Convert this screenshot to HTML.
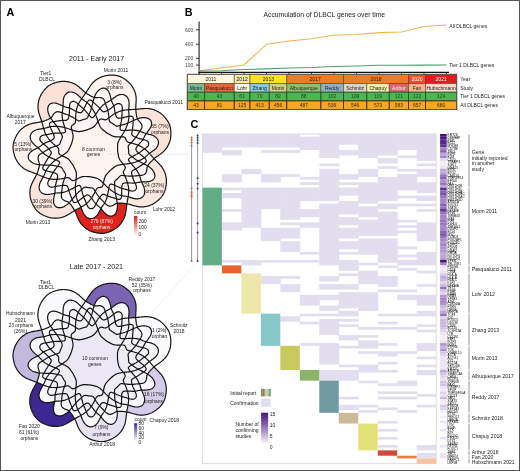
<!DOCTYPE html>
<html><head><meta charset="utf-8"><style>
html,body{margin:0;padding:0;background:#fff;width:520px;height:471px;overflow:hidden}
svg{display:block;opacity:0.996}
text{font-family:"Liberation Sans",sans-serif}
</style></head><body>
<svg width="520" height="471" viewBox="0 0 520 471" font-family="Liberation Sans, sans-serif">
<rect x="0" y="0" width="520" height="471" fill="#fff"/>
<defs>
<path id="vac0" d="M64.5,156.8L64.1,156.7L63.7,156.5L63.3,156.3L62.9,156.1L62.4,155.9L61.9,155.7L61.5,155.4L61.0,155.2L60.5,155.0L60.1,154.8L59.7,154.5L59.4,154.2L59.2,154.0L59.0,153.7L58.9,153.4L58.8,153.2L58.8,152.9L58.7,152.6L58.7,152.4L58.7,152.1L58.7,151.8L58.7,151.5L58.7,151.3L58.8,151.0L58.8,150.7L58.8,150.4L58.8,150.2L58.8,149.9L58.8,149.6L58.8,149.3L58.7,149.0L58.6,148.7L58.5,148.4L58.3,148.1L58.0,147.8L57.7,147.5L57.3,147.1L56.8,146.8L56.4,146.4L55.9,146.0L55.4,145.6L54.9,145.2L54.4,144.7L53.9,144.3L53.4,143.9L52.9,143.4L52.4,143.0L52.0,142.5L51.5,142.0L51.0,141.6L50.6,141.1L50.1,140.6L49.7,140.1L49.3,139.6L48.9,139.1L48.5,138.6L48.1,138.0L47.7,137.5L47.3,137.0L47.0,136.4L46.7,135.9L46.4,135.4L46.1,134.8L45.8,134.3L45.6,133.8L45.3,133.2L45.1,132.7L44.9,132.2L44.7,131.6L44.5,131.1L44.3,130.5L44.2,130.0L44.0,129.4L43.8,128.9L43.6,128.3L43.5,127.7L43.3,127.1L43.1,126.6L43.0,126.0L42.8,125.4L42.6,124.7L42.5,124.1L42.3,123.5L42.1,122.8L41.9,122.2L41.7,121.5L41.5,120.8L41.2,120.1L41.0,119.3L40.7,118.6L40.5,117.8L40.2,117.0L39.9,116.2L39.7,115.4L39.4,114.6L39.2,113.8L38.9,113.0L38.7,112.1L38.5,111.3L38.4,110.5L38.2,109.7L38.1,108.9L38.1,108.2L38.0,107.4L38.0,106.7L38.0,105.9L38.1,105.2L38.1,104.5L38.2,103.8L38.3,103.1L38.4,102.4L38.5,101.7L38.7,101.0L38.8,100.4L39.0,99.7L39.2,99.0L39.4,98.4L39.6,97.8L39.9,97.2L40.2,96.5L40.4,95.9L40.7,95.4L41.0,94.8L41.4,94.2L41.7,93.7L42.0,93.1L42.4,92.6L42.8,92.1L43.1,91.5L43.5,91.0L43.9,90.5L44.3,90.0L44.7,89.5L45.2,89.0L45.6,88.5L46.0,88.1L46.5,87.6L47.0,87.2L47.4,86.8L47.9,86.4L48.4,86.0L49.0,85.6L49.5,85.3L50.0,84.9L50.6,84.6L51.1,84.3L51.7,84.0L52.3,83.8L52.9,83.5L53.5,83.3L54.1,83.1L54.7,82.9L55.3,82.7L55.9,82.5L56.5,82.3L57.2,82.2L57.8,82.0L58.4,81.9L59.1,81.8L59.7,81.7L60.3,81.6L61.0,81.5L61.6,81.4L62.3,81.4L62.9,81.3L63.6,81.3L64.3,81.3L64.9,81.4L65.6,81.4L66.3,81.5L66.9,81.6L67.6,81.7L68.3,81.8L69.0,81.9L69.7,82.1L70.3,82.3L71.0,82.5L71.7,82.7L72.4,82.9L73.0,83.2L73.7,83.5L74.4,83.8L75.1,84.2L75.8,84.6L76.5,85.1L77.1,85.5L77.8,86.0L78.5,86.6L79.2,87.1L79.8,87.7L80.5,88.3L81.1,88.8L81.8,89.4L82.4,90.0L83.0,90.5L83.6,91.0L84.1,91.5L84.7,92.0L85.3,92.4L85.8,92.8L86.3,93.2L86.8,93.6L87.3,93.9L87.8,94.2L88.3,94.5L88.8,94.8L89.3,95.1L89.8,95.4L90.3,95.7L90.7,95.9L91.2,96.2L91.6,96.4L92.1,96.6L92.5,96.8L93.0,97.0L93.4,97.2L93.9,97.4L94.3,97.5L94.7,97.6L95.2,97.7L95.6,97.7L96.0,97.7L96.5,97.7L96.9,97.7L97.3,97.6L97.8,97.6L98.2,97.5L98.7,97.5L99.1,97.5L99.5,97.5L100.0,97.5L100.4,97.6L100.9,97.6L101.3,97.7L101.7,97.9L102.1,98.1L102.5,98.3L102.9,98.6L103.3,98.9L103.7,99.3L104.0,99.8L104.3,100.4L104.6,101.0L104.9,101.7L105.1,102.5L105.4,103.2L105.6,103.9L105.9,104.7L106.1,105.3L106.3,106.0L106.5,106.6L106.8,107.2L107.0,107.8L107.2,108.4L107.4,109.0L107.6,109.6L107.7,110.2L107.9,110.9L108.0,111.5L108.2,112.1L108.3,112.8L108.4,113.4L108.5,114.1L108.6,114.7L108.7,115.4L108.8,116.0L108.9,116.7L108.9,117.3L109.0,118.0L109.0,118.6L109.1,119.2L109.2,119.7L109.2,120.2L109.3,120.7L109.5,121.0L109.6,121.4L109.8,121.6L110.0,121.9L110.2,122.0L110.4,122.2L110.7,122.4L110.9,122.5L111.1,122.6L111.4,122.8L111.6,122.9L111.8,123.1L112.1,123.2L112.3,123.4L112.5,123.5L112.8,123.7L113.0,123.8L113.2,124.0L113.5,124.1L113.7,124.3L113.9,124.4L114.1,124.6L114.4,124.7L114.6,124.9L114.8,125.1L115.0,125.2L115.2,125.4L115.5,125.6L115.7,125.7L115.9,125.9L116.2,126.0L116.5,126.1L116.8,126.1L117.2,126.1L117.6,126.1L118.0,126.0L118.5,125.9L119.0,125.8L119.6,125.6L120.1,125.4L120.7,125.3L121.3,125.1L121.9,125.0L122.5,124.8L123.1,124.7L123.7,124.5L124.4,124.3L125.2,124.1L126.0,123.8L126.9,123.4L127.9,123.0L129.0,122.5L130.3,122.0L131.6,121.3L133.0,120.7L134.4,120.1L135.8,119.5L137.1,119.0L138.4,118.5L139.6,118.2L140.7,117.9L141.7,117.8L142.6,117.7L143.5,117.6L144.3,117.6L145.1,117.7L145.8,117.8L146.5,117.9L147.2,118.1L147.8,118.3L148.3,118.5L148.9,118.8L149.3,119.1L149.8,119.5L150.2,119.8L150.5,120.2L150.8,120.6L151.1,121.1L151.3,121.6L151.4,122.1L151.5,122.6L151.6,123.2L151.6,123.7L151.5,124.3L151.4,124.9L151.3,125.6L151.1,126.2L150.8,126.9L150.5,127.6L150.1,128.3L149.6,129.0L149.1,129.7L148.6,130.4L148.1,131.2L147.5,131.9L147.0,132.6L146.5,133.2L146.0,133.9L145.6,134.5L145.2,135.1L144.9,135.6L144.6,136.2L144.4,136.7L144.1,137.2L143.8,137.7L143.6,138.2L143.3,138.7L143.0,139.2L142.7,139.8L142.3,140.3L141.9,140.8L141.5,141.3L141.1,141.8L140.7,142.2L140.3,142.7L139.8,143.2L139.4,143.7L139.0,144.1L138.6,144.6L138.3,145.0L137.9,145.4L137.6,145.8L137.3,146.2L137.0,146.6L136.8,147.0L136.5,147.4L136.3,147.7L136.1,148.1L136.0,148.5L135.9,148.8L135.9,149.1L135.9,149.5L136.0,149.8L136.1,150.1L136.3,150.4L136.5,150.8L136.7,151.1L137.0,151.4L137.3,151.8L137.7,152.1L138.0,152.4L138.4,152.8L138.8,153.1L139.2,153.5L139.7,153.9L140.1,154.2L140.6,154.6L141.1,155.0L141.6,155.4L142.1,155.8L142.7,156.2L143.2,156.6L143.7,157.1L144.1,157.5L144.6,158.0L145.0,158.4L145.4,158.9L145.8,159.3L146.0,159.8L146.2,160.2L146.3,160.6L146.3,161.1L146.2,161.5L145.9,161.8L145.6,162.2L145.3,162.6L144.8,162.9L144.4,163.2L143.9,163.6L143.5,163.9L143.0,164.2L142.6,164.5L142.1,164.8L141.7,165.1L141.3,165.4L140.9,165.6L140.4,165.9L140.0,166.2L139.6,166.5L139.2,166.8L138.8,167.0L138.5,167.3L138.1,167.6L137.7,167.8L137.3,168.1L136.9,168.3L136.5,168.5L136.1,168.8L135.7,169.0L135.2,169.2L134.8,169.4L134.4,169.6L134.0,169.8L133.6,170.0L133.2,170.2L132.9,170.5L132.6,170.7L132.3,170.9L132.0,171.2L131.9,171.5L131.7,171.8L131.6,172.1L131.6,172.4L131.6,172.8L131.6,173.2L131.6,173.6L131.7,174.0L131.8,174.5L131.9,175.0L132.1,175.4L132.2,175.9L132.3,176.4L132.5,176.9L132.7,177.5L132.8,178.0L133.0,178.6L133.3,179.2L133.5,179.8L133.8,180.4L134.1,181.1L134.4,181.8L134.8,182.5L135.1,183.3L135.5,184.0L135.8,184.8L136.1,185.5L136.3,186.2L136.4,186.9L136.5,187.5L136.4,188.0L136.3,188.5L136.2,188.9L136.0,189.3L135.7,189.7L135.4,190.0L135.1,190.3L134.7,190.6L134.3,190.8L133.9,190.9L133.4,191.0L132.8,191.1L132.1,191.0L131.4,190.9L130.7,190.8L129.9,190.6L129.1,190.3L128.3,190.1L127.6,189.9L126.8,189.6L126.2,189.4L125.5,189.3L124.8,189.1L124.2,189.0L123.6,188.8L123.0,188.6L122.4,188.5L121.8,188.3L121.2,188.1L120.6,187.8L119.9,187.6L119.3,187.3L118.7,187.1L118.1,186.8L117.5,186.5L116.9,186.3L116.4,186.0L115.8,185.8L115.3,185.5L114.8,185.3L114.3,185.1L113.8,184.9L113.3,184.7L112.9,184.5L112.5,184.4L112.1,184.3L111.7,184.2L111.3,184.1L111.0,184.1L110.7,184.1L110.4,184.2L110.2,184.4L110.0,184.6L109.8,184.8L109.6,185.1L109.5,185.5L109.4,185.9L109.2,186.3L109.1,186.7L109.0,187.2L108.9,187.7L108.8,188.2L108.7,188.7L108.6,189.3L108.5,189.9L108.4,190.5L108.3,191.1L108.2,191.7L108.1,192.4L108.0,193.1L107.9,193.7L107.7,194.4L107.6,195.0L107.4,195.7L107.3,196.4L107.1,197.0L106.9,197.6L106.7,198.3L106.5,198.9L106.3,199.5L106.0,200.1L105.8,200.7L105.5,201.2L105.3,201.8L105.0,202.3L104.7,202.9L104.4,203.4L104.1,203.8L103.8,204.3L103.4,204.8L103.1,205.2L102.7,205.7L102.4,206.2L102.0,206.7L101.7,207.2L101.3,207.8L101.0,208.5L100.6,209.1L100.3,209.8L99.9,210.6L99.5,211.4L99.1,212.1L98.7,212.9L98.3,213.6L97.9,214.2L97.4,214.9L97.0,215.4L96.5,215.9L96.0,216.4L95.5,216.8L95.0,217.2L94.5,217.5L94.0,217.8L93.5,218.0L93.0,218.2L92.5,218.4L92.0,218.5L91.4,218.6L90.9,218.6L90.4,218.6L89.9,218.6L89.4,218.5L88.9,218.3L88.4,218.2L87.9,217.9L87.4,217.7L86.9,217.4L86.4,217.0L86.0,216.6L85.5,216.2L85.1,215.7L84.7,215.2L84.3,214.6L83.9,214.0L83.5,213.3L83.1,212.6L82.8,211.9L82.4,211.1L82.1,210.3L81.8,209.5L81.5,208.7L81.2,208.0L81.0,207.3L80.7,206.6L80.4,206.0L80.1,205.5L79.8,204.9L79.5,204.4L79.2,203.9L78.9,203.4L78.6,202.9L78.3,202.4L78.1,201.9L77.8,201.4L77.6,200.8L77.4,200.3L77.2,199.7L77.0,199.1L76.8,198.5L76.6,197.9L76.4,197.2L76.3,196.6L76.2,196.0L76.0,195.3L75.9,194.7L75.8,194.0L75.7,193.4L75.6,192.7L75.6,192.1L75.5,191.4L75.4,190.8L75.4,190.1L75.4,189.4L75.3,188.8L75.3,188.1L75.3,187.4L75.4,186.8L75.4,186.1L75.4,185.4L75.5,184.7L75.6,184.0L75.7,183.3L75.7,182.6L75.8,182.0L75.9,181.3L76.0,180.7L76.1,180.2L76.1,179.6L76.2,179.1L76.2,178.6L76.2,178.1L76.3,177.6L76.3,177.2L76.3,176.8L76.3,176.4L76.4,176.0L76.4,175.6L76.4,175.2L76.4,174.8L76.4,174.5L76.4,174.1L76.4,173.8L76.4,173.5L76.3,173.2L76.3,172.9L76.2,172.7L76.2,172.4L76.1,172.2L76.1,171.9L76.0,171.7L75.9,171.5L75.9,171.3L75.8,171.1L75.7,170.9L75.6,170.7L75.6,170.5L75.5,170.3L75.4,170.1L75.3,169.9L75.2,169.7L75.2,169.5L75.1,169.3L75.0,169.1L74.9,169.0L74.8,168.8L74.7,168.6L74.6,168.4L74.6,168.3L74.5,168.1L74.4,167.9L74.3,167.7L74.2,167.5L74.1,167.4L74.0,167.2L74.0,167.0L73.9,166.8L73.8,166.7L73.7,166.5L73.6,166.3L73.5,166.2L73.4,166.0L73.4,165.8L73.3,165.7L73.2,165.5L73.1,165.3L73.0,165.2L72.9,165.0L72.8,164.8L72.7,164.7L72.6,164.5L72.5,164.4L72.4,164.2L72.3,164.1L72.2,163.9L72.0,163.7L71.9,163.6L71.8,163.4L71.7,163.3L71.6,163.1L71.5,163.0L71.4,162.8L71.2,162.6L71.1,162.5L71.0,162.3L70.9,162.2L70.8,162.0L70.7,161.8L70.6,161.7L70.4,161.5L70.3,161.3L70.2,161.2L70.1,161.0L69.9,160.8L69.8,160.7L69.7,160.5L69.5,160.4L69.4,160.2L69.3,160.0L69.1,159.9L69.0,159.7L68.8,159.5L68.6,159.4L68.5,159.2L68.3,159.0L68.1,158.9L67.9,158.7L67.6,158.5L67.4,158.4L67.1,158.2L66.8,158.0L66.6,157.9L66.2,157.7L65.9,157.5L65.6,157.4L65.2,157.2L64.9,157.0Z"/>
<path id="vac1" d="M59.2,157.5L59.7,157.2L60.3,156.9L60.8,156.5L61.3,156.2L61.8,155.9L62.2,155.6L62.7,155.4L63.1,155.1L63.5,154.8L63.8,154.6L64.2,154.3L64.5,154.1L64.8,153.8L65.2,153.6L65.5,153.4L65.8,153.1L66.0,152.9L66.3,152.7L66.5,152.5L66.8,152.3L67.0,152.1L67.2,151.9L67.4,151.7L67.6,151.5L67.7,151.3L67.9,151.1L68.0,150.9L68.1,150.7L68.3,150.5L68.4,150.3L68.5,150.1L68.6,150.0L68.7,149.8L68.8,149.6L68.9,149.4L69.0,149.2L69.1,149.0L69.2,148.8L69.3,148.7L69.4,148.5L69.5,148.3L69.6,148.1L69.6,147.9L69.7,147.8L69.8,147.6L69.9,147.4L70.0,147.2L70.1,147.1L70.2,146.9L70.2,146.7L70.3,146.5L70.4,146.4L70.5,146.2L70.6,146.0L70.7,145.8L70.7,145.7L70.8,145.5L70.9,145.3L71.0,145.1L71.0,145.0L71.1,144.8L71.2,144.6L71.3,144.4L71.3,144.3L71.4,144.1L71.4,143.9L71.5,143.7L71.6,143.5L71.6,143.4L71.7,143.2L71.7,143.0L71.8,142.8L71.8,142.6L71.9,142.4L71.9,142.3L72.0,142.1L72.0,141.9L72.1,141.7L72.1,141.5L72.2,141.3L72.3,141.1L72.3,140.9L72.4,140.8L72.4,140.6L72.5,140.4L72.5,140.2L72.6,140.0L72.6,139.8L72.7,139.6L72.7,139.4L72.8,139.2L72.8,139.0L72.9,138.8L72.9,138.5L73.0,138.3L73.0,138.1L73.0,137.9L73.1,137.7L73.1,137.4L73.1,137.2L73.1,137.0L73.1,136.7L73.1,136.4L73.1,136.2L73.1,135.9L73.1,135.6L73.0,135.2L73.0,134.9L72.9,134.6L72.9,134.2L72.8,133.9L72.7,133.5L72.6,133.1L72.5,132.7L72.4,132.3L72.3,131.8L72.2,131.4L72.1,130.9L72.0,130.5L71.9,130.0L71.7,129.5L71.6,128.9L71.5,128.4L71.4,128.0L71.3,127.5L71.3,127.1L71.4,126.7L71.5,126.4L71.6,126.1L71.8,125.9L71.9,125.7L72.1,125.5L72.3,125.3L72.5,125.1L72.8,125.0L73.0,124.8L73.2,124.6L73.4,124.5L73.7,124.3L73.9,124.1L74.1,124.0L74.3,123.8L74.5,123.7L74.7,123.5L74.9,123.3L75.1,123.0L75.3,122.7L75.4,122.4L75.5,122.0L75.5,121.5L75.6,121.0L75.6,120.5L75.6,119.9L75.6,119.2L75.6,118.6L75.6,118.0L75.6,117.3L75.7,116.6L75.7,116.0L75.7,115.3L75.8,114.7L75.9,114.0L75.9,113.3L76.0,112.7L76.1,112.0L76.2,111.4L76.3,110.7L76.5,110.1L76.6,109.4L76.8,108.8L76.9,108.2L77.1,107.6L77.3,106.9L77.5,106.3L77.7,105.7L77.9,105.2L78.1,104.6L78.4,104.1L78.6,103.5L78.9,103.0L79.2,102.5L79.5,102.0L79.8,101.5L80.1,101.0L80.4,100.5L80.7,100.1L81.0,99.6L81.4,99.1L81.7,98.6L82.0,98.1L82.4,97.6L82.8,97.1L83.1,96.6L83.5,96.1L83.9,95.6L84.2,95.1L84.6,94.6L85.0,94.0L85.4,93.4L85.8,92.9L86.2,92.3L86.6,91.6L87.0,91.0L87.5,90.3L87.9,89.6L88.3,88.9L88.8,88.2L89.3,87.5L89.7,86.8L90.2,86.1L90.7,85.4L91.2,84.7L91.7,84.1L92.3,83.4L92.8,82.8L93.3,82.2L93.9,81.7L94.5,81.2L95.0,80.7L95.6,80.2L96.2,79.8L96.8,79.4L97.4,79.0L98.0,78.6L98.6,78.3L99.2,78.0L99.8,77.7L100.5,77.4L101.1,77.1L101.7,76.8L102.4,76.6L103.0,76.4L103.6,76.2L104.3,76.0L104.9,75.8L105.6,75.7L106.2,75.6L106.8,75.5L107.5,75.4L108.1,75.3L108.8,75.2L109.4,75.2L110.1,75.2L110.7,75.1L111.3,75.1L112.0,75.1L112.6,75.1L113.3,75.2L113.9,75.2L114.6,75.2L115.2,75.3L115.8,75.4L116.5,75.5L117.1,75.6L117.7,75.8L118.3,75.9L118.9,76.1L119.5,76.3L120.1,76.6L120.7,76.8L121.3,77.1L121.9,77.4L122.4,77.7L123.0,78.0L123.5,78.3L124.1,78.7L124.6,79.0L125.1,79.4L125.6,79.8L126.2,80.2L126.7,80.6L127.2,81.0L127.7,81.4L128.1,81.8L128.6,82.3L129.1,82.7L129.5,83.2L130.0,83.6L130.4,84.1L130.8,84.6L131.3,85.1L131.7,85.7L132.0,86.2L132.4,86.8L132.8,87.4L133.1,88.0L133.4,88.6L133.8,89.2L134.1,89.8L134.3,90.5L134.6,91.1L134.9,91.8L135.1,92.4L135.3,93.1L135.5,93.9L135.7,94.6L135.8,95.3L136.0,96.1L136.1,96.9L136.1,97.8L136.1,98.6L136.2,99.5L136.2,100.3L136.1,101.2L136.1,102.1L136.0,102.9L136.0,103.8L135.9,104.6L135.9,105.4L135.8,106.2L135.8,107.0L135.8,107.7L135.8,108.4L135.8,109.1L135.8,109.8L135.9,110.4L135.9,111.0L136.0,111.6L136.0,112.2L136.1,112.8L136.2,113.3L136.3,113.9L136.3,114.4L136.4,115.0L136.5,115.5L136.6,116.0L136.7,116.5L136.8,116.9L137.0,117.4L137.1,117.9L137.3,118.3L137.4,118.7L137.6,119.1L137.8,119.5L138.0,119.9L138.3,120.3L138.6,120.6L138.9,120.9L139.2,121.2L139.5,121.6L139.8,121.9L140.1,122.2L140.4,122.5L140.7,122.9L140.9,123.2L141.2,123.6L141.4,124.0L141.6,124.4L141.7,124.8L141.9,125.2L142.0,125.7L142.0,126.1L142.0,126.6L141.9,127.2L141.8,127.7L141.5,128.3L141.2,129.0L140.9,129.6L140.5,130.3L140.0,130.9L139.6,131.6L139.2,132.2L138.8,132.8L138.4,133.4L138.1,134.0L137.7,134.5L137.4,135.1L137.0,135.6L136.7,136.1L136.3,136.6L136.0,137.2L135.6,137.7L135.2,138.2L134.8,138.7L134.4,139.2L133.9,139.7L133.5,140.2L133.1,140.7L132.6,141.2L132.1,141.6L131.7,142.1L131.2,142.5L130.7,143.0L130.3,143.4L129.9,143.8L129.5,144.2L129.1,144.6L128.8,145.0L128.6,145.3L128.4,145.6L128.3,145.9L128.2,146.2L128.2,146.5L128.2,146.8L128.2,147.1L128.3,147.4L128.3,147.6L128.3,147.9L128.4,148.2L128.4,148.4L128.4,148.7L128.5,149.0L128.5,149.3L128.5,149.5L128.6,149.8L128.6,150.1L128.6,150.4L128.6,150.6L128.6,150.9L128.7,151.2L128.7,151.5L128.7,151.7L128.7,152.0L128.7,152.3L128.7,152.6L128.7,152.8L128.7,153.1L128.8,153.4L128.8,153.7L128.9,153.9L129.1,154.2L129.3,154.5L129.5,154.8L129.8,155.1L130.2,155.4L130.7,155.7L131.1,156.1L131.6,156.4L132.1,156.7L132.6,157.1L133.1,157.5L133.5,157.8L134.0,158.2L134.6,158.6L135.1,159.0L135.7,159.4L136.4,159.9L137.2,160.4L138.2,160.9L139.2,161.5L140.4,162.0L141.7,162.7L143.0,163.4L144.4,164.1L145.7,164.8L147.0,165.5L148.2,166.2L149.2,167.0L150.2,167.7L151.0,168.4L151.7,169.0L152.3,169.7L152.8,170.4L153.3,171.0L153.6,171.6L154.0,172.3L154.3,172.9L154.5,173.5L154.7,174.1L154.8,174.6L154.9,175.2L154.9,175.8L154.9,176.3L154.8,176.8L154.7,177.3L154.5,177.8L154.2,178.3L153.9,178.7L153.6,179.1L153.2,179.5L152.8,179.9L152.3,180.2L151.8,180.5L151.2,180.8L150.6,181.1L149.9,181.3L149.2,181.5L148.4,181.6L147.6,181.7L146.7,181.8L145.8,181.9L144.9,181.9L144.0,181.9L143.1,181.9L142.3,181.9L141.5,182.0L140.7,182.0L140.0,182.1L139.4,182.2L138.8,182.3L138.2,182.4L137.6,182.5L137.1,182.7L136.5,182.8L135.9,182.9L135.4,183.0L134.8,183.0L134.2,183.1L133.5,183.1L132.9,183.1L132.2,183.1L131.6,183.0L130.9,183.0L130.3,183.0L129.7,182.9L129.1,182.9L128.5,182.9L127.9,182.9L127.4,182.8L126.8,182.8L126.3,182.9L125.8,182.9L125.4,182.9L124.9,183.0L124.5,183.0L124.1,183.1L123.7,183.2L123.4,183.4L123.1,183.5L122.9,183.7L122.6,184.0L122.4,184.3L122.3,184.6L122.2,185.0L122.0,185.3L122.0,185.8L121.9,186.2L121.8,186.7L121.8,187.2L121.8,187.7L121.7,188.2L121.7,188.7L121.7,189.3L121.7,189.9L121.7,190.5L121.7,191.1L121.7,191.8L121.7,192.4L121.7,193.1L121.7,193.8L121.7,194.4L121.6,195.1L121.6,195.7L121.5,196.3L121.4,196.9L121.3,197.5L121.1,198.0L120.9,198.4L120.6,198.8L120.3,199.1L119.9,199.2L119.5,199.3L119.0,199.4L118.5,199.3L118.0,199.2L117.5,199.1L116.9,198.9L116.4,198.7L115.9,198.6L115.3,198.4L114.8,198.2L114.3,198.1L113.8,197.9L113.4,197.8L112.9,197.7L112.4,197.5L111.9,197.4L111.5,197.2L111.0,197.1L110.6,196.9L110.1,196.8L109.7,196.6L109.2,196.5L108.8,196.3L108.3,196.2L107.9,196.0L107.5,195.8L107.1,195.6L106.6,195.5L106.2,195.3L105.8,195.1L105.4,194.9L105.0,194.7L104.6,194.6L104.2,194.4L103.8,194.4L103.5,194.3L103.2,194.3L102.8,194.4L102.5,194.5L102.2,194.7L101.9,194.9L101.6,195.1L101.3,195.4L101.0,195.8L100.7,196.1L100.5,196.5L100.2,196.9L99.9,197.3L99.6,197.7L99.3,198.1L99.0,198.6L98.7,199.1L98.3,199.6L98.0,200.1L97.7,200.6L97.4,201.2L97.0,201.9L96.7,202.6L96.3,203.3L96.0,204.0L95.6,204.8L95.2,205.5L94.8,206.2L94.4,206.8L94.0,207.4L93.5,207.8L93.1,208.1L92.7,208.4L92.2,208.6L91.8,208.7L91.4,208.7L90.9,208.7L90.5,208.6L90.0,208.5L89.6,208.4L89.2,208.1L88.8,207.8L88.4,207.4L88.0,206.9L87.7,206.3L87.3,205.7L87.0,204.9L86.7,204.2L86.4,203.4L86.1,202.7L85.8,202.0L85.5,201.3L85.2,200.6L85.0,200.0L84.7,199.4L84.4,198.9L84.2,198.3L83.9,197.7L83.7,197.1L83.5,196.5L83.3,195.9L83.1,195.3L82.9,194.6L82.7,194.0L82.5,193.3L82.4,192.7L82.2,192.1L82.1,191.5L81.9,190.9L81.8,190.3L81.6,189.8L81.5,189.2L81.3,188.7L81.2,188.3L81.1,187.8L80.9,187.4L80.8,187.0L80.6,186.6L80.4,186.3L80.2,186.0L80.0,185.8L79.8,185.6L79.5,185.5L79.3,185.4L79.0,185.4L78.6,185.5L78.3,185.6L77.9,185.7L77.5,185.8L77.1,186.0L76.6,186.2L76.2,186.5L75.7,186.7L75.3,186.9L74.8,187.2L74.3,187.5L73.7,187.8L73.2,188.1L72.6,188.4L72.0,188.7L71.5,189.1L70.9,189.4L70.3,189.7L69.7,190.0L69.1,190.3L68.4,190.6L67.8,190.8L67.2,191.1L66.6,191.3L66.0,191.5L65.4,191.8L64.8,192.0L64.1,192.1L63.5,192.3L62.9,192.4L62.3,192.6L61.7,192.7L61.2,192.7L60.6,192.8L60.0,192.8L59.4,192.9L58.9,192.9L58.3,192.9L57.7,192.9L57.1,193.0L56.5,193.0L55.8,193.1L55.1,193.2L54.4,193.4L53.6,193.5L52.8,193.7L51.9,193.9L51.1,194.0L50.3,194.2L49.4,194.3L48.6,194.4L47.9,194.5L47.1,194.5L46.4,194.4L45.8,194.4L45.1,194.3L44.5,194.1L43.9,193.9L43.4,193.7L42.9,193.5L42.4,193.2L41.9,192.9L41.5,192.6L41.1,192.2L40.7,191.9L40.4,191.5L40.1,191.0L39.9,190.6L39.7,190.1L39.5,189.6L39.3,189.1L39.2,188.5L39.2,188.0L39.1,187.4L39.1,186.8L39.2,186.2L39.3,185.6L39.4,184.9L39.6,184.2L39.8,183.5L40.1,182.8L40.4,182.1L40.8,181.4L41.2,180.6L41.6,179.9L42.0,179.1L42.4,178.4L42.8,177.7L43.2,177.1L43.5,176.4L43.8,175.8L44.1,175.2L44.4,174.6L44.6,174.1L44.8,173.6L45.0,173.0L45.2,172.5L45.4,172.0L45.6,171.4L45.9,170.9L46.2,170.4L46.5,169.9L46.8,169.3L47.1,168.8L47.5,168.3L47.9,167.8L48.2,167.2L48.6,166.7L49.1,166.2L49.5,165.7L49.9,165.2L50.3,164.7L50.8,164.2L51.2,163.8L51.7,163.3L52.2,162.8L52.6,162.4L53.1,161.9L53.6,161.5L54.1,161.1L54.6,160.7L55.2,160.2L55.7,159.8L56.3,159.4L56.8,159.0L57.4,158.6L58.0,158.3L58.6,157.9Z"/>
<path id="vac2" d="M52.4,158.4L51.8,158.2L51.2,157.9L50.6,157.6L50.0,157.4L49.4,157.1L48.8,156.8L48.2,156.5L47.6,156.1L47.0,155.8L46.4,155.5L45.9,155.1L45.3,154.8L44.8,154.4L44.3,154.0L43.8,153.6L43.3,153.3L42.9,152.9L42.5,152.5L42.1,152.0L41.7,151.6L41.3,151.2L40.9,150.8L40.5,150.3L40.1,149.9L39.7,149.4L39.3,149.0L38.8,148.5L38.3,148.0L37.8,147.6L37.2,147.0L36.5,146.5L35.9,146.0L35.2,145.4L34.6,144.9L34.0,144.3L33.4,143.8L32.9,143.2L32.4,142.6L31.9,142.0L31.6,141.5L31.2,140.9L31.0,140.3L30.7,139.8L30.5,139.2L30.4,138.7L30.3,138.1L30.2,137.6L30.2,137.0L30.2,136.5L30.3,136.0L30.4,135.5L30.5,135.0L30.7,134.5L30.9,134.0L31.2,133.6L31.5,133.1L31.8,132.7L32.2,132.3L32.6,131.9L33.1,131.5L33.6,131.2L34.1,130.8L34.7,130.5L35.3,130.2L36.0,130.0L36.7,129.7L37.5,129.5L38.3,129.3L39.1,129.2L39.9,129.1L40.8,128.9L41.6,128.8L42.4,128.7L43.2,128.6L43.9,128.4L44.6,128.3L45.2,128.1L45.8,128.0L46.4,127.8L47.0,127.6L47.5,127.4L48.1,127.3L48.6,127.1L49.2,127.0L49.7,126.8L50.3,126.7L50.9,126.6L51.5,126.5L52.1,126.5L52.8,126.4L53.4,126.4L54.0,126.3L54.7,126.3L55.3,126.3L56.0,126.3L56.7,126.4L57.3,126.4L58.0,126.4L58.6,126.5L59.3,126.6L59.9,126.6L60.6,126.7L61.2,126.8L61.9,126.9L62.5,127.1L63.2,127.2L63.8,127.3L64.5,127.5L65.2,127.7L65.8,127.9L66.5,128.1L67.1,128.3L67.8,128.5L68.4,128.8L69.1,129.0L69.7,129.2L70.3,129.4L70.8,129.6L71.4,129.8L71.9,130.0L72.4,130.2L72.8,130.3L73.3,130.5L73.7,130.6L74.2,130.7L74.6,130.8L75.0,130.9L75.3,131.0L75.7,131.1L76.1,131.2L76.4,131.3L76.8,131.4L77.1,131.4L77.4,131.5L77.7,131.5L78.0,131.6L78.2,131.6L78.5,131.6L78.8,131.6L79.0,131.6L79.2,131.6L79.5,131.6L79.7,131.6L79.9,131.5L80.2,131.5L80.4,131.5L80.6,131.5L80.8,131.4L81.0,131.4L81.2,131.3L81.4,131.3L81.6,131.3L81.8,131.2L82.0,131.2L82.2,131.1L82.4,131.1L82.6,131.1L82.8,131.0L83.0,131.0L83.2,130.9L83.4,130.9L83.6,130.8L83.7,130.8L83.9,130.7L84.1,130.7L84.3,130.7L84.5,130.6L84.7,130.6L84.9,130.5L85.1,130.5L85.2,130.4L85.4,130.4L85.6,130.3L85.8,130.3L86.0,130.2L86.2,130.2L86.3,130.1L86.5,130.1L86.7,130.0L86.9,129.9L87.1,129.9L87.2,129.8L87.4,129.7L87.6,129.7L87.8,129.6L87.9,129.5L88.1,129.5L88.3,129.4L88.5,129.3L88.7,129.2L88.8,129.2L89.0,129.1L89.2,129.0L89.4,128.9L89.6,128.9L89.7,128.8L89.9,128.7L90.1,128.6L90.3,128.6L90.5,128.5L90.7,128.4L90.9,128.3L91.0,128.2L91.2,128.1L91.4,128.1L91.6,128.0L91.8,127.9L92.0,127.8L92.2,127.7L92.4,127.6L92.6,127.5L92.8,127.3L93.0,127.2L93.2,127.1L93.4,127.0L93.6,126.8L93.8,126.6L94.0,126.5L94.2,126.3L94.4,126.1L94.6,125.8L94.9,125.6L95.1,125.3L95.3,125.1L95.6,124.8L95.8,124.5L96.1,124.2L96.3,123.9L96.6,123.5L96.8,123.2L97.1,122.8L97.4,122.5L97.7,122.1L98.0,121.7L98.3,121.3L98.6,120.8L99.0,120.4L99.3,120.0L99.6,119.7L99.9,119.4L100.2,119.2L100.6,119.1L100.8,119.0L101.1,118.9L101.4,118.9L101.7,119.0L102.0,119.0L102.2,119.1L102.5,119.1L102.8,119.2L103.0,119.3L103.3,119.3L103.6,119.4L103.8,119.5L104.1,119.6L104.4,119.6L104.6,119.7L104.9,119.8L105.2,119.8L105.5,119.8L105.8,119.7L106.1,119.6L106.5,119.5L106.9,119.3L107.3,119.0L107.7,118.7L108.2,118.3L108.7,117.9L109.2,117.5L109.7,117.1L110.2,116.7L110.7,116.3L111.3,116.0L111.8,115.6L112.3,115.2L112.9,114.8L113.5,114.5L114.0,114.1L114.6,113.8L115.2,113.5L115.7,113.2L116.3,112.9L116.9,112.6L117.5,112.3L118.1,112.0L118.7,111.7L119.3,111.5L119.9,111.3L120.5,111.1L121.1,110.9L121.7,110.7L122.2,110.5L122.8,110.4L123.4,110.3L124.0,110.2L124.5,110.1L125.1,110.0L125.7,110.0L126.3,109.9L126.8,109.9L127.4,109.8L128.0,109.8L128.6,109.7L129.2,109.7L129.8,109.6L130.4,109.6L131.0,109.6L131.6,109.6L132.3,109.5L132.9,109.5L133.5,109.5L134.2,109.4L134.9,109.4L135.6,109.3L136.3,109.3L137.0,109.2L137.8,109.1L138.6,109.1L139.4,109.0L140.2,108.9L141.0,108.8L141.9,108.7L142.7,108.6L143.6,108.6L144.4,108.5L145.3,108.5L146.1,108.5L147.0,108.5L147.8,108.5L148.6,108.6L149.4,108.7L150.1,108.8L150.9,108.9L151.6,109.1L152.3,109.3L153.0,109.5L153.7,109.7L154.3,109.9L155.0,110.2L155.6,110.5L156.3,110.7L156.9,111.0L157.5,111.4L158.1,111.7L158.7,112.0L159.3,112.4L159.8,112.7L160.4,113.1L160.9,113.5L161.4,113.9L161.9,114.4L162.4,114.8L162.8,115.2L163.3,115.7L163.8,116.2L164.2,116.6L164.6,117.1L165.1,117.6L165.5,118.1L165.9,118.6L166.3,119.1L166.7,119.6L167.0,120.1L167.4,120.7L167.7,121.2L168.1,121.8L168.4,122.3L168.7,122.9L169.0,123.5L169.2,124.0L169.5,124.6L169.7,125.2L169.9,125.8L170.1,126.4L170.2,127.0L170.4,127.7L170.5,128.3L170.6,128.9L170.7,129.6L170.7,130.2L170.8,130.8L170.8,131.5L170.9,132.1L170.9,132.8L170.9,133.4L170.9,134.1L170.9,134.7L170.8,135.4L170.8,136.0L170.7,136.6L170.7,137.3L170.6,137.9L170.5,138.6L170.4,139.2L170.2,139.9L170.0,140.5L169.9,141.2L169.7,141.8L169.4,142.4L169.2,143.1L168.9,143.7L168.6,144.3L168.3,145.0L168.0,145.6L167.7,146.2L167.3,146.8L167.0,147.4L166.6,148.1L166.1,148.7L165.7,149.2L165.2,149.8L164.7,150.4L164.1,151.0L163.5,151.6L162.9,152.1L162.2,152.7L161.5,153.2L160.9,153.7L160.2,154.2L159.4,154.7L158.7,155.2L158.1,155.7L157.4,156.2L156.7,156.6L156.1,157.1L155.5,157.6L154.9,158.0L154.4,158.4L153.9,158.9L153.4,159.3L153.0,159.7L152.5,160.1L152.1,160.6L151.7,161.0L151.3,161.4L150.9,161.8L150.6,162.2L150.2,162.6L149.8,163.0L149.5,163.4L149.2,163.7L148.9,164.1L148.6,164.5L148.3,164.9L148.0,165.3L147.8,165.7L147.6,166.1L147.4,166.5L147.2,166.9L147.1,167.3L147.0,167.8L146.9,168.2L146.9,168.6L146.8,169.1L146.8,169.5L146.7,169.9L146.7,170.4L146.6,170.8L146.5,171.2L146.3,171.7L146.2,172.1L146.0,172.5L145.8,172.9L145.5,173.2L145.3,173.6L144.9,173.9L144.6,174.2L144.1,174.5L143.6,174.8L143.0,175.0L142.3,175.1L141.6,175.3L140.8,175.4L140.1,175.4L139.3,175.5L138.6,175.6L137.8,175.6L137.1,175.7L136.4,175.8L135.8,175.9L135.1,175.9L134.5,176.0L133.9,176.1L133.3,176.1L132.6,176.2L132.0,176.2L131.3,176.2L130.7,176.2L130.0,176.2L129.4,176.2L128.7,176.1L128.1,176.1L127.4,176.0L126.8,176.0L126.1,175.9L125.5,175.8L124.8,175.7L124.2,175.7L123.6,175.6L123.0,175.5L122.5,175.5L122.0,175.4L121.6,175.5L121.2,175.5L120.9,175.6L120.6,175.7L120.3,175.9L120.1,176.1L119.9,176.2L119.7,176.4L119.5,176.6L119.3,176.8L119.1,177.0L119.0,177.2L118.8,177.4L118.6,177.6L118.4,177.8L118.2,178.0L118.0,178.2L117.8,178.4L117.6,178.6L117.4,178.8L117.2,179.0L117.0,179.1L116.8,179.3L116.6,179.5L116.4,179.7L116.1,179.9L115.9,180.0L115.7,180.2L115.5,180.4L115.3,180.6L115.1,180.8L115.0,181.0L114.8,181.3L114.7,181.6L114.6,182.0L114.6,182.4L114.6,182.9L114.6,183.4L114.6,184.0L114.7,184.6L114.7,185.2L114.7,185.8L114.8,186.4L114.8,187.0L114.8,187.6L114.8,188.2L114.8,188.9L114.9,189.7L114.9,190.5L115.0,191.4L115.2,192.4L115.4,193.5L115.7,194.8L116.0,196.2L116.3,197.6L116.6,199.1L116.9,200.6L117.1,202.1L117.3,203.5L117.4,204.8L117.4,206.0L117.4,207.0L117.3,208.0L117.2,209.0L117.0,209.8L116.8,210.6L116.6,211.3L116.3,212.0L116.0,212.6L115.7,213.1L115.3,213.7L115.0,214.1L114.6,214.6L114.2,214.9L113.7,215.3L113.3,215.5L112.8,215.8L112.3,215.9L111.8,216.1L111.3,216.1L110.8,216.1L110.2,216.1L109.7,216.0L109.1,215.9L108.6,215.7L108.0,215.4L107.4,215.1L106.8,214.7L106.2,214.3L105.6,213.8L105.0,213.2L104.4,212.6L103.8,212.0L103.2,211.3L102.6,210.6L102.1,209.9L101.5,209.2L101.0,208.6L100.5,208.0L100.0,207.5L99.5,207.0L99.0,206.6L98.6,206.2L98.1,205.9L97.7,205.5L97.2,205.1L96.8,204.8L96.4,204.4L96.0,203.9L95.5,203.5L95.1,203.0L94.7,202.5L94.3,202.0L93.9,201.5L93.6,201.0L93.2,200.5L92.8,199.9L92.5,199.4L92.1,198.9L91.8,198.5L91.4,198.0L91.1,197.6L90.8,197.2L90.5,196.9L90.2,196.5L89.8,196.2L89.5,195.9L89.2,195.6L88.9,195.4L88.6,195.2L88.3,195.1L87.9,195.0L87.6,194.9L87.3,195.0L86.9,195.0L86.6,195.1L86.2,195.3L85.8,195.5L85.4,195.7L85.0,195.9L84.6,196.2L84.2,196.5L83.8,196.8L83.4,197.1L82.9,197.4L82.4,197.8L82.0,198.2L81.5,198.5L81.0,199.0L80.5,199.4L80.0,199.8L79.4,200.2L78.9,200.6L78.4,201.0L77.8,201.3L77.3,201.7L76.8,202.0L76.3,202.2L75.7,202.4L75.3,202.5L74.8,202.6L74.4,202.5L74.0,202.4L73.6,202.1L73.3,201.8L73.0,201.4L72.8,200.9L72.6,200.4L72.4,199.9L72.2,199.4L72.0,198.9L71.8,198.4L71.6,197.9L71.4,197.4L71.2,196.9L71.0,196.4L70.8,196.0L70.6,195.5L70.4,195.0L70.2,194.6L70.1,194.1L69.9,193.7L69.7,193.3L69.6,192.8L69.4,192.4L69.3,191.9L69.1,191.5L69.0,191.1L68.8,190.6L68.7,190.2L68.6,189.7L68.5,189.3L68.4,188.8L68.3,188.4L68.2,187.9L68.0,187.5L67.9,187.2L67.7,186.8L67.6,186.5L67.3,186.2L67.1,186.0L66.8,185.8L66.5,185.7L66.2,185.6L65.8,185.5L65.4,185.4L65.0,185.4L64.5,185.4L64.1,185.4L63.6,185.4L63.1,185.4L62.6,185.4L62.0,185.5L61.5,185.5L60.9,185.6L60.4,185.6L59.8,185.7L59.1,185.8L58.5,185.9L57.8,186.0L57.0,186.2L56.2,186.4L55.4,186.5L54.6,186.7L53.8,186.9L53.0,187.0L52.3,187.1L51.6,187.1L50.9,187.1L50.4,187.0L49.9,186.8L49.5,186.6L49.1,186.3L48.8,186.0L48.5,185.7L48.2,185.3L48.0,184.9L47.9,184.5L47.8,184.0L47.8,183.5L47.8,183.0L47.9,182.4L48.2,181.7L48.4,181.0L48.8,180.3L49.2,179.6L49.6,178.9L50.0,178.2L50.4,177.5L50.8,176.9L51.1,176.3L51.4,175.7L51.7,175.1L52.0,174.5L52.3,174.0L52.6,173.4L52.9,172.9L53.2,172.3L53.6,171.8L53.9,171.2L54.3,170.7L54.7,170.1L55.1,169.6L55.5,169.1L55.9,168.5L56.3,168.0L56.6,167.5L57.0,167.1L57.3,166.6L57.7,166.2L58.0,165.7L58.3,165.3L58.5,164.9L58.8,164.5L59.0,164.2L59.2,163.8L59.4,163.5L59.5,163.1L59.5,162.8L59.6,162.5L59.5,162.3L59.4,162.0L59.2,161.7L59.0,161.5L58.7,161.3L58.4,161.1L58.0,160.9L57.6,160.7L57.2,160.4L56.8,160.2L56.3,160.0L55.8,159.8L55.3,159.6L54.8,159.4L54.2,159.1L53.6,158.9L53.0,158.7Z"/>
<path id="vac3" d="M47.5,159.1L47.7,158.7L47.9,158.3L48.2,157.9L48.5,157.5L48.7,157.1L49.0,156.7L49.3,156.4L49.6,156.0L49.8,155.6L50.1,155.3L50.4,154.9L50.6,154.6L50.9,154.2L51.0,153.9L51.2,153.5L51.3,153.2L51.3,152.9L51.3,152.5L51.2,152.2L51.1,151.9L51.0,151.5L50.8,151.2L50.5,150.8L50.3,150.5L50.0,150.1L49.7,149.8L49.4,149.4L49.0,149.0L48.7,148.6L48.3,148.2L47.9,147.8L47.5,147.4L47.1,147.0L46.6,146.5L46.1,146.1L45.6,145.6L45.1,145.2L44.5,144.7L43.8,144.1L43.2,143.6L42.5,143.1L41.9,142.5L41.4,142.0L40.9,141.5L40.5,140.9L40.2,140.4L40.0,139.9L39.9,139.5L39.9,139.0L39.9,138.6L40.0,138.1L40.1,137.7L40.2,137.3L40.5,136.9L40.7,136.5L41.1,136.2L41.5,135.9L42.0,135.6L42.7,135.4L43.4,135.2L44.1,135.0L44.9,134.8L45.7,134.7L46.5,134.6L47.3,134.5L48.0,134.4L48.7,134.2L49.4,134.1L50.1,134.0L50.7,133.8L51.3,133.7L51.9,133.6L52.5,133.5L53.2,133.4L53.8,133.3L54.5,133.3L55.1,133.2L55.8,133.2L56.5,133.2L57.1,133.1L57.8,133.1L58.4,133.1L59.0,133.1L59.6,133.1L60.2,133.1L60.8,133.0L61.3,133.0L61.8,133.0L62.3,133.0L62.8,132.9L63.2,132.9L63.6,132.8L64.0,132.7L64.4,132.6L64.7,132.5L64.9,132.3L65.1,132.1L65.2,131.9L65.3,131.6L65.4,131.3L65.4,130.9L65.4,130.5L65.3,130.1L65.3,129.7L65.2,129.2L65.0,128.8L64.9,128.3L64.8,127.8L64.6,127.2L64.5,126.7L64.3,126.1L64.2,125.5L64.0,124.9L63.8,124.3L63.6,123.7L63.4,123.0L63.2,122.4L63.1,121.7L62.9,121.1L62.8,120.4L62.6,119.7L62.5,119.1L62.4,118.4L62.3,117.8L62.3,117.1L62.2,116.5L62.1,115.8L62.1,115.2L62.1,114.6L62.1,114.0L62.1,113.4L62.2,112.8L62.2,112.2L62.3,111.6L62.4,111.1L62.5,110.5L62.6,109.9L62.7,109.4L62.8,108.8L62.9,108.2L63.0,107.5L63.0,106.8L63.1,106.1L63.1,105.3L63.1,104.5L63.1,103.7L63.2,102.8L63.2,102.0L63.2,101.1L63.3,100.3L63.4,99.5L63.5,98.8L63.7,98.1L63.9,97.4L64.1,96.8L64.4,96.2L64.7,95.7L65.0,95.2L65.3,94.7L65.7,94.3L66.1,93.9L66.5,93.5L66.9,93.2L67.3,92.9L67.8,92.6L68.2,92.4L68.7,92.2L69.2,92.1L69.8,92.0L70.3,92.0L70.8,92.0L71.4,92.0L72.0,92.1L72.5,92.2L73.1,92.3L73.7,92.5L74.3,92.8L74.9,93.1L75.6,93.4L76.2,93.8L76.8,94.3L77.5,94.8L78.1,95.3L78.7,95.9L79.4,96.5L80.0,97.0L80.6,97.6L81.1,98.1L81.7,98.6L82.3,99.1L82.8,99.5L83.3,99.9L83.8,100.2L84.3,100.5L84.8,100.9L85.2,101.2L85.7,101.5L86.2,101.8L86.6,102.2L87.1,102.6L87.5,103.0L88.0,103.4L88.4,103.8L88.8,104.3L89.3,104.7L89.7,105.2L90.1,105.7L90.5,106.2L90.9,106.8L91.3,107.3L91.7,107.8L92.1,108.4L92.4,108.9L92.8,109.4L93.1,110.0L93.5,110.6L93.8,111.1L94.1,111.7L94.5,112.3L94.8,112.9L95.1,113.5L95.3,114.1L95.6,114.7L95.9,115.4L96.1,116.0L96.4,116.7L96.6,117.3L96.8,118.0L97.1,118.6L97.3,119.2L97.5,119.8L97.7,120.4L97.8,120.9L98.0,121.5L98.2,122.0L98.4,122.4L98.6,122.9L98.7,123.3L98.9,123.7L99.1,124.1L99.2,124.5L99.4,124.8L99.5,125.2L99.7,125.5L99.8,125.9L100.0,126.2L100.1,126.5L100.3,126.8L100.4,127.0L100.6,127.3L100.8,127.5L100.9,127.7L101.1,127.9L101.2,128.1L101.4,128.3L101.5,128.5L101.7,128.6L101.8,128.8L102.0,129.0L102.2,129.1L102.3,129.3L102.5,129.4L102.6,129.6L102.8,129.7L103.0,129.8L103.1,130.0L103.3,130.1L103.4,130.2L103.6,130.4L103.7,130.5L103.9,130.6L104.0,130.7L104.2,130.8L104.4,131.0L104.5,131.1L104.7,131.2L104.8,131.3L105.0,131.5L105.1,131.6L105.3,131.7L105.4,131.8L105.6,131.9L105.7,132.1L105.9,132.2L106.0,132.3L106.2,132.4L106.3,132.5L106.5,132.6L106.6,132.7L106.8,132.9L106.9,133.0L107.1,133.1L107.3,133.2L107.4,133.3L107.6,133.4L107.7,133.5L107.9,133.6L108.1,133.7L108.2,133.7L108.4,133.8L108.6,133.9L108.7,134.0L108.9,134.1L109.1,134.2L109.3,134.3L109.4,134.4L109.6,134.5L109.8,134.6L109.9,134.7L110.1,134.8L110.3,134.9L110.5,135.0L110.6,135.1L110.8,135.2L111.0,135.3L111.2,135.4L111.4,135.4L111.5,135.5L111.7,135.6L111.9,135.7L112.1,135.8L112.3,135.9L112.5,136.0L112.7,136.1L112.9,136.2L113.1,136.2L113.3,136.3L113.6,136.4L113.8,136.5L114.0,136.5L114.3,136.6L114.5,136.7L114.8,136.7L115.1,136.7L115.4,136.8L115.8,136.8L116.1,136.8L116.4,136.8L116.8,136.9L117.2,136.9L117.6,136.9L118.0,136.9L118.4,136.9L118.8,136.9L119.3,136.9L119.7,136.9L120.2,136.9L120.7,136.8L121.2,136.8L121.8,136.8L122.3,136.8L122.8,136.8L123.3,136.8L123.7,136.9L124.1,137.0L124.4,137.2L124.7,137.3L124.9,137.5L125.1,137.7L125.3,138.0L125.4,138.2L125.5,138.4L125.6,138.7L125.8,138.9L125.9,139.2L126.0,139.4L126.1,139.7L126.2,140.0L126.3,140.2L126.4,140.5L126.5,140.7L126.6,141.0L126.8,141.2L126.9,141.4L127.2,141.6L127.4,141.9L127.8,142.0L128.2,142.2L128.6,142.4L129.1,142.5L129.7,142.7L130.3,142.8L130.9,142.9L131.5,143.1L132.2,143.2L132.8,143.4L133.4,143.6L134.1,143.8L134.7,144.0L135.3,144.2L136.0,144.4L136.6,144.6L137.2,144.8L137.8,145.1L138.4,145.3L139.0,145.6L139.6,145.9L140.2,146.1L140.8,146.4L141.4,146.7L141.9,147.0L142.5,147.4L143.0,147.7L143.6,148.0L144.1,148.4L144.5,148.7L145.0,149.1L145.5,149.5L145.9,149.9L146.3,150.3L146.8,150.7L147.2,151.1L147.6,151.5L148.0,151.9L148.4,152.3L148.8,152.7L149.2,153.2L149.6,153.6L150.0,154.0L150.4,154.5L150.8,155.0L151.2,155.4L151.6,155.9L152.0,156.4L152.5,156.9L152.9,157.4L153.3,157.9L153.8,158.4L154.3,158.9L154.8,159.4L155.3,160.0L155.9,160.5L156.4,161.1L157.0,161.7L157.6,162.3L158.2,162.9L158.8,163.5L159.4,164.1L159.9,164.8L160.5,165.4L161.0,166.0L161.6,166.7L162.1,167.4L162.5,168.0L162.9,168.7L163.3,169.4L163.7,170.0L164.0,170.7L164.3,171.4L164.6,172.0L164.9,172.7L165.1,173.4L165.3,174.0L165.5,174.7L165.7,175.4L165.9,176.0L166.0,176.7L166.1,177.4L166.2,178.1L166.3,178.7L166.4,179.4L166.4,180.1L166.4,180.7L166.4,181.4L166.4,182.0L166.4,182.7L166.3,183.3L166.3,184.0L166.2,184.6L166.1,185.3L166.0,185.9L165.9,186.5L165.8,187.2L165.6,187.8L165.5,188.4L165.3,189.1L165.2,189.7L165.0,190.3L164.8,190.9L164.6,191.5L164.3,192.1L164.1,192.7L163.8,193.3L163.5,193.8L163.2,194.4L162.9,194.9L162.5,195.5L162.2,196.0L161.8,196.5L161.4,197.0L161.0,197.5L160.6,198.0L160.1,198.4L159.7,198.9L159.2,199.3L158.8,199.8L158.3,200.2L157.8,200.6L157.3,201.0L156.8,201.4L156.3,201.8L155.7,202.2L155.2,202.6L154.7,202.9L154.1,203.3L153.6,203.6L153.0,203.9L152.4,204.3L151.8,204.6L151.2,204.8L150.6,205.1L150.0,205.3L149.4,205.6L148.7,205.8L148.1,206.0L147.4,206.2L146.7,206.3L146.0,206.5L145.3,206.6L144.6,206.7L143.9,206.8L143.2,206.9L142.5,206.9L141.7,206.9L141.0,206.9L140.2,206.9L139.4,206.8L138.6,206.7L137.8,206.6L136.9,206.4L136.1,206.2L135.2,206.0L134.4,205.8L133.6,205.6L132.7,205.3L131.9,205.1L131.1,204.8L130.4,204.6L129.6,204.4L128.9,204.2L128.2,204.0L127.5,203.9L126.8,203.8L126.2,203.7L125.6,203.6L125.0,203.5L124.4,203.4L123.8,203.3L123.2,203.3L122.7,203.2L122.1,203.2L121.6,203.1L121.1,203.1L120.5,203.1L120.0,203.1L119.5,203.1L119.0,203.1L118.6,203.1L118.1,203.2L117.6,203.2L117.2,203.3L116.7,203.4L116.3,203.5L115.9,203.6L115.5,203.8L115.1,204.0L114.8,204.3L114.4,204.5L114.0,204.7L113.6,205.0L113.3,205.2L112.9,205.4L112.5,205.6L112.1,205.7L111.6,205.9L111.2,206.0L110.8,206.1L110.3,206.1L109.9,206.2L109.4,206.1L108.9,206.0L108.5,205.9L107.9,205.7L107.4,205.3L106.9,204.9L106.3,204.5L105.8,204.0L105.2,203.4L104.7,202.8L104.2,202.3L103.7,201.8L103.2,201.3L102.7,200.8L102.2,200.3L101.7,199.8L101.3,199.4L100.8,198.9L100.4,198.5L100.0,198.0L99.6,197.5L99.1,197.0L98.7,196.5L98.3,196.0L97.9,195.5L97.5,195.0L97.2,194.4L96.8,193.9L96.4,193.3L96.1,192.8L95.7,192.2L95.4,191.7L95.1,191.1L94.8,190.6L94.5,190.1L94.2,189.6L93.9,189.2L93.6,188.9L93.3,188.6L93.0,188.4L92.8,188.2L92.5,188.1L92.2,188.0L91.9,188.0L91.7,188.0L91.4,187.9L91.1,187.9L90.9,187.9L90.6,187.9L90.3,187.8L90.0,187.8L89.8,187.8L89.5,187.7L89.2,187.7L88.9,187.7L88.7,187.6L88.4,187.6L88.1,187.6L87.9,187.5L87.6,187.5L87.3,187.4L87.0,187.4L86.8,187.3L86.5,187.3L86.2,187.2L86.0,187.2L85.7,187.1L85.4,187.1L85.1,187.1L84.8,187.2L84.5,187.3L84.2,187.4L83.8,187.6L83.5,187.9L83.1,188.2L82.6,188.6L82.2,189.0L81.8,189.4L81.3,189.8L80.9,190.2L80.4,190.6L79.9,190.9L79.4,191.3L78.9,191.8L78.4,192.2L77.8,192.8L77.2,193.4L76.5,194.1L75.8,195.0L75.0,195.9L74.1,197.0L73.2,198.1L72.2,199.3L71.2,200.5L70.2,201.6L69.2,202.6L68.3,203.6L67.3,204.4L66.5,205.1L65.6,205.6L64.8,206.1L64.1,206.6L63.3,206.9L62.6,207.2L61.9,207.4L61.2,207.6L60.6,207.7L59.9,207.7L59.3,207.8L58.8,207.7L58.2,207.6L57.7,207.5L57.2,207.4L56.7,207.1L56.2,206.9L55.8,206.6L55.4,206.2L55.1,205.8L54.8,205.4L54.5,204.9L54.2,204.4L54.0,203.9L53.8,203.3L53.7,202.6L53.6,201.9L53.6,201.2L53.6,200.4L53.6,199.6L53.7,198.8L53.9,197.9L54.0,197.0L54.2,196.1L54.4,195.2L54.6,194.4L54.8,193.6L54.9,192.8L55.0,192.1L55.1,191.4L55.1,190.8L55.1,190.2L55.1,189.6L55.1,189.0L55.1,188.4L55.2,187.9L55.2,187.3L55.3,186.7L55.3,186.1L55.4,185.5L55.6,184.9L55.7,184.2L55.9,183.6L56.1,183.0L56.2,182.4L56.4,181.8L56.6,181.2L56.8,180.6L56.9,180.0L57.0,179.5L57.2,178.9L57.3,178.4L57.4,178.0L57.5,177.5L57.5,177.0L57.6,176.6L57.6,176.2L57.6,175.8L57.5,175.4L57.5,175.1L57.3,174.8L57.2,174.5L57.0,174.2L56.7,174.0L56.4,173.7L56.1,173.5L55.7,173.4L55.3,173.2L54.9,173.0L54.4,172.9L53.9,172.7L53.5,172.6L52.9,172.4L52.4,172.3L51.8,172.2L51.3,172.0L50.6,171.9L50.0,171.8L49.4,171.6L48.7,171.5L48.1,171.3L47.5,171.2L46.8,171.0L46.2,170.8L45.6,170.6L45.0,170.4L44.5,170.1L44.0,169.9L43.6,169.6L43.2,169.2L43.0,168.9L42.8,168.5L42.8,168.1L42.8,167.6L42.9,167.2L43.1,166.7L43.4,166.2L43.6,165.7L43.9,165.2L44.2,164.7L44.5,164.3L44.7,163.8L45.0,163.3L45.3,162.9L45.5,162.4L45.8,162.0L46.0,161.6L46.2,161.1L46.5,160.7L46.7,160.3L47.0,159.9L47.2,159.5Z"/>
<path id="vac4" d="M30.4,161.3L30.0,160.9L29.6,160.4L29.2,159.9L28.9,159.5L28.7,159.0L28.5,158.5L28.3,158.0L28.2,157.4L28.2,156.9L28.2,156.4L28.3,155.9L28.4,155.4L28.6,154.9L28.8,154.3L29.1,153.8L29.5,153.3L29.9,152.8L30.3,152.3L30.8,151.8L31.4,151.4L32.1,150.9L32.8,150.4L33.5,150.0L34.3,149.6L35.1,149.1L35.9,148.7L36.7,148.4L37.5,148.0L38.2,147.6L38.8,147.2L39.4,146.8L40.0,146.5L40.5,146.1L40.9,145.8L41.4,145.4L41.8,145.0L42.3,144.7L42.8,144.4L43.2,144.0L43.7,143.7L44.3,143.4L44.8,143.1L45.4,142.9L46.0,142.6L46.6,142.3L47.2,142.1L47.8,141.8L48.4,141.6L48.9,141.4L49.5,141.1L50.0,140.9L50.5,140.7L51.0,140.5L51.4,140.2L51.8,140.0L52.3,139.8L52.6,139.5L53.0,139.3L53.3,139.0L53.6,138.8L53.8,138.5L54.0,138.2L54.1,137.9L54.2,137.6L54.2,137.2L54.2,136.9L54.2,136.5L54.1,136.1L54.0,135.7L53.9,135.3L53.7,134.8L53.6,134.4L53.4,133.9L53.2,133.4L52.9,132.9L52.7,132.4L52.4,131.8L52.2,131.3L51.9,130.7L51.6,130.1L51.3,129.5L51.0,128.9L50.8,128.3L50.5,127.7L50.2,127.1L50.0,126.5L49.8,125.9L49.7,125.4L49.6,124.8L49.5,124.3L49.5,123.8L49.6,123.4L49.8,123.0L50.1,122.7L50.4,122.4L50.8,122.2L51.3,122.0L51.8,121.9L52.4,121.8L52.9,121.7L53.5,121.6L54.0,121.6L54.6,121.5L55.1,121.4L55.6,121.3L56.1,121.2L56.6,121.2L57.1,121.1L57.6,121.0L58.1,120.9L58.6,120.8L59.0,120.8L59.5,120.7L60.0,120.6L60.4,120.6L60.9,120.5L61.4,120.5L61.8,120.4L62.3,120.4L62.8,120.4L63.2,120.4L63.7,120.4L64.2,120.4L64.6,120.3L65.1,120.3L65.5,120.3L65.9,120.3L66.3,120.2L66.7,120.1L67.0,120.0L67.3,119.8L67.6,119.6L67.8,119.4L68.0,119.1L68.2,118.8L68.3,118.4L68.4,118.0L68.6,117.6L68.7,117.2L68.8,116.7L68.9,116.2L68.9,115.7L69.0,115.2L69.1,114.7L69.2,114.1L69.3,113.6L69.3,113.0L69.4,112.4L69.4,111.7L69.5,111.0L69.5,110.3L69.5,109.5L69.5,108.7L69.5,107.9L69.5,107.0L69.6,106.2L69.6,105.4L69.7,104.7L69.9,104.0L70.1,103.5L70.3,103.0L70.6,102.6L71.0,102.3L71.3,102.0L71.7,101.8L72.1,101.6L72.5,101.4L73.0,101.4L73.4,101.3L73.9,101.4L74.4,101.5L74.9,101.7L75.5,102.0L76.1,102.4L76.7,102.9L77.3,103.4L77.9,103.9L78.5,104.5L79.1,105.0L79.7,105.5L80.2,106.0L80.7,106.5L81.2,106.9L81.7,107.3L82.2,107.7L82.7,108.1L83.2,108.5L83.6,109.0L84.1,109.4L84.5,109.9L85.0,110.4L85.4,110.9L85.9,111.4L86.3,111.9L86.7,112.4L87.1,112.9L87.5,113.4L87.9,113.8L88.3,114.3L88.7,114.7L89.0,115.1L89.4,115.5L89.7,115.9L90.0,116.2L90.4,116.5L90.7,116.8L91.0,117.1L91.3,117.3L91.6,117.4L91.9,117.6L92.1,117.6L92.4,117.6L92.7,117.5L93.0,117.4L93.2,117.2L93.5,116.9L93.8,116.7L94.1,116.3L94.4,116.0L94.7,115.6L95.0,115.2L95.3,114.8L95.6,114.4L96.0,113.9L96.3,113.4L96.7,112.9L97.0,112.4L97.4,111.9L97.8,111.3L98.1,110.8L98.5,110.2L99.0,109.7L99.4,109.2L99.8,108.6L100.2,108.1L100.7,107.6L101.1,107.1L101.6,106.6L102.0,106.2L102.5,105.7L102.9,105.3L103.4,104.9L103.9,104.5L104.4,104.1L104.9,103.7L105.4,103.4L105.8,103.0L106.3,102.7L106.8,102.5L107.3,102.2L107.8,101.9L108.3,101.6L108.9,101.4L109.4,101.0L109.9,100.7L110.5,100.3L111.1,99.9L111.7,99.5L112.4,99.0L113.0,98.5L113.7,98.0L114.4,97.5L115.1,97.0L115.7,96.5L116.4,96.1L117.1,95.7L117.8,95.4L118.4,95.1L119.0,94.9L119.7,94.7L120.3,94.6L120.9,94.5L121.4,94.5L122.0,94.5L122.6,94.5L123.1,94.6L123.6,94.7L124.1,94.8L124.6,95.0L125.1,95.3L125.5,95.5L125.9,95.8L126.3,96.2L126.7,96.5L127.1,97.0L127.4,97.4L127.7,97.9L128.0,98.4L128.2,98.9L128.5,99.5L128.6,100.1L128.8,100.8L128.9,101.5L129.0,102.2L129.1,103.0L129.1,103.8L129.1,104.6L129.0,105.4L129.0,106.3L128.9,107.1L128.8,108.0L128.8,108.8L128.7,109.5L128.7,110.2L128.7,110.9L128.7,111.6L128.8,112.2L128.8,112.8L128.9,113.3L128.9,113.9L129.0,114.5L129.0,115.0L129.0,115.6L129.0,116.2L129.0,116.8L128.9,117.4L128.9,118.0L128.8,118.6L128.7,119.3L128.6,119.9L128.5,120.5L128.3,121.2L128.2,121.8L128.0,122.5L127.8,123.1L127.6,123.7L127.5,124.3L127.2,125.0L127.0,125.6L126.8,126.2L126.6,126.8L126.3,127.4L126.1,128.0L125.8,128.6L125.5,129.2L125.2,129.9L124.9,130.5L124.6,131.1L124.2,131.7L123.9,132.3L123.5,132.9L123.2,133.4L122.8,134.0L122.4,134.6L122.1,135.1L121.7,135.6L121.4,136.1L121.1,136.6L120.9,137.0L120.6,137.5L120.4,137.9L120.1,138.3L119.9,138.7L119.7,139.1L119.5,139.4L119.3,139.8L119.1,140.1L119.0,140.5L118.8,140.8L118.6,141.1L118.5,141.4L118.4,141.7L118.2,142.0L118.1,142.3L118.1,142.5L118.0,142.8L117.9,143.1L117.8,143.3L117.8,143.5L117.8,143.8L117.7,144.0L117.7,144.2L117.7,144.4L117.7,144.7L117.6,144.9L117.6,145.1L117.6,145.3L117.6,145.5L117.6,145.7L117.6,145.9L117.6,146.1L117.6,146.3L117.6,146.5L117.6,146.7L117.6,146.9L117.6,147.1L117.6,147.3L117.6,147.5L117.6,147.7L117.6,147.9L117.6,148.1L117.6,148.3L117.6,148.5L117.6,148.7L117.6,148.9L117.6,149.1L117.6,149.3L117.6,149.5L117.6,149.7L117.6,149.9L117.6,150.1L117.6,150.2L117.6,150.4L117.6,150.6L117.6,150.8L117.6,151.0L117.7,151.2L117.7,151.4L117.7,151.6L117.7,151.7L117.8,151.9L117.8,152.1L117.8,152.3L117.8,152.5L117.9,152.7L117.9,152.9L117.9,153.1L118.0,153.3L118.0,153.5L118.0,153.6L118.1,153.8L118.1,154.0L118.1,154.2L118.2,154.4L118.2,154.6L118.2,154.8L118.3,155.0L118.3,155.2L118.3,155.4L118.4,155.6L118.4,155.8L118.5,156.0L118.5,156.2L118.5,156.4L118.6,156.6L118.6,156.8L118.7,157.0L118.8,157.2L118.8,157.5L118.9,157.7L119.0,157.9L119.0,158.1L119.1,158.3L119.2,158.6L119.3,158.8L119.4,159.0L119.6,159.3L119.7,159.5L119.9,159.8L120.1,160.1L120.2,160.3L120.4,160.6L120.7,160.9L120.9,161.2L121.1,161.5L121.4,161.8L121.6,162.2L121.9,162.5L122.2,162.8L122.5,163.2L122.8,163.6L123.1,163.9L123.4,164.3L123.8,164.7L124.1,165.1L124.4,165.5L124.7,165.9L124.9,166.3L125.1,166.7L125.2,167.0L125.3,167.4L125.3,167.7L125.2,167.9L125.2,168.2L125.1,168.5L125.0,168.7L124.8,169.0L124.7,169.2L124.6,169.5L124.5,169.7L124.3,169.9L124.2,170.2L124.1,170.4L123.9,170.7L123.8,170.9L123.7,171.2L123.6,171.4L123.5,171.7L123.4,172.0L123.4,172.3L123.5,172.7L123.6,173.1L123.7,173.5L123.9,174.0L124.2,174.5L124.4,175.1L124.7,175.6L125.0,176.2L125.2,176.8L125.5,177.4L125.8,178.0L126.0,178.6L126.3,179.2L126.5,179.9L126.7,180.5L126.9,181.1L127.1,181.7L127.3,182.4L127.5,183.0L127.7,183.6L127.9,184.3L128.0,184.9L128.2,185.5L128.3,186.2L128.4,186.8L128.5,187.5L128.6,188.1L128.6,188.7L128.7,189.3L128.7,189.9L128.7,190.5L128.7,191.1L128.7,191.7L128.7,192.3L128.6,192.9L128.6,193.4L128.5,194.0L128.4,194.6L128.4,195.1L128.3,195.7L128.2,196.3L128.1,196.9L128.0,197.5L127.9,198.1L127.8,198.7L127.7,199.3L127.6,199.9L127.5,200.5L127.3,201.2L127.2,201.8L127.1,202.5L127.0,203.2L126.9,203.9L126.8,204.6L126.7,205.3L126.6,206.1L126.5,206.9L126.4,207.7L126.3,208.5L126.2,209.3L126.1,210.2L126.0,211.0L125.8,211.9L125.7,212.7L125.5,213.6L125.4,214.4L125.2,215.2L124.9,216.0L124.7,216.7L124.4,217.4L124.1,218.1L123.8,218.8L123.5,219.5L123.1,220.1L122.8,220.7L122.4,221.4L122.0,221.9L121.6,222.5L121.2,223.1L120.8,223.6L120.4,224.2L119.9,224.7L119.5,225.2L119.0,225.7L118.5,226.1L118.0,226.6L117.5,227.0L117.0,227.5L116.5,227.9L116.0,228.2L115.4,228.6L114.9,229.0L114.3,229.3L113.8,229.6L113.2,230.0L112.7,230.3L112.1,230.6L111.5,230.9L110.9,231.1L110.3,231.4L109.8,231.7L109.2,231.9L108.6,232.1L108.0,232.3L107.3,232.5L106.7,232.7L106.1,232.9L105.5,233.0L104.9,233.1L104.2,233.2L103.6,233.3L103.0,233.3L102.3,233.4L101.7,233.4L101.1,233.4L100.4,233.3L99.8,233.3L99.1,233.2L98.5,233.1L97.9,233.1L97.2,232.9L96.6,232.8L96.0,232.7L95.3,232.5L94.7,232.4L94.1,232.2L93.5,232.1L92.9,231.9L92.2,231.7L91.6,231.4L91.0,231.2L90.4,231.0L89.8,230.7L89.2,230.4L88.6,230.1L88.0,229.7L87.5,229.4L86.9,229.0L86.3,228.6L85.8,228.2L85.2,227.8L84.7,227.4L84.1,226.9L83.6,226.4L83.1,226.0L82.6,225.4L82.1,224.9L81.6,224.4L81.1,223.8L80.7,223.1L80.2,222.5L79.8,221.8L79.4,221.1L79.0,220.3L78.6,219.6L78.3,218.8L77.9,218.0L77.6,217.2L77.2,216.4L76.9,215.6L76.6,214.8L76.3,214.1L76.0,213.3L75.7,212.6L75.4,212.0L75.1,211.3L74.8,210.7L74.4,210.2L74.1,209.6L73.8,209.1L73.5,208.6L73.2,208.1L72.9,207.6L72.6,207.1L72.3,206.6L72.0,206.2L71.7,205.8L71.4,205.3L71.1,204.9L70.7,204.5L70.4,204.1L70.1,203.8L69.8,203.4L69.5,203.1L69.1,202.8L68.8,202.5L68.4,202.2L68.1,202.0L67.7,201.8L67.3,201.6L66.9,201.5L66.5,201.3L66.0,201.2L65.6,201.0L65.2,200.9L64.8,200.7L64.4,200.5L64.0,200.3L63.6,200.1L63.3,199.8L62.9,199.5L62.6,199.2L62.3,198.9L62.0,198.5L61.8,198.1L61.6,197.6L61.4,197.1L61.4,196.5L61.3,195.9L61.3,195.2L61.4,194.4L61.5,193.7L61.6,192.9L61.7,192.1L61.8,191.4L61.8,190.7L61.9,190.0L62.0,189.3L62.1,188.7L62.1,188.0L62.2,187.4L62.3,186.8L62.4,186.2L62.5,185.5L62.6,184.9L62.8,184.3L62.9,183.6L63.1,183.0L63.2,182.4L63.4,181.7L63.6,181.1L63.8,180.5L64.0,179.8L64.3,179.2L64.5,178.6L64.7,178.0L64.9,177.4L65.1,176.9L65.3,176.3L65.5,175.9L65.6,175.4L65.6,175.0L65.6,174.6L65.6,174.3L65.5,174.0L65.4,173.8L65.3,173.5L65.1,173.3L65.0,173.0L64.8,172.8L64.7,172.6L64.5,172.4L64.4,172.1L64.2,171.9L64.1,171.7L63.9,171.4L63.8,171.2L63.7,171.0L63.5,170.7L63.4,170.5L63.2,170.3L63.1,170.0L63.0,169.8L62.9,169.5L62.7,169.3L62.6,169.0L62.5,168.8L62.3,168.6L62.2,168.3L62.1,168.1L61.9,167.8L61.7,167.6L61.5,167.4L61.3,167.2L61.0,167.1L60.6,166.9L60.2,166.8L59.7,166.7L59.1,166.6L58.6,166.5L58.0,166.4L57.4,166.3L56.8,166.2L56.2,166.0L55.6,165.9L55.0,165.8L54.4,165.7L53.7,165.5L52.9,165.4L52.1,165.3L51.1,165.2L50.0,165.2L48.8,165.1L47.5,165.1L46.0,165.1L44.5,165.1L43.0,165.0L41.5,164.9L40.0,164.8L38.7,164.7L37.4,164.5L36.3,164.2L35.3,164.0L34.4,163.7L33.6,163.3L32.8,163.0L32.1,162.6L31.5,162.2L31.0,161.7Z"/>
<path id="vac5" d="M38.4,160.3L38.3,159.8L38.2,159.4L38.2,159.0L38.1,158.5L38.1,158.1L38.2,157.6L38.2,157.2L38.3,156.8L38.5,156.3L38.7,155.9L39.0,155.4L39.4,155.0L39.8,154.5L40.4,154.1L41.0,153.7L41.6,153.3L42.3,152.9L42.9,152.5L43.6,152.1L44.2,151.7L44.8,151.3L45.4,151.0L45.9,150.6L46.5,150.3L47.0,149.9L47.6,149.6L48.1,149.3L48.7,149.0L49.2,148.7L49.8,148.4L50.4,148.1L51.0,147.8L51.6,147.6L52.2,147.3L52.8,147.1L53.4,146.8L54.0,146.6L54.7,146.4L55.3,146.2L55.9,146.0L56.5,145.8L57.1,145.6L57.6,145.4L58.1,145.2L58.5,145.0L58.9,144.8L59.2,144.6L59.4,144.4L59.6,144.2L59.8,143.9L59.9,143.7L60.0,143.4L60.1,143.1L60.2,142.9L60.3,142.6L60.4,142.4L60.4,142.1L60.5,141.8L60.6,141.6L60.7,141.3L60.8,141.0L60.9,140.8L61.0,140.5L61.1,140.3L61.2,140.0L61.3,139.8L61.4,139.5L61.5,139.3L61.6,139.0L61.7,138.8L61.8,138.5L62.0,138.3L62.1,138.0L62.2,137.7L62.3,137.5L62.3,137.2L62.4,136.9L62.4,136.6L62.3,136.3L62.2,135.9L62.1,135.5L61.9,135.1L61.6,134.6L61.4,134.1L61.1,133.6L60.8,133.0L60.5,132.5L60.2,132.0L59.9,131.4L59.7,130.9L59.4,130.3L59.0,129.7L58.7,129.1L58.3,128.4L57.7,127.6L57.1,126.7L56.5,125.8L55.7,124.7L54.8,123.6L53.9,122.4L53.0,121.2L52.1,120.0L51.2,118.8L50.5,117.6L49.8,116.5L49.3,115.4L48.8,114.5L48.5,113.5L48.2,112.7L48.0,111.8L47.9,111.1L47.8,110.3L47.7,109.6L47.7,108.9L47.8,108.3L47.9,107.7L48.0,107.1L48.2,106.5L48.4,106.0L48.7,105.5L49.0,105.1L49.3,104.7L49.7,104.3L50.1,104.0L50.5,103.7L51.0,103.5L51.5,103.3L52.0,103.2L52.6,103.0L53.2,103.0L53.8,103.0L54.5,103.0L55.2,103.1L55.9,103.2L56.7,103.4L57.5,103.7L58.3,104.0L59.1,104.3L60.0,104.7L60.8,105.1L61.6,105.5L62.4,105.8L63.1,106.1L63.8,106.4L64.5,106.7L65.1,106.9L65.7,107.0L66.3,107.2L66.9,107.3L67.4,107.5L68.0,107.6L68.5,107.7L69.1,107.9L69.6,108.1L70.2,108.3L70.8,108.6L71.4,108.8L71.9,109.1L72.5,109.4L73.1,109.8L73.7,110.1L74.2,110.4L74.7,110.7L75.3,111.0L75.8,111.2L76.3,111.5L76.7,111.7L77.2,111.9L77.6,112.1L78.1,112.3L78.5,112.4L78.9,112.6L79.3,112.7L79.7,112.7L80.1,112.8L80.4,112.7L80.7,112.7L81.0,112.6L81.3,112.4L81.6,112.2L81.9,111.9L82.2,111.6L82.4,111.3L82.7,110.9L82.9,110.5L83.2,110.1L83.4,109.7L83.7,109.2L83.9,108.7L84.2,108.2L84.5,107.7L84.7,107.1L85.0,106.6L85.3,106.0L85.5,105.4L85.8,104.8L86.1,104.2L86.4,103.6L86.7,103.1L87.1,102.5L87.4,102.0L87.8,101.5L88.1,101.0L88.5,100.6L88.9,100.3L89.3,100.1L89.7,100.0L90.1,100.0L90.5,100.0L90.9,100.2L91.4,100.5L91.8,100.8L92.2,101.1L92.6,101.5L93.0,101.9L93.4,102.3L93.8,102.7L94.2,103.0L94.6,103.4L95.0,103.7L95.4,104.1L95.7,104.4L96.1,104.7L96.5,105.1L96.8,105.4L97.2,105.7L97.5,106.0L97.9,106.4L98.2,106.7L98.5,107.0L98.9,107.4L99.2,107.7L99.5,108.0L99.8,108.4L100.1,108.7L100.4,109.1L100.7,109.4L101.0,109.8L101.3,110.2L101.6,110.5L101.9,110.8L102.2,111.1L102.5,111.3L102.8,111.5L103.1,111.6L103.4,111.7L103.7,111.8L104.1,111.8L104.4,111.7L104.8,111.6L105.2,111.5L105.6,111.3L106.0,111.1L106.4,110.9L106.8,110.7L107.3,110.5L107.7,110.2L108.2,110.0L108.7,109.7L109.2,109.4L109.7,109.1L110.2,108.8L110.7,108.4L111.3,108.0L111.8,107.6L112.4,107.1L113.1,106.6L113.7,106.1L114.4,105.6L115.0,105.1L115.7,104.6L116.3,104.2L117.0,103.9L117.5,103.7L118.1,103.6L118.6,103.5L119.1,103.6L119.5,103.7L119.9,103.8L120.3,104.0L120.7,104.2L121.0,104.5L121.4,104.8L121.6,105.2L121.9,105.7L122.1,106.2L122.2,106.8L122.3,107.5L122.3,108.2L122.3,109.0L122.2,109.8L122.2,110.6L122.1,111.4L122.1,112.2L122.0,112.9L122.0,113.6L122.0,114.3L122.0,115.0L121.9,115.6L121.9,116.2L121.9,116.9L121.9,117.5L121.8,118.1L121.7,118.8L121.6,119.4L121.5,120.1L121.4,120.8L121.3,121.4L121.1,122.1L121.0,122.7L120.9,123.3L120.8,123.9L120.6,124.5L120.5,125.0L120.4,125.6L120.3,126.1L120.3,126.6L120.2,127.1L120.1,127.5L120.1,128.0L120.1,128.4L120.1,128.7L120.1,129.1L120.2,129.4L120.4,129.6L120.5,129.9L120.7,130.0L121.0,130.2L121.3,130.3L121.7,130.4L122.1,130.4L122.5,130.4L122.9,130.5L123.4,130.5L123.9,130.5L124.4,130.4L125.0,130.4L125.5,130.4L126.1,130.4L126.7,130.3L127.3,130.3L128.0,130.3L128.6,130.2L129.3,130.2L130.0,130.1L130.6,130.1L131.3,130.1L132.0,130.1L132.7,130.1L133.3,130.1L134.0,130.2L134.6,130.2L135.3,130.3L135.9,130.4L136.6,130.4L137.2,130.6L137.8,130.7L138.4,130.8L139.0,130.9L139.6,131.1L140.2,131.3L140.7,131.5L141.3,131.7L141.8,131.9L142.3,132.1L142.8,132.4L143.4,132.6L143.9,132.8L144.5,133.0L145.2,133.3L145.8,133.5L146.6,133.7L147.3,133.9L148.1,134.1L148.9,134.3L149.8,134.5L150.6,134.7L151.4,134.9L152.2,135.2L152.9,135.5L153.6,135.8L154.2,136.1L154.8,136.5L155.3,136.9L155.8,137.2L156.2,137.7L156.6,138.1L157.0,138.5L157.3,139.0L157.6,139.4L157.9,139.9L158.1,140.4L158.3,140.9L158.4,141.4L158.5,141.9L158.5,142.4L158.5,142.9L158.4,143.5L158.3,144.0L158.2,144.5L158.0,145.1L157.8,145.6L157.6,146.1L157.3,146.7L156.9,147.2L156.5,147.7L156.1,148.3L155.6,148.8L155.0,149.3L154.4,149.8L153.8,150.3L153.1,150.8L152.4,151.3L151.7,151.8L151.0,152.3L150.3,152.7L149.7,153.2L149.1,153.6L148.6,154.0L148.1,154.4L147.6,154.8L147.2,155.3L146.8,155.7L146.3,156.0L145.9,156.4L145.5,156.8L145.1,157.2L144.6,157.6L144.1,157.9L143.6,158.3L143.1,158.6L142.6,158.9L142.0,159.2L141.5,159.6L140.9,159.9L140.3,160.1L139.7,160.4L139.1,160.7L138.5,161.0L137.9,161.2L137.3,161.5L136.7,161.7L136.1,161.9L135.5,162.1L134.9,162.3L134.2,162.5L133.6,162.7L132.9,162.9L132.3,163.0L131.6,163.2L131.0,163.3L130.3,163.4L129.6,163.5L128.9,163.6L128.2,163.7L127.6,163.8L126.9,163.9L126.2,164.0L125.6,164.0L124.9,164.1L124.4,164.1L123.8,164.2L123.3,164.3L122.7,164.3L122.3,164.4L121.8,164.5L121.4,164.5L120.9,164.6L120.5,164.7L120.1,164.8L119.7,164.8L119.3,164.9L119.0,165.0L118.6,165.1L118.3,165.1L118.0,165.2L117.7,165.3L117.4,165.4L117.1,165.5L116.9,165.6L116.6,165.7L116.4,165.8L116.2,165.9L116.0,166.0L115.8,166.1L115.6,166.3L115.4,166.4L115.2,166.5L115.0,166.6L114.8,166.7L114.7,166.9L114.5,167.0L114.3,167.1L114.2,167.2L114.0,167.4L113.8,167.5L113.7,167.6L113.5,167.7L113.4,167.8L113.2,168.0L113.0,168.1L112.9,168.2L112.7,168.3L112.6,168.5L112.4,168.6L112.3,168.7L112.1,168.8L112.0,169.0L111.8,169.1L111.7,169.2L111.5,169.3L111.4,169.4L111.2,169.6L111.1,169.7L110.9,169.8L110.8,169.9L110.7,170.0L110.5,170.2L110.4,170.3L110.2,170.4L110.1,170.6L110.0,170.7L109.8,170.8L109.7,171.0L109.6,171.1L109.4,171.2L109.3,171.4L109.2,171.5L109.1,171.7L108.9,171.8L108.8,172.0L108.7,172.1L108.5,172.2L108.4,172.4L108.3,172.5L108.1,172.7L108.0,172.8L107.9,173.0L107.8,173.1L107.6,173.3L107.5,173.4L107.4,173.6L107.2,173.7L107.1,173.9L107.0,174.0L106.8,174.2L106.7,174.3L106.6,174.5L106.4,174.7L106.3,174.8L106.2,175.0L106.0,175.2L105.9,175.4L105.8,175.5L105.7,175.7L105.5,175.9L105.4,176.1L105.3,176.4L105.2,176.6L105.1,176.8L104.9,177.1L104.8,177.3L104.7,177.6L104.6,177.9L104.5,178.2L104.4,178.6L104.3,178.9L104.3,179.3L104.2,179.6L104.1,180.0L104.0,180.4L103.9,180.8L103.8,181.3L103.7,181.7L103.6,182.2L103.5,182.7L103.4,183.2L103.3,183.7L103.2,184.2L103.1,184.7L102.9,185.2L102.8,185.6L102.6,186.0L102.4,186.3L102.2,186.6L102.0,186.8L101.7,186.9L101.5,187.1L101.2,187.1L101.0,187.2L100.7,187.3L100.4,187.3L100.2,187.4L99.9,187.4L99.6,187.5L99.3,187.5L99.1,187.6L98.8,187.6L98.5,187.7L98.3,187.7L98.0,187.8L97.7,187.9L97.5,188.1L97.2,188.2L97.0,188.5L96.7,188.8L96.4,189.2L96.2,189.6L95.9,190.1L95.7,190.6L95.4,191.2L95.1,191.8L94.8,192.3L94.5,192.9L94.2,193.5L93.9,194.1L93.6,194.7L93.2,195.2L92.9,195.8L92.6,196.4L92.2,196.9L91.8,197.5L91.4,198.0L91.1,198.5L90.7,199.1L90.3,199.6L89.9,200.1L89.4,200.6L89.0,201.1L88.6,201.6L88.1,202.0L87.7,202.5L87.3,202.9L86.8,203.3L86.3,203.7L85.9,204.1L85.4,204.4L84.9,204.7L84.5,205.1L84.0,205.4L83.5,205.7L83.0,206.0L82.5,206.3L82.0,206.6L81.5,206.9L81.0,207.2L80.5,207.5L79.9,207.8L79.4,208.1L78.9,208.3L78.3,208.6L77.8,208.9L77.2,209.2L76.6,209.6L76.0,209.9L75.4,210.2L74.8,210.6L74.2,210.9L73.5,211.3L72.9,211.7L72.2,212.1L71.5,212.5L70.8,213.0L70.1,213.4L69.4,213.9L68.7,214.3L67.9,214.7L67.2,215.1L66.4,215.5L65.7,215.9L64.9,216.3L64.2,216.6L63.4,216.9L62.7,217.1L61.9,217.4L61.2,217.5L60.5,217.7L59.8,217.8L59.1,218.0L58.4,218.0L57.7,218.1L57.0,218.2L56.3,218.2L55.6,218.2L54.9,218.2L54.2,218.2L53.5,218.2L52.8,218.1L52.2,218.0L51.5,217.9L50.9,217.8L50.2,217.7L49.6,217.5L48.9,217.4L48.3,217.2L47.7,217.0L47.1,216.8L46.5,216.6L45.9,216.3L45.3,216.1L44.7,215.8L44.1,215.6L43.5,215.3L42.9,215.0L42.4,214.7L41.8,214.4L41.3,214.1L40.7,213.7L40.2,213.4L39.7,213.0L39.1,212.6L38.6,212.2L38.2,211.8L37.7,211.4L37.2,210.9L36.8,210.5L36.4,210.0L36.0,209.5L35.6,209.0L35.2,208.5L34.8,208.0L34.5,207.4L34.1,206.9L33.8,206.3L33.5,205.8L33.2,205.2L32.9,204.6L32.6,204.1L32.3,203.5L32.1,202.9L31.8,202.3L31.6,201.7L31.4,201.1L31.1,200.5L30.9,199.8L30.8,199.2L30.6,198.6L30.4,197.9L30.3,197.3L30.2,196.6L30.1,196.0L30.0,195.3L30.0,194.6L29.9,193.9L29.9,193.2L29.9,192.5L29.9,191.8L30.0,191.1L30.0,190.4L30.1,189.7L30.2,189.0L30.3,188.2L30.5,187.5L30.7,186.8L30.9,186.0L31.2,185.3L31.5,184.5L31.8,183.7L32.2,182.9L32.5,182.2L32.9,181.4L33.4,180.6L33.8,179.9L34.2,179.1L34.6,178.4L35.0,177.7L35.4,177.0L35.7,176.3L36.1,175.6L36.4,175.0L36.7,174.4L36.9,173.8L37.2,173.2L37.4,172.6L37.6,172.0L37.8,171.5L38.0,170.9L38.2,170.4L38.4,169.9L38.5,169.3L38.7,168.8L38.8,168.3L38.9,167.8L39.1,167.3L39.2,166.8L39.3,166.4L39.3,165.9L39.4,165.4L39.4,165.0L39.5,164.5L39.4,164.1L39.4,163.6L39.3,163.2L39.2,162.8L39.1,162.4L39.0,161.9L38.8,161.5L38.7,161.1L38.5,160.7Z"/>
<path id="vac6" d="M18.2,162.9L17.8,162.4L17.4,161.8L17.1,161.2L16.7,160.7L16.4,160.1L16.1,159.5L15.8,158.9L15.5,158.3L15.3,157.7L15.1,157.1L14.8,156.5L14.6,155.9L14.4,155.3L14.2,154.6L14.1,154.0L13.9,153.4L13.8,152.8L13.6,152.1L13.5,151.5L13.4,150.9L13.3,150.2L13.2,149.6L13.1,149.0L13.1,148.3L13.1,147.7L13.1,147.1L13.1,146.4L13.1,145.8L13.2,145.2L13.3,144.5L13.4,143.9L13.5,143.3L13.6,142.7L13.8,142.0L14.0,141.4L14.2,140.8L14.4,140.2L14.6,139.6L14.8,139.0L15.1,138.4L15.3,137.8L15.6,137.2L15.9,136.7L16.2,136.1L16.5,135.5L16.8,134.9L17.1,134.4L17.5,133.8L17.8,133.3L18.2,132.8L18.6,132.2L19.0,131.7L19.4,131.2L19.9,130.7L20.3,130.2L20.8,129.7L21.3,129.2L21.8,128.8L22.3,128.3L22.9,127.9L23.4,127.5L24.0,127.1L24.6,126.7L25.2,126.3L25.8,125.9L26.4,125.5L27.1,125.2L27.8,124.9L28.5,124.6L29.3,124.3L30.1,124.0L30.9,123.8L31.7,123.6L32.5,123.4L33.4,123.2L34.2,123.1L35.1,122.9L35.9,122.8L36.8,122.7L37.6,122.5L38.4,122.4L39.1,122.2L39.9,122.1L40.6,121.9L41.3,121.8L41.9,121.6L42.5,121.4L43.1,121.3L43.7,121.1L44.3,120.9L44.8,120.7L45.3,120.5L45.9,120.3L46.4,120.1L46.9,119.9L47.4,119.7L47.9,119.5L48.3,119.3L48.8,119.1L49.2,118.8L49.6,118.6L50.0,118.4L50.4,118.1L50.8,117.8L51.1,117.6L51.4,117.3L51.7,117.0L52.0,116.6L52.3,116.3L52.5,115.9L52.8,115.5L53.0,115.2L53.2,114.8L53.5,114.4L53.7,114.1L54.0,113.7L54.3,113.4L54.6,113.1L55.0,112.8L55.3,112.5L55.7,112.3L56.1,112.1L56.5,111.9L57.0,111.8L57.5,111.7L58.1,111.7L58.7,111.8L59.4,111.9L60.1,112.1L60.8,112.4L61.5,112.6L62.3,112.9L63.0,113.2L63.7,113.4L64.3,113.7L65.0,113.9L65.6,114.1L66.2,114.3L66.8,114.5L67.4,114.7L68.0,115.0L68.6,115.2L69.2,115.5L69.8,115.7L70.4,116.0L70.9,116.3L71.5,116.6L72.1,116.9L72.7,117.2L73.3,117.6L73.8,117.9L74.4,118.3L74.9,118.6L75.5,119.0L76.0,119.3L76.5,119.7L77.0,120.0L77.5,120.2L77.9,120.5L78.3,120.7L78.7,120.8L79.0,120.8L79.3,120.9L79.6,120.8L79.9,120.8L80.1,120.7L80.4,120.6L80.7,120.5L80.9,120.4L81.2,120.3L81.4,120.2L81.7,120.1L81.9,120.0L82.2,119.9L82.5,119.9L82.7,119.8L83.0,119.7L83.2,119.6L83.5,119.5L83.8,119.4L84.0,119.4L84.3,119.3L84.6,119.2L84.8,119.1L85.1,119.1L85.4,119.0L85.6,118.9L85.9,118.9L86.2,118.8L86.4,118.7L86.7,118.5L86.9,118.3L87.1,118.1L87.4,117.8L87.6,117.5L87.8,117.1L88.0,116.6L88.3,116.1L88.5,115.5L88.7,115.0L88.9,114.4L89.2,113.9L89.4,113.3L89.7,112.8L90.0,112.2L90.2,111.6L90.5,110.9L90.8,110.2L91.1,109.3L91.4,108.3L91.7,107.2L92.0,106.0L92.3,104.7L92.7,103.2L93.0,101.7L93.4,100.3L93.9,98.8L94.3,97.5L94.8,96.2L95.2,95.1L95.7,94.1L96.2,93.3L96.7,92.5L97.2,91.8L97.8,91.2L98.3,90.6L98.8,90.1L99.4,89.7L99.9,89.3L100.4,89.0L101.0,88.7L101.5,88.5L102.1,88.3L102.6,88.2L103.1,88.2L103.6,88.1L104.2,88.2L104.7,88.3L105.2,88.5L105.6,88.7L106.1,88.9L106.6,89.2L107.0,89.6L107.4,90.0L107.9,90.5L108.3,91.0L108.6,91.6L109.0,92.2L109.3,93.0L109.6,93.7L109.9,94.5L110.1,95.4L110.4,96.3L110.6,97.1L110.8,98.0L111.0,98.9L111.2,99.7L111.4,100.4L111.6,101.1L111.9,101.7L112.1,102.3L112.4,102.9L112.6,103.4L112.9,103.9L113.1,104.4L113.3,104.9L113.5,105.5L113.7,106.0L113.9,106.6L114.1,107.2L114.3,107.8L114.4,108.5L114.5,109.1L114.6,109.7L114.7,110.4L114.8,111.0L114.9,111.6L115.0,112.2L115.1,112.8L115.3,113.3L115.4,113.8L115.5,114.3L115.6,114.8L115.8,115.3L115.9,115.7L116.0,116.1L116.2,116.5L116.4,116.9L116.6,117.2L116.8,117.4L117.1,117.7L117.3,117.8L117.7,118.0L118.0,118.1L118.4,118.1L118.7,118.2L119.2,118.2L119.6,118.1L120.1,118.1L120.5,118.0L121.0,118.0L121.5,117.9L122.1,117.8L122.6,117.7L123.2,117.6L123.8,117.4L124.4,117.3L125.0,117.1L125.6,117.0L126.3,116.8L126.9,116.7L127.6,116.6L128.2,116.4L128.9,116.4L129.5,116.3L130.1,116.2L130.7,116.2L131.2,116.3L131.7,116.3L132.2,116.5L132.6,116.7L132.9,117.0L133.1,117.4L133.2,117.8L133.3,118.3L133.3,118.8L133.3,119.4L133.3,119.9L133.3,120.5L133.2,121.0L133.2,121.6L133.1,122.1L133.1,122.6L133.0,123.2L133.0,123.7L133.0,124.2L133.0,124.7L132.9,125.1L132.9,125.6L132.8,126.1L132.8,126.6L132.8,127.1L132.7,127.5L132.7,128.0L132.6,128.5L132.6,128.9L132.5,129.4L132.4,129.8L132.3,130.3L132.3,130.8L132.2,131.2L132.1,131.7L132.0,132.1L131.9,132.5L131.8,133.0L131.8,133.4L131.8,133.7L131.8,134.1L131.8,134.4L132.0,134.8L132.1,135.1L132.3,135.3L132.6,135.6L132.9,135.8L133.2,136.0L133.6,136.2L134.0,136.5L134.4,136.7L134.8,136.8L135.3,137.0L135.8,137.2L136.2,137.4L136.7,137.6L137.3,137.8L137.8,138.0L138.4,138.2L139.0,138.4L139.6,138.6L140.3,138.8L141.0,139.0L141.8,139.2L142.6,139.4L143.4,139.6L144.2,139.8L145.0,140.0L145.7,140.2L146.4,140.5L146.9,140.8L147.4,141.2L147.8,141.5L148.1,141.9L148.3,142.3L148.5,142.7L148.6,143.1L148.7,143.6L148.7,144.0L148.6,144.5L148.5,144.9L148.4,145.4L148.1,145.9L147.7,146.3L147.3,146.8L146.7,147.3L146.1,147.8L145.4,148.3L144.8,148.7L144.1,149.2L143.4,149.6L142.8,150.0L142.3,150.5L141.7,150.9L141.2,151.3L140.7,151.7L140.2,152.0L139.7,152.4L139.2,152.8L138.6,153.1L138.1,153.5L137.5,153.8L136.9,154.1L136.4,154.5L135.8,154.8L135.2,155.1L134.6,155.4L134.0,155.7L133.5,155.9L132.9,156.2L132.4,156.5L132.0,156.7L131.5,157.0L131.0,157.2L130.6,157.5L130.2,157.7L129.8,158.0L129.5,158.2L129.2,158.4L129.0,158.7L128.8,158.9L128.6,159.2L128.5,159.5L128.5,159.7L128.6,160.0L128.6,160.3L128.8,160.7L129.0,161.0L129.2,161.3L129.5,161.7L129.8,162.1L130.1,162.4L130.4,162.8L130.7,163.2L131.1,163.7L131.5,164.1L131.9,164.5L132.3,165.0L132.7,165.5L133.2,165.9L133.6,166.4L134.1,166.9L134.5,167.5L134.9,168.0L135.4,168.5L135.8,169.0L136.2,169.6L136.6,170.1L136.9,170.7L137.3,171.2L137.6,171.8L138.0,172.3L138.3,172.9L138.6,173.4L138.9,174.0L139.1,174.5L139.4,175.1L139.6,175.6L139.8,176.2L140.0,176.7L140.1,177.3L140.3,177.8L140.4,178.4L140.6,178.9L140.8,179.5L140.9,180.1L141.2,180.7L141.4,181.4L141.7,182.1L142.0,182.8L142.3,183.5L142.7,184.3L143.0,185.1L143.4,185.8L143.7,186.6L144.0,187.4L144.2,188.1L144.4,188.9L144.6,189.6L144.7,190.3L144.7,190.9L144.7,191.5L144.7,192.2L144.6,192.7L144.5,193.3L144.4,193.8L144.2,194.4L144.0,194.9L143.8,195.3L143.5,195.8L143.2,196.2L142.9,196.6L142.5,197.0L142.1,197.3L141.7,197.6L141.2,197.9L140.7,198.1L140.2,198.3L139.6,198.5L139.1,198.6L138.5,198.7L137.8,198.8L137.2,198.8L136.5,198.8L135.8,198.8L135.0,198.7L134.3,198.6L133.5,198.4L132.7,198.2L131.9,197.9L131.0,197.7L130.2,197.4L129.5,197.2L128.7,197.0L128.0,196.8L127.3,196.6L126.7,196.5L126.0,196.3L125.4,196.2L124.9,196.2L124.3,196.1L123.7,196.0L123.2,195.9L122.6,195.8L122.0,195.7L121.5,195.5L120.9,195.4L120.3,195.2L119.7,195.0L119.1,194.8L118.5,194.5L117.9,194.3L117.4,194.0L116.8,193.7L116.2,193.4L115.6,193.1L115.0,192.8L114.5,192.5L113.9,192.1L113.3,191.8L112.8,191.5L112.2,191.1L111.7,190.7L111.1,190.3L110.6,190.0L110.1,189.5L109.6,189.1L109.0,188.7L108.5,188.3L108.0,187.8L107.5,187.3L107.0,186.8L106.5,186.4L106.0,185.9L105.5,185.4L105.1,184.9L104.6,184.5L104.2,184.0L103.8,183.6L103.4,183.2L103.1,182.9L102.7,182.5L102.3,182.2L102.0,181.9L101.7,181.6L101.4,181.3L101.1,181.1L100.8,180.8L100.5,180.5L100.2,180.3L99.9,180.1L99.6,179.9L99.4,179.7L99.1,179.5L98.9,179.3L98.6,179.2L98.4,179.0L98.1,178.9L97.9,178.8L97.7,178.7L97.5,178.6L97.3,178.5L97.0,178.4L96.8,178.3L96.6,178.2L96.4,178.2L96.2,178.1L96.0,178.1L95.8,178.0L95.6,177.9L95.4,177.9L95.2,177.8L95.0,177.8L94.8,177.7L94.6,177.7L94.4,177.6L94.2,177.6L94.0,177.6L93.8,177.5L93.6,177.5L93.4,177.4L93.2,177.4L93.1,177.3L92.9,177.3L92.7,177.3L92.5,177.2L92.3,177.2L92.1,177.1L91.9,177.1L91.7,177.0L91.6,177.0L91.4,177.0L91.2,176.9L91.0,176.9L90.8,176.9L90.6,176.8L90.4,176.8L90.2,176.8L90.1,176.8L89.9,176.7L89.7,176.7L89.5,176.7L89.3,176.7L89.1,176.7L88.9,176.7L88.7,176.6L88.5,176.6L88.3,176.6L88.2,176.6L88.0,176.6L87.8,176.6L87.6,176.6L87.4,176.6L87.2,176.6L87.0,176.5L86.8,176.5L86.6,176.5L86.4,176.5L86.2,176.5L86.0,176.5L85.8,176.5L85.6,176.5L85.4,176.5L85.2,176.5L85.0,176.5L84.8,176.5L84.5,176.5L84.3,176.5L84.1,176.5L83.9,176.5L83.7,176.5L83.4,176.5L83.2,176.5L83.0,176.6L82.7,176.6L82.5,176.7L82.2,176.7L82.0,176.8L81.7,176.9L81.4,176.9L81.1,177.1L80.8,177.2L80.5,177.3L80.2,177.4L79.8,177.6L79.5,177.7L79.1,177.9L78.8,178.1L78.4,178.3L78.0,178.5L77.6,178.7L77.2,178.9L76.7,179.1L76.3,179.3L75.8,179.6L75.4,179.8L74.9,180.0L74.4,180.2L74.0,180.4L73.6,180.5L73.2,180.6L72.9,180.6L72.5,180.6L72.3,180.5L72.0,180.4L71.8,180.2L71.5,180.1L71.3,179.9L71.1,179.7L70.9,179.5L70.7,179.4L70.5,179.2L70.3,179.0L70.1,178.8L69.9,178.6L69.7,178.5L69.4,178.3L69.2,178.1L69.0,178.0L68.7,177.8L68.4,177.7L68.1,177.7L67.7,177.7L67.3,177.7L66.8,177.7L66.2,177.8L65.7,178.0L65.1,178.1L64.5,178.2L63.8,178.4L63.2,178.5L62.5,178.6L61.9,178.7L61.2,178.8L60.6,178.9L59.9,179.0L59.3,179.1L58.6,179.2L58.0,179.2L57.3,179.3L56.6,179.3L56.0,179.3L55.3,179.4L54.7,179.4L54.0,179.3L53.4,179.3L52.7,179.3L52.1,179.2L51.5,179.2L50.8,179.1L50.2,179.0L49.7,178.9L49.1,178.8L48.5,178.6L47.9,178.5L47.4,178.3L46.8,178.1L46.3,177.9L45.8,177.7L45.2,177.5L44.7,177.3L44.1,177.1L43.6,176.9L43.0,176.7L42.5,176.4L41.9,176.2L41.3,176.0L40.8,175.7L40.2,175.5L39.6,175.2L39.0,175.0L38.4,174.7L37.8,174.5L37.1,174.2L36.4,173.9L35.8,173.7L35.0,173.4L34.3,173.1L33.5,172.9L32.8,172.6L32.0,172.3L31.2,172.0L30.4,171.7L29.6,171.4L28.8,171.1L28.0,170.8L27.3,170.4L26.5,170.0L25.8,169.7L25.1,169.3L24.4,168.9L23.8,168.4L23.2,168.0L22.6,167.5L22.0,167.0L21.5,166.6L21.0,166.1L20.5,165.6L20.0,165.1L19.5,164.5L19.1,164.0L18.6,163.5Z"/>
<mask id="vam0" maskUnits="userSpaceOnUse" x="0" y="0" width="520" height="471"><rect x="0" y="0" width="520" height="471" fill="#fff"/>
<use href="#vac1" fill="#000"/>
<use href="#vac2" fill="#000"/>
<use href="#vac3" fill="#000"/>
<use href="#vac4" fill="#000"/>
<use href="#vac5" fill="#000"/>
<use href="#vac6" fill="#000"/>
</mask>
<mask id="vam1" maskUnits="userSpaceOnUse" x="0" y="0" width="520" height="471"><rect x="0" y="0" width="520" height="471" fill="#fff"/>
<use href="#vac0" fill="#000"/>
<use href="#vac2" fill="#000"/>
<use href="#vac3" fill="#000"/>
<use href="#vac4" fill="#000"/>
<use href="#vac5" fill="#000"/>
<use href="#vac6" fill="#000"/>
</mask>
<mask id="vam2" maskUnits="userSpaceOnUse" x="0" y="0" width="520" height="471"><rect x="0" y="0" width="520" height="471" fill="#fff"/>
<use href="#vac0" fill="#000"/>
<use href="#vac1" fill="#000"/>
<use href="#vac3" fill="#000"/>
<use href="#vac4" fill="#000"/>
<use href="#vac5" fill="#000"/>
<use href="#vac6" fill="#000"/>
</mask>
<mask id="vam3" maskUnits="userSpaceOnUse" x="0" y="0" width="520" height="471"><rect x="0" y="0" width="520" height="471" fill="#fff"/>
<use href="#vac0" fill="#000"/>
<use href="#vac1" fill="#000"/>
<use href="#vac2" fill="#000"/>
<use href="#vac4" fill="#000"/>
<use href="#vac5" fill="#000"/>
<use href="#vac6" fill="#000"/>
</mask>
<mask id="vam4" maskUnits="userSpaceOnUse" x="0" y="0" width="520" height="471"><rect x="0" y="0" width="520" height="471" fill="#fff"/>
<use href="#vac0" fill="#000"/>
<use href="#vac1" fill="#000"/>
<use href="#vac2" fill="#000"/>
<use href="#vac3" fill="#000"/>
<use href="#vac5" fill="#000"/>
<use href="#vac6" fill="#000"/>
</mask>
<mask id="vam5" maskUnits="userSpaceOnUse" x="0" y="0" width="520" height="471"><rect x="0" y="0" width="520" height="471" fill="#fff"/>
<use href="#vac0" fill="#000"/>
<use href="#vac1" fill="#000"/>
<use href="#vac2" fill="#000"/>
<use href="#vac3" fill="#000"/>
<use href="#vac4" fill="#000"/>
<use href="#vac6" fill="#000"/>
</mask>
<mask id="vam6" maskUnits="userSpaceOnUse" x="0" y="0" width="520" height="471"><rect x="0" y="0" width="520" height="471" fill="#fff"/>
<use href="#vac0" fill="#000"/>
<use href="#vac1" fill="#000"/>
<use href="#vac2" fill="#000"/>
<use href="#vac3" fill="#000"/>
<use href="#vac4" fill="#000"/>
<use href="#vac5" fill="#000"/>
</mask>
<clipPath id="vak0"><use href="#vac0"/></clipPath>
<clipPath id="vak1"><use href="#vac1"/></clipPath>
<clipPath id="vak2"><use href="#vac2"/></clipPath>
<clipPath id="vak3"><use href="#vac3"/></clipPath>
<clipPath id="vak4"><use href="#vac4"/></clipPath>
<clipPath id="vak5"><use href="#vac5"/></clipPath>
<clipPath id="vak6"><use href="#vac6"/></clipPath>
</defs>
<use href="#vac0" fill="#ef6548" fill-opacity="0.012"/>
<use href="#vac1" fill="#ef6548" fill-opacity="0.012"/>
<use href="#vac2" fill="#ef6548" fill-opacity="0.012"/>
<use href="#vac3" fill="#ef6548" fill-opacity="0.012"/>
<use href="#vac4" fill="#ef6548" fill-opacity="0.012"/>
<use href="#vac5" fill="#ef6548" fill-opacity="0.012"/>
<use href="#vac6" fill="#ef6548" fill-opacity="0.012"/>
<use href="#vac0" fill="#f9e1d7" mask="url(#vam0)"/>
<use href="#vac1" fill="#fff4ef" mask="url(#vam1)"/>
<use href="#vac2" fill="#fbe3d9" mask="url(#vam2)"/>
<use href="#vac3" fill="#fce8e0" mask="url(#vam3)"/>
<use href="#vac4" fill="#e2221d" mask="url(#vam4)"/>
<use href="#vac5" fill="#fbe4db" mask="url(#vam5)"/>
<use href="#vac6" fill="#fff1eb" mask="url(#vam6)"/>
<g clip-path="url(#vak6)"><g clip-path="url(#vak5)"><g clip-path="url(#vak4)"><g clip-path="url(#vak3)"><g clip-path="url(#vak2)"><g clip-path="url(#vak1)"><g clip-path="url(#vak0)"><rect x="33.7" y="93.0" width="120" height="120" fill="#fdf4f0"/></g></g></g></g></g></g></g>
<use href="#vac0" fill="none" stroke="#151515" stroke-width="1.2"/>
<use href="#vac1" fill="none" stroke="#151515" stroke-width="1.2"/>
<use href="#vac2" fill="none" stroke="#151515" stroke-width="1.2"/>
<use href="#vac3" fill="none" stroke="#151515" stroke-width="1.2"/>
<use href="#vac4" fill="none" stroke="#151515" stroke-width="1.2"/>
<use href="#vac5" fill="none" stroke="#151515" stroke-width="1.2"/>
<use href="#vac6" fill="none" stroke="#151515" stroke-width="1.2"/>
<defs>
<path id="vbc0" d="M64.4,365.0L64.0,364.9L63.6,364.7L63.2,364.5L62.8,364.3L62.3,364.1L61.8,363.9L61.4,363.6L60.9,363.4L60.4,363.2L60.0,363.0L59.6,362.7L59.3,362.4L59.1,362.2L58.9,361.9L58.8,361.6L58.7,361.4L58.7,361.1L58.6,360.8L58.6,360.6L58.6,360.3L58.6,360.0L58.6,359.7L58.6,359.5L58.7,359.2L58.7,358.9L58.7,358.6L58.7,358.4L58.7,358.1L58.7,357.8L58.7,357.5L58.6,357.2L58.5,356.9L58.4,356.6L58.2,356.3L57.9,356.0L57.6,355.7L57.2,355.3L56.7,355.0L56.3,354.6L55.8,354.2L55.3,353.8L54.8,353.4L54.3,352.9L53.8,352.5L53.3,352.1L52.8,351.6L52.3,351.2L51.9,350.7L51.4,350.2L50.9,349.8L50.5,349.3L50.0,348.8L49.6,348.3L49.2,347.8L48.8,347.3L48.4,346.8L48.0,346.2L47.6,345.7L47.2,345.2L46.9,344.6L46.6,344.1L46.3,343.6L46.0,343.0L45.7,342.5L45.5,342.0L45.2,341.4L45.0,340.9L44.8,340.4L44.6,339.8L44.4,339.3L44.2,338.7L44.1,338.2L43.9,337.6L43.7,337.1L43.5,336.5L43.4,335.9L43.2,335.3L43.0,334.8L42.9,334.2L42.7,333.6L42.5,332.9L42.4,332.3L42.2,331.7L42.0,331.0L41.8,330.4L41.6,329.7L41.4,329.0L41.1,328.3L40.9,327.5L40.6,326.8L40.4,326.0L40.1,325.2L39.8,324.4L39.6,323.6L39.3,322.8L39.1,322.0L38.8,321.2L38.6,320.3L38.4,319.5L38.3,318.7L38.1,317.9L38.0,317.1L38.0,316.4L37.9,315.6L37.9,314.9L37.9,314.1L38.0,313.4L38.0,312.7L38.1,312.0L38.2,311.3L38.3,310.6L38.4,309.9L38.6,309.2L38.7,308.6L38.9,307.9L39.1,307.2L39.3,306.6L39.5,306.0L39.8,305.4L40.1,304.7L40.3,304.1L40.6,303.6L40.9,303.0L41.3,302.4L41.6,301.9L41.9,301.3L42.3,300.8L42.7,300.3L43.0,299.7L43.4,299.2L43.8,298.7L44.2,298.2L44.6,297.7L45.1,297.2L45.5,296.7L45.9,296.3L46.4,295.8L46.9,295.4L47.3,295.0L47.8,294.6L48.3,294.2L48.9,293.8L49.4,293.5L49.9,293.1L50.5,292.8L51.0,292.5L51.6,292.2L52.2,292.0L52.8,291.7L53.4,291.5L54.0,291.3L54.6,291.1L55.2,290.9L55.8,290.7L56.4,290.5L57.1,290.4L57.7,290.2L58.3,290.1L59.0,290.0L59.6,289.9L60.2,289.8L60.9,289.7L61.5,289.6L62.2,289.6L62.8,289.5L63.5,289.5L64.2,289.5L64.8,289.6L65.5,289.6L66.2,289.7L66.8,289.8L67.5,289.9L68.2,290.0L68.9,290.1L69.6,290.3L70.2,290.5L70.9,290.7L71.6,290.9L72.3,291.1L72.9,291.4L73.6,291.7L74.3,292.0L75.0,292.4L75.7,292.8L76.4,293.3L77.0,293.7L77.7,294.2L78.4,294.8L79.1,295.3L79.7,295.9L80.4,296.5L81.0,297.0L81.7,297.6L82.3,298.2L82.9,298.7L83.5,299.2L84.0,299.7L84.6,300.2L85.2,300.6L85.7,301.0L86.2,301.4L86.7,301.8L87.2,302.1L87.7,302.4L88.2,302.7L88.7,303.0L89.2,303.3L89.7,303.6L90.2,303.9L90.6,304.1L91.1,304.4L91.5,304.6L92.0,304.8L92.4,305.0L92.9,305.2L93.3,305.4L93.8,305.6L94.2,305.7L94.6,305.8L95.1,305.9L95.5,305.9L95.9,305.9L96.4,305.9L96.8,305.9L97.2,305.8L97.7,305.8L98.1,305.7L98.6,305.7L99.0,305.7L99.4,305.7L99.9,305.7L100.3,305.8L100.8,305.8L101.2,305.9L101.6,306.1L102.0,306.3L102.4,306.5L102.8,306.8L103.2,307.1L103.6,307.5L103.9,308.0L104.2,308.6L104.5,309.2L104.8,309.9L105.0,310.7L105.3,311.4L105.5,312.1L105.8,312.9L106.0,313.5L106.2,314.2L106.4,314.8L106.7,315.4L106.9,316.0L107.1,316.6L107.3,317.2L107.5,317.8L107.6,318.4L107.8,319.1L107.9,319.7L108.1,320.3L108.2,321.0L108.3,321.6L108.4,322.3L108.5,322.9L108.6,323.6L108.7,324.2L108.8,324.9L108.8,325.5L108.9,326.2L108.9,326.8L109.0,327.4L109.1,327.9L109.1,328.4L109.2,328.9L109.4,329.2L109.5,329.6L109.7,329.8L109.9,330.1L110.1,330.2L110.3,330.4L110.6,330.6L110.8,330.7L111.0,330.8L111.3,331.0L111.5,331.1L111.7,331.3L112.0,331.4L112.2,331.6L112.4,331.7L112.7,331.9L112.9,332.0L113.1,332.2L113.4,332.3L113.6,332.5L113.8,332.6L114.0,332.8L114.3,332.9L114.5,333.1L114.7,333.3L114.9,333.4L115.1,333.6L115.4,333.8L115.6,333.9L115.8,334.1L116.1,334.2L116.4,334.3L116.7,334.3L117.1,334.3L117.5,334.3L117.9,334.2L118.4,334.1L118.9,334.0L119.5,333.8L120.0,333.6L120.6,333.5L121.2,333.3L121.8,333.2L122.4,333.0L123.0,332.9L123.6,332.7L124.3,332.5L125.1,332.3L125.9,332.0L126.8,331.6L127.8,331.2L128.9,330.7L130.2,330.2L131.5,329.5L132.9,328.9L134.3,328.3L135.7,327.7L137.0,327.2L138.3,326.7L139.5,326.4L140.6,326.1L141.6,326.0L142.5,325.9L143.4,325.8L144.2,325.8L145.0,325.9L145.7,326.0L146.4,326.1L147.1,326.3L147.7,326.5L148.2,326.7L148.8,327.0L149.2,327.3L149.7,327.7L150.1,328.0L150.4,328.4L150.7,328.8L151.0,329.3L151.2,329.8L151.3,330.3L151.4,330.8L151.5,331.4L151.5,331.9L151.4,332.5L151.3,333.1L151.2,333.8L151.0,334.4L150.7,335.1L150.4,335.8L150.0,336.5L149.5,337.2L149.0,337.9L148.5,338.6L148.0,339.4L147.4,340.1L146.9,340.8L146.4,341.4L145.9,342.1L145.5,342.7L145.1,343.3L144.8,343.8L144.5,344.4L144.3,344.9L144.0,345.4L143.7,345.9L143.5,346.4L143.2,346.9L142.9,347.4L142.6,348.0L142.2,348.5L141.8,349.0L141.4,349.5L141.0,350.0L140.6,350.4L140.2,350.9L139.7,351.4L139.3,351.9L138.9,352.3L138.5,352.8L138.2,353.2L137.8,353.6L137.5,354.0L137.2,354.4L136.9,354.8L136.7,355.2L136.4,355.6L136.2,355.9L136.0,356.3L135.9,356.7L135.8,357.0L135.8,357.3L135.8,357.7L135.9,358.0L136.0,358.3L136.2,358.6L136.4,359.0L136.6,359.3L136.9,359.6L137.2,360.0L137.6,360.3L137.9,360.6L138.3,361.0L138.7,361.3L139.1,361.7L139.6,362.1L140.0,362.4L140.5,362.8L141.0,363.2L141.5,363.6L142.0,364.0L142.6,364.4L143.1,364.8L143.6,365.3L144.0,365.7L144.5,366.2L144.9,366.6L145.3,367.1L145.7,367.5L145.9,368.0L146.1,368.4L146.2,368.8L146.2,369.3L146.1,369.7L145.8,370.0L145.5,370.4L145.2,370.8L144.7,371.1L144.3,371.4L143.8,371.8L143.4,372.1L142.9,372.4L142.5,372.7L142.0,373.0L141.6,373.3L141.2,373.6L140.8,373.8L140.3,374.1L139.9,374.4L139.5,374.7L139.1,375.0L138.7,375.2L138.4,375.5L138.0,375.8L137.6,376.0L137.2,376.3L136.8,376.5L136.4,376.7L136.0,377.0L135.6,377.2L135.1,377.4L134.7,377.6L134.3,377.8L133.9,378.0L133.5,378.2L133.1,378.4L132.8,378.7L132.5,378.9L132.2,379.1L131.9,379.4L131.8,379.7L131.6,380.0L131.5,380.3L131.5,380.6L131.5,381.0L131.5,381.4L131.5,381.8L131.6,382.2L131.7,382.7L131.8,383.2L132.0,383.6L132.1,384.1L132.2,384.6L132.4,385.1L132.6,385.7L132.7,386.2L132.9,386.8L133.2,387.4L133.4,388.0L133.7,388.6L134.0,389.3L134.3,390.0L134.7,390.7L135.0,391.5L135.4,392.2L135.7,393.0L136.0,393.7L136.2,394.4L136.3,395.1L136.4,395.7L136.3,396.2L136.2,396.7L136.1,397.1L135.9,397.5L135.6,397.9L135.3,398.2L135.0,398.5L134.6,398.8L134.2,399.0L133.8,399.1L133.3,399.2L132.7,399.3L132.0,399.2L131.3,399.1L130.6,399.0L129.8,398.8L129.0,398.5L128.2,398.3L127.5,398.1L126.7,397.8L126.1,397.6L125.4,397.5L124.7,397.3L124.1,397.2L123.5,397.0L122.9,396.8L122.3,396.7L121.7,396.5L121.1,396.3L120.5,396.0L119.8,395.8L119.2,395.5L118.6,395.3L118.0,395.0L117.4,394.7L116.8,394.5L116.3,394.2L115.7,394.0L115.2,393.7L114.7,393.5L114.2,393.3L113.7,393.1L113.2,392.9L112.8,392.7L112.4,392.6L112.0,392.5L111.6,392.4L111.2,392.3L110.9,392.3L110.6,392.3L110.3,392.4L110.1,392.6L109.9,392.8L109.7,393.0L109.5,393.3L109.4,393.7L109.3,394.1L109.1,394.5L109.0,394.9L108.9,395.4L108.8,395.9L108.7,396.4L108.6,396.9L108.5,397.5L108.4,398.1L108.3,398.7L108.2,399.3L108.1,399.9L108.0,400.6L107.9,401.3L107.8,401.9L107.6,402.6L107.5,403.2L107.3,403.9L107.2,404.6L107.0,405.2L106.8,405.8L106.6,406.5L106.4,407.1L106.2,407.7L105.9,408.3L105.7,408.9L105.4,409.4L105.2,410.0L104.9,410.5L104.6,411.1L104.3,411.6L104.0,412.0L103.7,412.5L103.3,413.0L103.0,413.4L102.6,413.9L102.3,414.4L101.9,414.9L101.6,415.4L101.2,416.0L100.9,416.7L100.5,417.3L100.2,418.0L99.8,418.8L99.4,419.6L99.0,420.3L98.6,421.1L98.2,421.8L97.8,422.4L97.3,423.1L96.9,423.6L96.4,424.1L95.9,424.6L95.4,425.0L94.9,425.4L94.4,425.7L93.9,426.0L93.4,426.2L92.9,426.4L92.4,426.6L91.9,426.7L91.3,426.8L90.8,426.8L90.3,426.8L89.8,426.8L89.3,426.7L88.8,426.5L88.3,426.4L87.8,426.1L87.3,425.9L86.8,425.6L86.3,425.2L85.9,424.8L85.4,424.4L85.0,423.9L84.6,423.4L84.2,422.8L83.8,422.2L83.4,421.5L83.0,420.8L82.7,420.1L82.3,419.3L82.0,418.5L81.7,417.7L81.4,416.9L81.1,416.2L80.9,415.5L80.6,414.8L80.3,414.2L80.0,413.7L79.7,413.1L79.4,412.6L79.1,412.1L78.8,411.6L78.5,411.1L78.2,410.6L78.0,410.1L77.7,409.6L77.5,409.0L77.3,408.5L77.1,407.9L76.9,407.3L76.7,406.7L76.5,406.1L76.3,405.4L76.2,404.8L76.1,404.2L75.9,403.5L75.8,402.9L75.7,402.2L75.6,401.6L75.5,400.9L75.5,400.3L75.4,399.6L75.3,399.0L75.3,398.3L75.3,397.6L75.2,397.0L75.2,396.3L75.2,395.6L75.3,395.0L75.3,394.3L75.3,393.6L75.4,392.9L75.5,392.2L75.6,391.5L75.6,390.8L75.7,390.2L75.8,389.5L75.9,388.9L76.0,388.4L76.0,387.8L76.1,387.3L76.1,386.8L76.1,386.3L76.2,385.8L76.2,385.4L76.2,385.0L76.2,384.6L76.3,384.2L76.3,383.8L76.3,383.4L76.3,383.0L76.3,382.7L76.3,382.3L76.3,382.0L76.3,381.7L76.2,381.4L76.2,381.1L76.1,380.9L76.1,380.6L76.0,380.4L76.0,380.1L75.9,379.9L75.8,379.7L75.8,379.5L75.7,379.3L75.6,379.1L75.5,378.9L75.5,378.7L75.4,378.5L75.3,378.3L75.2,378.1L75.1,377.9L75.1,377.7L75.0,377.5L74.9,377.3L74.8,377.2L74.7,377.0L74.6,376.8L74.5,376.6L74.5,376.5L74.4,376.3L74.3,376.1L74.2,375.9L74.1,375.7L74.0,375.6L73.9,375.4L73.9,375.2L73.8,375.0L73.7,374.9L73.6,374.7L73.5,374.5L73.4,374.4L73.3,374.2L73.3,374.0L73.2,373.9L73.1,373.7L73.0,373.5L72.9,373.4L72.8,373.2L72.7,373.0L72.6,372.9L72.5,372.7L72.4,372.6L72.3,372.4L72.2,372.3L72.1,372.1L71.9,371.9L71.8,371.8L71.7,371.6L71.6,371.5L71.5,371.3L71.4,371.2L71.3,371.0L71.1,370.8L71.0,370.7L70.9,370.5L70.8,370.4L70.7,370.2L70.6,370.0L70.5,369.9L70.3,369.7L70.2,369.5L70.1,369.4L70.0,369.2L69.8,369.0L69.7,368.9L69.6,368.7L69.4,368.6L69.3,368.4L69.2,368.2L69.0,368.1L68.9,367.9L68.7,367.7L68.5,367.6L68.4,367.4L68.2,367.2L68.0,367.1L67.8,366.9L67.5,366.7L67.3,366.6L67.0,366.4L66.7,366.2L66.5,366.1L66.1,365.9L65.8,365.7L65.5,365.6L65.1,365.4L64.8,365.2Z"/>
<path id="vbc1" d="M59.1,365.7L59.6,365.4L60.2,365.1L60.7,364.7L61.2,364.4L61.7,364.1L62.1,363.8L62.6,363.6L63.0,363.3L63.4,363.0L63.7,362.8L64.1,362.5L64.4,362.3L64.7,362.0L65.1,361.8L65.4,361.6L65.7,361.3L65.9,361.1L66.2,360.9L66.4,360.7L66.7,360.5L66.9,360.3L67.1,360.1L67.3,359.9L67.5,359.7L67.6,359.5L67.8,359.3L67.9,359.1L68.0,358.9L68.2,358.7L68.3,358.5L68.4,358.3L68.5,358.2L68.6,358.0L68.7,357.8L68.8,357.6L68.9,357.4L69.0,357.2L69.1,357.0L69.2,356.9L69.3,356.7L69.4,356.5L69.5,356.3L69.5,356.1L69.6,356.0L69.7,355.8L69.8,355.6L69.9,355.4L70.0,355.3L70.1,355.1L70.1,354.9L70.2,354.7L70.3,354.6L70.4,354.4L70.5,354.2L70.6,354.0L70.6,353.9L70.7,353.7L70.8,353.5L70.9,353.3L70.9,353.2L71.0,353.0L71.1,352.8L71.2,352.6L71.2,352.5L71.3,352.3L71.3,352.1L71.4,351.9L71.5,351.7L71.5,351.6L71.6,351.4L71.6,351.2L71.7,351.0L71.7,350.8L71.8,350.6L71.8,350.5L71.9,350.3L71.9,350.1L72.0,349.9L72.0,349.7L72.1,349.5L72.2,349.3L72.2,349.1L72.3,349.0L72.3,348.8L72.4,348.6L72.4,348.4L72.5,348.2L72.5,348.0L72.6,347.8L72.6,347.6L72.7,347.4L72.7,347.2L72.8,347.0L72.8,346.7L72.9,346.5L72.9,346.3L72.9,346.1L73.0,345.9L73.0,345.6L73.0,345.4L73.0,345.2L73.0,344.9L73.0,344.6L73.0,344.4L73.0,344.1L73.0,343.8L72.9,343.4L72.9,343.1L72.8,342.8L72.8,342.4L72.7,342.1L72.6,341.7L72.5,341.3L72.4,340.9L72.3,340.5L72.2,340.0L72.1,339.6L72.0,339.1L71.9,338.7L71.8,338.2L71.6,337.7L71.5,337.1L71.4,336.6L71.3,336.2L71.2,335.7L71.2,335.3L71.3,334.9L71.4,334.6L71.5,334.3L71.7,334.1L71.8,333.9L72.0,333.7L72.2,333.5L72.4,333.3L72.7,333.2L72.9,333.0L73.1,332.8L73.3,332.7L73.6,332.5L73.8,332.3L74.0,332.2L74.2,332.0L74.4,331.9L74.6,331.7L74.8,331.5L75.0,331.2L75.2,330.9L75.3,330.6L75.4,330.2L75.4,329.7L75.5,329.2L75.5,328.7L75.5,328.1L75.5,327.4L75.5,326.8L75.5,326.2L75.5,325.5L75.6,324.8L75.6,324.2L75.6,323.5L75.7,322.9L75.8,322.2L75.8,321.5L75.9,320.9L76.0,320.2L76.1,319.6L76.2,318.9L76.4,318.3L76.5,317.6L76.7,317.0L76.8,316.4L77.0,315.8L77.2,315.1L77.4,314.5L77.6,313.9L77.8,313.4L78.0,312.8L78.3,312.3L78.5,311.7L78.8,311.2L79.1,310.7L79.4,310.2L79.7,309.7L80.0,309.2L80.3,308.7L80.6,308.3L80.9,307.8L81.3,307.3L81.6,306.8L81.9,306.3L82.3,305.8L82.7,305.3L83.0,304.8L83.4,304.3L83.8,303.8L84.1,303.3L84.5,302.8L84.9,302.2L85.3,301.6L85.7,301.1L86.1,300.5L86.5,299.8L86.9,299.2L87.4,298.5L87.8,297.8L88.2,297.1L88.7,296.4L89.2,295.7L89.6,295.0L90.1,294.3L90.6,293.6L91.1,292.9L91.6,292.3L92.2,291.6L92.7,291.0L93.2,290.4L93.8,289.9L94.4,289.4L94.9,288.9L95.5,288.4L96.1,288.0L96.7,287.6L97.3,287.2L97.9,286.8L98.5,286.5L99.1,286.2L99.7,285.9L100.4,285.6L101.0,285.3L101.6,285.0L102.3,284.8L102.9,284.6L103.5,284.4L104.2,284.2L104.8,284.0L105.5,283.9L106.1,283.8L106.7,283.7L107.4,283.6L108.0,283.5L108.7,283.4L109.3,283.4L110.0,283.4L110.6,283.3L111.2,283.3L111.9,283.3L112.5,283.3L113.2,283.4L113.8,283.4L114.5,283.4L115.1,283.5L115.7,283.6L116.4,283.7L117.0,283.8L117.6,284.0L118.2,284.1L118.8,284.3L119.4,284.5L120.0,284.8L120.6,285.0L121.2,285.3L121.8,285.6L122.3,285.9L122.9,286.2L123.4,286.5L124.0,286.9L124.5,287.2L125.0,287.6L125.5,288.0L126.1,288.4L126.6,288.8L127.1,289.2L127.6,289.6L128.0,290.0L128.5,290.5L129.0,290.9L129.4,291.4L129.9,291.8L130.3,292.3L130.7,292.8L131.2,293.3L131.6,293.9L131.9,294.4L132.3,295.0L132.7,295.6L133.0,296.2L133.3,296.8L133.7,297.4L134.0,298.0L134.2,298.7L134.5,299.3L134.8,300.0L135.0,300.6L135.2,301.3L135.4,302.1L135.6,302.8L135.7,303.5L135.9,304.3L136.0,305.1L136.0,306.0L136.0,306.8L136.1,307.7L136.1,308.5L136.0,309.4L136.0,310.3L135.9,311.1L135.9,312.0L135.8,312.8L135.8,313.6L135.7,314.4L135.7,315.2L135.7,315.9L135.7,316.6L135.7,317.3L135.7,318.0L135.8,318.6L135.8,319.2L135.9,319.8L135.9,320.4L136.0,321.0L136.1,321.5L136.2,322.1L136.2,322.6L136.3,323.2L136.4,323.7L136.5,324.2L136.6,324.7L136.7,325.1L136.9,325.6L137.0,326.1L137.2,326.5L137.3,326.9L137.5,327.3L137.7,327.7L137.9,328.1L138.2,328.5L138.5,328.8L138.8,329.1L139.1,329.4L139.4,329.8L139.7,330.1L140.0,330.4L140.3,330.7L140.6,331.1L140.8,331.4L141.1,331.8L141.3,332.2L141.5,332.6L141.6,333.0L141.8,333.4L141.9,333.9L141.9,334.3L141.9,334.8L141.8,335.4L141.7,335.9L141.4,336.5L141.1,337.2L140.8,337.8L140.4,338.5L139.9,339.1L139.5,339.8L139.1,340.4L138.7,341.0L138.3,341.6L138.0,342.2L137.6,342.7L137.3,343.3L136.9,343.8L136.6,344.3L136.2,344.8L135.9,345.4L135.5,345.9L135.1,346.4L134.7,346.9L134.3,347.4L133.8,347.9L133.4,348.4L133.0,348.9L132.5,349.4L132.0,349.8L131.6,350.3L131.1,350.7L130.6,351.2L130.2,351.6L129.8,352.0L129.4,352.4L129.0,352.8L128.7,353.2L128.5,353.5L128.3,353.8L128.2,354.1L128.1,354.4L128.1,354.7L128.1,355.0L128.1,355.3L128.2,355.6L128.2,355.8L128.2,356.1L128.3,356.4L128.3,356.6L128.3,356.9L128.4,357.2L128.4,357.5L128.4,357.7L128.5,358.0L128.5,358.3L128.5,358.6L128.5,358.8L128.5,359.1L128.6,359.4L128.6,359.7L128.6,359.9L128.6,360.2L128.6,360.5L128.6,360.8L128.6,361.0L128.6,361.3L128.7,361.6L128.7,361.9L128.8,362.1L129.0,362.4L129.2,362.7L129.4,363.0L129.7,363.3L130.1,363.6L130.6,363.9L131.0,364.3L131.5,364.6L132.0,364.9L132.5,365.3L133.0,365.7L133.4,366.0L133.9,366.4L134.5,366.8L135.0,367.2L135.6,367.6L136.3,368.1L137.1,368.6L138.1,369.1L139.1,369.7L140.3,370.2L141.6,370.9L142.9,371.6L144.3,372.3L145.6,373.0L146.9,373.7L148.1,374.4L149.1,375.2L150.1,375.9L150.9,376.6L151.6,377.2L152.2,377.9L152.7,378.6L153.2,379.2L153.5,379.8L153.9,380.5L154.2,381.1L154.4,381.7L154.6,382.3L154.7,382.8L154.8,383.4L154.8,384.0L154.8,384.5L154.7,385.0L154.6,385.5L154.4,386.0L154.1,386.5L153.8,386.9L153.5,387.3L153.1,387.7L152.7,388.1L152.2,388.4L151.7,388.7L151.1,389.0L150.5,389.3L149.8,389.5L149.1,389.7L148.3,389.8L147.5,389.9L146.6,390.0L145.7,390.1L144.8,390.1L143.9,390.1L143.0,390.1L142.2,390.1L141.4,390.2L140.6,390.2L139.9,390.3L139.3,390.4L138.7,390.5L138.1,390.6L137.5,390.7L137.0,390.9L136.4,391.0L135.8,391.1L135.3,391.2L134.7,391.2L134.1,391.3L133.4,391.3L132.8,391.3L132.1,391.3L131.5,391.2L130.8,391.2L130.2,391.2L129.6,391.1L129.0,391.1L128.4,391.1L127.8,391.1L127.3,391.0L126.7,391.0L126.2,391.1L125.7,391.1L125.3,391.1L124.8,391.2L124.4,391.2L124.0,391.3L123.6,391.4L123.3,391.6L123.0,391.7L122.8,391.9L122.5,392.2L122.3,392.5L122.2,392.8L122.1,393.2L121.9,393.5L121.9,394.0L121.8,394.4L121.7,394.9L121.7,395.4L121.7,395.9L121.6,396.4L121.6,396.9L121.6,397.5L121.6,398.1L121.6,398.7L121.6,399.3L121.6,400.0L121.6,400.6L121.6,401.3L121.6,402.0L121.6,402.6L121.5,403.3L121.5,403.9L121.4,404.5L121.3,405.1L121.2,405.7L121.0,406.2L120.8,406.6L120.5,407.0L120.2,407.3L119.8,407.4L119.4,407.5L118.9,407.6L118.4,407.5L117.9,407.4L117.4,407.3L116.8,407.1L116.3,406.9L115.8,406.8L115.2,406.6L114.7,406.4L114.2,406.3L113.7,406.1L113.3,406.0L112.8,405.9L112.3,405.7L111.8,405.6L111.4,405.4L110.9,405.3L110.5,405.1L110.0,405.0L109.6,404.8L109.1,404.7L108.7,404.5L108.2,404.4L107.8,404.2L107.4,404.0L107.0,403.8L106.5,403.7L106.1,403.5L105.7,403.3L105.3,403.1L104.9,402.9L104.5,402.8L104.1,402.6L103.7,402.6L103.4,402.5L103.1,402.5L102.7,402.6L102.4,402.7L102.1,402.9L101.8,403.1L101.5,403.3L101.2,403.6L100.9,404.0L100.6,404.3L100.4,404.7L100.1,405.1L99.8,405.5L99.5,405.9L99.2,406.3L98.9,406.8L98.6,407.3L98.2,407.8L97.9,408.3L97.6,408.8L97.3,409.4L96.9,410.1L96.6,410.8L96.2,411.5L95.9,412.2L95.5,413.0L95.1,413.7L94.7,414.4L94.3,415.0L93.9,415.6L93.4,416.0L93.0,416.3L92.6,416.6L92.1,416.8L91.7,416.9L91.3,416.9L90.8,416.9L90.4,416.8L89.9,416.7L89.5,416.6L89.1,416.3L88.7,416.0L88.3,415.6L87.9,415.1L87.6,414.5L87.2,413.9L86.9,413.1L86.6,412.4L86.3,411.6L86.0,410.9L85.7,410.2L85.4,409.5L85.1,408.8L84.9,408.2L84.6,407.6L84.3,407.1L84.1,406.5L83.8,405.9L83.6,405.3L83.4,404.7L83.2,404.1L83.0,403.5L82.8,402.8L82.6,402.2L82.4,401.5L82.3,400.9L82.1,400.3L82.0,399.7L81.8,399.1L81.7,398.5L81.5,398.0L81.4,397.4L81.2,396.9L81.1,396.5L81.0,396.0L80.8,395.6L80.7,395.2L80.5,394.8L80.3,394.5L80.1,394.2L79.9,394.0L79.7,393.8L79.4,393.7L79.2,393.6L78.9,393.6L78.5,393.7L78.2,393.8L77.8,393.9L77.4,394.0L77.0,394.2L76.5,394.4L76.1,394.7L75.6,394.9L75.2,395.1L74.7,395.4L74.2,395.7L73.6,396.0L73.1,396.3L72.5,396.6L71.9,396.9L71.4,397.3L70.8,397.6L70.2,397.9L69.6,398.2L69.0,398.5L68.3,398.8L67.7,399.0L67.1,399.3L66.5,399.5L65.9,399.7L65.3,400.0L64.7,400.2L64.0,400.3L63.4,400.5L62.8,400.6L62.2,400.8L61.6,400.9L61.1,400.9L60.5,401.0L59.9,401.0L59.3,401.1L58.8,401.1L58.2,401.1L57.6,401.1L57.0,401.2L56.4,401.2L55.7,401.3L55.0,401.4L54.3,401.6L53.5,401.7L52.7,401.9L51.8,402.1L51.0,402.2L50.2,402.4L49.3,402.5L48.5,402.6L47.8,402.7L47.0,402.7L46.3,402.6L45.7,402.6L45.0,402.5L44.4,402.3L43.8,402.1L43.3,401.9L42.8,401.7L42.3,401.4L41.8,401.1L41.4,400.8L41.0,400.4L40.6,400.1L40.3,399.7L40.0,399.2L39.8,398.8L39.6,398.3L39.4,397.8L39.2,397.3L39.1,396.7L39.1,396.2L39.0,395.6L39.0,395.0L39.1,394.4L39.2,393.8L39.3,393.1L39.5,392.4L39.7,391.7L40.0,391.0L40.3,390.3L40.7,389.6L41.1,388.8L41.5,388.1L41.9,387.3L42.3,386.6L42.7,385.9L43.1,385.3L43.4,384.6L43.7,384.0L44.0,383.4L44.3,382.8L44.5,382.3L44.7,381.8L44.9,381.2L45.1,380.7L45.3,380.2L45.5,379.6L45.8,379.1L46.1,378.6L46.4,378.1L46.7,377.5L47.0,377.0L47.4,376.5L47.8,376.0L48.1,375.4L48.5,374.9L49.0,374.4L49.4,373.9L49.8,373.4L50.2,372.9L50.7,372.4L51.1,372.0L51.6,371.5L52.1,371.0L52.5,370.6L53.0,370.1L53.5,369.7L54.0,369.3L54.5,368.9L55.1,368.4L55.6,368.0L56.2,367.6L56.7,367.2L57.3,366.8L57.9,366.5L58.5,366.1Z"/>
<path id="vbc2" d="M52.3,366.6L51.7,366.4L51.1,366.1L50.5,365.8L49.9,365.6L49.3,365.3L48.7,365.0L48.1,364.7L47.5,364.3L46.9,364.0L46.3,363.7L45.8,363.3L45.2,363.0L44.7,362.6L44.2,362.2L43.7,361.8L43.2,361.5L42.8,361.1L42.4,360.7L42.0,360.2L41.6,359.8L41.2,359.4L40.8,359.0L40.4,358.5L40.0,358.1L39.6,357.6L39.2,357.2L38.7,356.7L38.2,356.2L37.7,355.8L37.1,355.2L36.4,354.7L35.8,354.2L35.1,353.6L34.5,353.1L33.9,352.5L33.3,352.0L32.8,351.4L32.3,350.8L31.8,350.2L31.5,349.7L31.1,349.1L30.9,348.5L30.6,348.0L30.4,347.4L30.3,346.9L30.2,346.3L30.1,345.8L30.1,345.2L30.1,344.7L30.2,344.2L30.3,343.7L30.4,343.2L30.6,342.7L30.8,342.2L31.1,341.8L31.4,341.3L31.7,340.9L32.1,340.5L32.5,340.1L33.0,339.7L33.5,339.4L34.0,339.0L34.6,338.7L35.2,338.4L35.9,338.2L36.6,337.9L37.4,337.7L38.2,337.5L39.0,337.4L39.8,337.3L40.7,337.1L41.5,337.0L42.3,336.9L43.1,336.8L43.8,336.6L44.5,336.5L45.1,336.3L45.7,336.2L46.3,336.0L46.9,335.8L47.4,335.6L48.0,335.5L48.5,335.3L49.1,335.2L49.6,335.0L50.2,334.9L50.8,334.8L51.4,334.7L52.0,334.7L52.7,334.6L53.3,334.6L53.9,334.5L54.6,334.5L55.2,334.5L55.9,334.5L56.6,334.6L57.2,334.6L57.9,334.6L58.5,334.7L59.2,334.8L59.8,334.8L60.5,334.9L61.1,335.0L61.8,335.1L62.4,335.3L63.1,335.4L63.7,335.5L64.4,335.7L65.1,335.9L65.7,336.1L66.4,336.3L67.0,336.5L67.7,336.7L68.3,337.0L69.0,337.2L69.6,337.4L70.2,337.6L70.7,337.8L71.3,338.0L71.8,338.2L72.3,338.4L72.7,338.5L73.2,338.7L73.6,338.8L74.1,338.9L74.5,339.0L74.9,339.1L75.2,339.2L75.6,339.3L76.0,339.4L76.3,339.5L76.7,339.6L77.0,339.6L77.3,339.7L77.6,339.7L77.9,339.8L78.1,339.8L78.4,339.8L78.7,339.8L78.9,339.8L79.1,339.8L79.4,339.8L79.6,339.8L79.8,339.7L80.1,339.7L80.3,339.7L80.5,339.7L80.7,339.6L80.9,339.6L81.1,339.5L81.3,339.5L81.5,339.5L81.7,339.4L81.9,339.4L82.1,339.3L82.3,339.3L82.5,339.3L82.7,339.2L82.9,339.2L83.1,339.1L83.3,339.1L83.5,339.0L83.6,339.0L83.8,338.9L84.0,338.9L84.2,338.9L84.4,338.8L84.6,338.8L84.8,338.7L85.0,338.7L85.1,338.6L85.3,338.6L85.5,338.5L85.7,338.5L85.9,338.4L86.1,338.4L86.2,338.3L86.4,338.3L86.6,338.2L86.8,338.1L87.0,338.1L87.1,338.0L87.3,337.9L87.5,337.9L87.7,337.8L87.8,337.7L88.0,337.7L88.2,337.6L88.4,337.5L88.6,337.4L88.7,337.4L88.9,337.3L89.1,337.2L89.3,337.1L89.5,337.1L89.6,337.0L89.8,336.9L90.0,336.8L90.2,336.8L90.4,336.7L90.6,336.6L90.8,336.5L90.9,336.4L91.1,336.3L91.3,336.3L91.5,336.2L91.7,336.1L91.9,336.0L92.1,335.9L92.3,335.8L92.5,335.7L92.7,335.5L92.9,335.4L93.1,335.3L93.3,335.2L93.5,335.0L93.7,334.8L93.9,334.7L94.1,334.5L94.3,334.3L94.5,334.0L94.8,333.8L95.0,333.5L95.2,333.3L95.5,333.0L95.7,332.7L96.0,332.4L96.2,332.1L96.5,331.7L96.7,331.4L97.0,331.0L97.3,330.7L97.6,330.3L97.9,329.9L98.2,329.5L98.5,329.0L98.9,328.6L99.2,328.2L99.5,327.9L99.8,327.6L100.1,327.4L100.5,327.3L100.7,327.2L101.0,327.1L101.3,327.1L101.6,327.2L101.9,327.2L102.1,327.3L102.4,327.3L102.7,327.4L102.9,327.5L103.2,327.5L103.5,327.6L103.7,327.7L104.0,327.8L104.3,327.8L104.5,327.9L104.8,328.0L105.1,328.0L105.4,328.0L105.7,327.9L106.0,327.8L106.4,327.7L106.8,327.5L107.2,327.2L107.6,326.9L108.1,326.5L108.6,326.1L109.1,325.7L109.6,325.3L110.1,324.9L110.6,324.5L111.2,324.2L111.7,323.8L112.2,323.4L112.8,323.0L113.4,322.7L113.9,322.3L114.5,322.0L115.1,321.7L115.6,321.4L116.2,321.1L116.8,320.8L117.4,320.5L118.0,320.2L118.6,319.9L119.2,319.7L119.8,319.5L120.4,319.3L121.0,319.1L121.6,318.9L122.1,318.7L122.7,318.6L123.3,318.5L123.9,318.4L124.4,318.3L125.0,318.2L125.6,318.2L126.2,318.1L126.7,318.1L127.3,318.0L127.9,318.0L128.5,317.9L129.1,317.9L129.7,317.8L130.3,317.8L130.9,317.8L131.5,317.8L132.2,317.7L132.8,317.7L133.4,317.7L134.1,317.6L134.8,317.6L135.5,317.5L136.2,317.5L136.9,317.4L137.7,317.3L138.5,317.3L139.3,317.2L140.1,317.1L140.9,317.0L141.8,316.9L142.6,316.8L143.5,316.8L144.3,316.7L145.2,316.7L146.0,316.7L146.9,316.7L147.7,316.7L148.5,316.8L149.3,316.9L150.0,317.0L150.8,317.1L151.5,317.3L152.2,317.5L152.9,317.7L153.6,317.9L154.2,318.1L154.9,318.4L155.5,318.7L156.2,318.9L156.8,319.2L157.4,319.6L158.0,319.9L158.6,320.2L159.2,320.6L159.7,320.9L160.3,321.3L160.8,321.7L161.3,322.1L161.8,322.6L162.3,323.0L162.7,323.4L163.2,323.9L163.7,324.4L164.1,324.8L164.5,325.3L165.0,325.8L165.4,326.3L165.8,326.8L166.2,327.3L166.6,327.8L166.9,328.3L167.3,328.9L167.6,329.4L168.0,330.0L168.3,330.5L168.6,331.1L168.9,331.7L169.1,332.2L169.4,332.8L169.6,333.4L169.8,334.0L170.0,334.6L170.1,335.2L170.3,335.9L170.4,336.5L170.5,337.1L170.6,337.8L170.6,338.4L170.7,339.0L170.7,339.7L170.8,340.3L170.8,341.0L170.8,341.6L170.8,342.3L170.8,342.9L170.7,343.6L170.7,344.2L170.6,344.8L170.6,345.5L170.5,346.1L170.4,346.8L170.3,347.4L170.1,348.1L169.9,348.7L169.8,349.4L169.6,350.0L169.3,350.6L169.1,351.3L168.8,351.9L168.5,352.5L168.2,353.2L167.9,353.8L167.6,354.4L167.2,355.0L166.9,355.6L166.5,356.3L166.0,356.9L165.6,357.4L165.1,358.0L164.6,358.6L164.0,359.2L163.4,359.8L162.8,360.3L162.1,360.9L161.4,361.4L160.8,361.9L160.1,362.4L159.3,362.9L158.6,363.4L158.0,363.9L157.3,364.4L156.6,364.8L156.0,365.3L155.4,365.8L154.8,366.2L154.3,366.6L153.8,367.1L153.3,367.5L152.9,367.9L152.4,368.3L152.0,368.8L151.6,369.2L151.2,369.6L150.8,370.0L150.5,370.4L150.1,370.8L149.7,371.2L149.4,371.6L149.1,371.9L148.8,372.3L148.5,372.7L148.2,373.1L147.9,373.5L147.7,373.9L147.5,374.3L147.3,374.7L147.1,375.1L147.0,375.5L146.9,376.0L146.8,376.4L146.8,376.8L146.7,377.3L146.7,377.7L146.6,378.1L146.6,378.6L146.5,379.0L146.4,379.4L146.2,379.9L146.1,380.3L145.9,380.7L145.7,381.1L145.4,381.4L145.2,381.8L144.8,382.1L144.5,382.4L144.0,382.7L143.5,383.0L142.9,383.2L142.2,383.3L141.5,383.5L140.7,383.6L140.0,383.6L139.2,383.7L138.5,383.8L137.7,383.8L137.0,383.9L136.3,384.0L135.7,384.1L135.0,384.1L134.4,384.2L133.8,384.3L133.2,384.3L132.5,384.4L131.9,384.4L131.2,384.4L130.6,384.4L129.9,384.4L129.3,384.4L128.6,384.3L128.0,384.3L127.3,384.2L126.7,384.2L126.0,384.1L125.4,384.0L124.7,383.9L124.1,383.9L123.5,383.8L122.9,383.7L122.4,383.7L121.9,383.6L121.5,383.7L121.1,383.7L120.8,383.8L120.5,383.9L120.2,384.1L120.0,384.3L119.8,384.4L119.6,384.6L119.4,384.8L119.2,385.0L119.0,385.2L118.9,385.4L118.7,385.6L118.5,385.8L118.3,386.0L118.1,386.2L117.9,386.4L117.7,386.6L117.5,386.8L117.3,387.0L117.1,387.2L116.9,387.3L116.7,387.5L116.5,387.7L116.3,387.9L116.0,388.1L115.8,388.2L115.6,388.4L115.4,388.6L115.2,388.8L115.0,389.0L114.9,389.2L114.7,389.5L114.6,389.8L114.5,390.2L114.5,390.6L114.5,391.1L114.5,391.6L114.5,392.2L114.6,392.8L114.6,393.4L114.6,394.0L114.7,394.6L114.7,395.2L114.7,395.8L114.7,396.4L114.7,397.1L114.8,397.9L114.8,398.7L114.9,399.6L115.1,400.6L115.3,401.7L115.6,403.0L115.9,404.4L116.2,405.8L116.5,407.3L116.8,408.8L117.0,410.3L117.2,411.7L117.3,413.0L117.3,414.2L117.3,415.2L117.2,416.2L117.1,417.2L116.9,418.0L116.7,418.8L116.5,419.5L116.2,420.2L115.9,420.8L115.6,421.3L115.2,421.9L114.9,422.3L114.5,422.8L114.1,423.1L113.6,423.5L113.2,423.7L112.7,424.0L112.2,424.1L111.7,424.3L111.2,424.3L110.7,424.3L110.1,424.3L109.6,424.2L109.0,424.1L108.5,423.9L107.9,423.6L107.3,423.3L106.7,422.9L106.1,422.5L105.5,422.0L104.9,421.4L104.3,420.8L103.7,420.2L103.1,419.5L102.5,418.8L102.0,418.1L101.4,417.4L100.9,416.8L100.4,416.2L99.9,415.7L99.4,415.2L98.9,414.8L98.5,414.4L98.0,414.1L97.6,413.7L97.1,413.3L96.7,413.0L96.3,412.6L95.9,412.1L95.4,411.7L95.0,411.2L94.6,410.7L94.2,410.2L93.8,409.7L93.5,409.2L93.1,408.7L92.7,408.1L92.4,407.6L92.0,407.1L91.7,406.7L91.3,406.2L91.0,405.8L90.7,405.4L90.4,405.1L90.1,404.7L89.7,404.4L89.4,404.1L89.1,403.8L88.8,403.6L88.5,403.4L88.2,403.3L87.8,403.2L87.5,403.1L87.2,403.2L86.8,403.2L86.5,403.3L86.1,403.5L85.7,403.7L85.3,403.9L84.9,404.1L84.5,404.4L84.1,404.7L83.7,405.0L83.3,405.3L82.8,405.6L82.3,406.0L81.9,406.4L81.4,406.7L80.9,407.2L80.4,407.6L79.9,408.0L79.3,408.4L78.8,408.8L78.3,409.2L77.7,409.5L77.2,409.9L76.7,410.2L76.2,410.4L75.6,410.6L75.2,410.7L74.7,410.8L74.3,410.7L73.9,410.6L73.5,410.3L73.2,410.0L72.9,409.6L72.7,409.1L72.5,408.6L72.3,408.1L72.1,407.6L71.9,407.1L71.7,406.6L71.5,406.1L71.3,405.6L71.1,405.1L70.9,404.6L70.7,404.2L70.5,403.7L70.3,403.2L70.1,402.8L70.0,402.3L69.8,401.9L69.6,401.5L69.5,401.0L69.3,400.6L69.2,400.1L69.0,399.7L68.9,399.3L68.7,398.8L68.6,398.4L68.5,397.9L68.4,397.5L68.3,397.0L68.2,396.6L68.1,396.1L67.9,395.7L67.8,395.4L67.6,395.0L67.5,394.7L67.2,394.4L67.0,394.2L66.7,394.0L66.4,393.9L66.1,393.8L65.7,393.7L65.3,393.6L64.9,393.6L64.4,393.6L64.0,393.6L63.5,393.6L63.0,393.6L62.5,393.6L61.9,393.7L61.4,393.7L60.8,393.8L60.3,393.8L59.7,393.9L59.0,394.0L58.4,394.1L57.7,394.2L56.9,394.4L56.1,394.6L55.3,394.7L54.5,394.9L53.7,395.1L52.9,395.2L52.2,395.3L51.5,395.3L50.8,395.3L50.3,395.2L49.8,395.0L49.4,394.8L49.0,394.5L48.7,394.2L48.4,393.9L48.1,393.5L47.9,393.1L47.8,392.7L47.7,392.2L47.7,391.7L47.7,391.2L47.8,390.6L48.1,389.9L48.3,389.2L48.7,388.5L49.1,387.8L49.5,387.1L49.9,386.4L50.3,385.7L50.7,385.1L51.0,384.5L51.3,383.9L51.6,383.3L51.9,382.7L52.2,382.2L52.5,381.6L52.8,381.1L53.1,380.5L53.5,380.0L53.8,379.4L54.2,378.9L54.6,378.3L55.0,377.8L55.4,377.3L55.8,376.7L56.2,376.2L56.5,375.7L56.9,375.3L57.2,374.8L57.6,374.4L57.9,373.9L58.2,373.5L58.4,373.1L58.7,372.7L58.9,372.4L59.1,372.0L59.3,371.7L59.4,371.3L59.4,371.0L59.5,370.7L59.4,370.5L59.3,370.2L59.1,369.9L58.9,369.7L58.6,369.5L58.3,369.3L57.9,369.1L57.5,368.9L57.1,368.6L56.7,368.4L56.2,368.2L55.7,368.0L55.2,367.8L54.7,367.6L54.1,367.3L53.5,367.1L52.9,366.9Z"/>
<path id="vbc3" d="M47.4,367.3L47.6,366.9L47.8,366.5L48.1,366.1L48.4,365.7L48.6,365.3L48.9,364.9L49.2,364.6L49.5,364.2L49.7,363.8L50.0,363.5L50.3,363.1L50.5,362.8L50.8,362.4L50.9,362.1L51.1,361.7L51.2,361.4L51.2,361.1L51.2,360.7L51.1,360.4L51.0,360.1L50.9,359.7L50.7,359.4L50.4,359.0L50.2,358.7L49.9,358.3L49.6,358.0L49.3,357.6L48.9,357.2L48.6,356.8L48.2,356.4L47.8,356.0L47.4,355.6L47.0,355.2L46.5,354.7L46.0,354.3L45.5,353.8L45.0,353.4L44.4,352.9L43.7,352.3L43.1,351.8L42.4,351.3L41.8,350.7L41.3,350.2L40.8,349.7L40.4,349.1L40.1,348.6L39.9,348.1L39.8,347.7L39.8,347.2L39.8,346.8L39.9,346.3L40.0,345.9L40.1,345.5L40.4,345.1L40.6,344.7L41.0,344.4L41.4,344.1L41.9,343.8L42.6,343.6L43.3,343.4L44.0,343.2L44.8,343.0L45.6,342.9L46.4,342.8L47.2,342.7L47.9,342.6L48.6,342.4L49.3,342.3L50.0,342.2L50.6,342.0L51.2,341.9L51.8,341.8L52.4,341.7L53.1,341.6L53.7,341.5L54.4,341.5L55.0,341.4L55.7,341.4L56.4,341.4L57.0,341.3L57.7,341.3L58.3,341.3L58.9,341.3L59.5,341.3L60.1,341.3L60.7,341.2L61.2,341.2L61.7,341.2L62.2,341.2L62.7,341.1L63.1,341.1L63.5,341.0L63.9,340.9L64.3,340.8L64.6,340.7L64.8,340.5L65.0,340.3L65.1,340.1L65.2,339.8L65.3,339.5L65.3,339.1L65.3,338.7L65.2,338.3L65.2,337.9L65.1,337.4L64.9,337.0L64.8,336.5L64.7,336.0L64.5,335.4L64.4,334.9L64.2,334.3L64.1,333.7L63.9,333.1L63.7,332.5L63.5,331.9L63.3,331.2L63.1,330.6L63.0,329.9L62.8,329.3L62.7,328.6L62.5,327.9L62.4,327.3L62.3,326.6L62.2,326.0L62.2,325.3L62.1,324.7L62.0,324.0L62.0,323.4L62.0,322.8L62.0,322.2L62.0,321.6L62.1,321.0L62.1,320.4L62.2,319.8L62.3,319.3L62.4,318.7L62.5,318.1L62.6,317.6L62.7,317.0L62.8,316.4L62.9,315.7L62.9,315.0L63.0,314.3L63.0,313.5L63.0,312.7L63.0,311.9L63.1,311.0L63.1,310.2L63.1,309.3L63.2,308.5L63.3,307.7L63.4,307.0L63.6,306.3L63.8,305.6L64.0,305.0L64.3,304.4L64.6,303.9L64.9,303.4L65.2,302.9L65.6,302.5L66.0,302.1L66.4,301.7L66.8,301.4L67.2,301.1L67.7,300.8L68.1,300.6L68.6,300.4L69.1,300.3L69.7,300.2L70.2,300.2L70.7,300.2L71.3,300.2L71.9,300.3L72.4,300.4L73.0,300.5L73.6,300.7L74.2,301.0L74.8,301.3L75.5,301.6L76.1,302.0L76.7,302.5L77.4,303.0L78.0,303.5L78.6,304.1L79.3,304.7L79.9,305.2L80.5,305.8L81.0,306.3L81.6,306.8L82.2,307.3L82.7,307.7L83.2,308.1L83.7,308.4L84.2,308.7L84.7,309.1L85.1,309.4L85.6,309.7L86.1,310.0L86.5,310.4L87.0,310.8L87.4,311.2L87.9,311.6L88.3,312.0L88.7,312.5L89.2,312.9L89.6,313.4L90.0,313.9L90.4,314.4L90.8,315.0L91.2,315.5L91.6,316.0L92.0,316.6L92.3,317.1L92.7,317.6L93.0,318.2L93.4,318.8L93.7,319.3L94.0,319.9L94.4,320.5L94.7,321.1L95.0,321.7L95.2,322.3L95.5,322.9L95.8,323.6L96.0,324.2L96.3,324.9L96.5,325.5L96.7,326.2L97.0,326.8L97.2,327.4L97.4,328.0L97.6,328.6L97.7,329.1L97.9,329.7L98.1,330.2L98.3,330.6L98.5,331.1L98.6,331.5L98.8,331.9L99.0,332.3L99.1,332.7L99.3,333.0L99.4,333.4L99.6,333.7L99.7,334.1L99.9,334.4L100.0,334.7L100.2,335.0L100.3,335.2L100.5,335.5L100.7,335.7L100.8,335.9L101.0,336.1L101.1,336.3L101.3,336.5L101.4,336.7L101.6,336.8L101.7,337.0L101.9,337.2L102.1,337.3L102.2,337.5L102.4,337.6L102.5,337.8L102.7,337.9L102.9,338.0L103.0,338.2L103.2,338.3L103.3,338.4L103.5,338.6L103.6,338.7L103.8,338.8L103.9,338.9L104.1,339.0L104.3,339.2L104.4,339.3L104.6,339.4L104.7,339.5L104.9,339.7L105.0,339.8L105.2,339.9L105.3,340.0L105.5,340.1L105.6,340.3L105.8,340.4L105.9,340.5L106.1,340.6L106.2,340.7L106.4,340.8L106.5,340.9L106.7,341.1L106.8,341.2L107.0,341.3L107.2,341.4L107.3,341.5L107.5,341.6L107.6,341.7L107.8,341.8L108.0,341.9L108.1,341.9L108.3,342.0L108.5,342.1L108.6,342.2L108.8,342.3L109.0,342.4L109.2,342.5L109.3,342.6L109.5,342.7L109.7,342.8L109.8,342.9L110.0,343.0L110.2,343.1L110.4,343.2L110.5,343.3L110.7,343.4L110.9,343.5L111.1,343.6L111.3,343.6L111.4,343.7L111.6,343.8L111.8,343.9L112.0,344.0L112.2,344.1L112.4,344.2L112.6,344.3L112.8,344.4L113.0,344.4L113.2,344.5L113.5,344.6L113.7,344.7L113.9,344.7L114.2,344.8L114.4,344.9L114.7,344.9L115.0,344.9L115.3,345.0L115.7,345.0L116.0,345.0L116.3,345.0L116.7,345.1L117.1,345.1L117.5,345.1L117.9,345.1L118.3,345.1L118.7,345.1L119.2,345.1L119.6,345.1L120.1,345.1L120.6,345.0L121.1,345.0L121.7,345.0L122.2,345.0L122.7,345.0L123.2,345.0L123.6,345.1L124.0,345.2L124.3,345.4L124.6,345.5L124.8,345.7L125.0,345.9L125.2,346.2L125.3,346.4L125.4,346.6L125.5,346.9L125.7,347.1L125.8,347.4L125.9,347.6L126.0,347.9L126.1,348.2L126.2,348.4L126.3,348.7L126.4,348.9L126.5,349.2L126.7,349.4L126.8,349.6L127.1,349.8L127.3,350.1L127.7,350.2L128.1,350.4L128.5,350.6L129.0,350.7L129.6,350.9L130.2,351.0L130.8,351.1L131.4,351.3L132.1,351.4L132.7,351.6L133.3,351.8L134.0,352.0L134.6,352.2L135.2,352.4L135.9,352.6L136.5,352.8L137.1,353.0L137.7,353.3L138.3,353.5L138.9,353.8L139.5,354.1L140.1,354.3L140.7,354.6L141.3,354.9L141.8,355.2L142.4,355.6L142.9,355.9L143.5,356.2L144.0,356.6L144.4,356.9L144.9,357.3L145.4,357.7L145.8,358.1L146.2,358.5L146.7,358.9L147.1,359.3L147.5,359.7L147.9,360.1L148.3,360.5L148.7,360.9L149.1,361.4L149.5,361.8L149.9,362.2L150.3,362.7L150.7,363.2L151.1,363.6L151.5,364.1L151.9,364.6L152.4,365.1L152.8,365.6L153.2,366.1L153.7,366.6L154.2,367.1L154.7,367.6L155.2,368.2L155.8,368.7L156.3,369.3L156.9,369.9L157.5,370.5L158.1,371.1L158.7,371.7L159.3,372.3L159.8,373.0L160.4,373.6L160.9,374.2L161.5,374.9L162.0,375.6L162.4,376.2L162.8,376.9L163.2,377.6L163.6,378.2L163.9,378.9L164.2,379.6L164.5,380.2L164.8,380.9L165.0,381.6L165.2,382.2L165.4,382.9L165.6,383.6L165.8,384.2L165.9,384.9L166.0,385.6L166.1,386.3L166.2,386.9L166.3,387.6L166.3,388.3L166.3,388.9L166.3,389.6L166.3,390.2L166.3,390.9L166.2,391.5L166.2,392.2L166.1,392.8L166.0,393.5L165.9,394.1L165.8,394.7L165.7,395.4L165.5,396.0L165.4,396.6L165.2,397.3L165.1,397.9L164.9,398.5L164.7,399.1L164.5,399.7L164.2,400.3L164.0,400.9L163.7,401.5L163.4,402.0L163.1,402.6L162.8,403.1L162.4,403.7L162.1,404.2L161.7,404.7L161.3,405.2L160.9,405.7L160.5,406.2L160.0,406.6L159.6,407.1L159.1,407.5L158.7,408.0L158.2,408.4L157.7,408.8L157.2,409.2L156.7,409.6L156.2,410.0L155.6,410.4L155.1,410.8L154.6,411.1L154.0,411.5L153.5,411.8L152.9,412.1L152.3,412.5L151.7,412.8L151.1,413.0L150.5,413.3L149.9,413.5L149.3,413.8L148.6,414.0L148.0,414.2L147.3,414.4L146.6,414.5L145.9,414.7L145.2,414.8L144.5,414.9L143.8,415.0L143.1,415.1L142.4,415.1L141.6,415.1L140.9,415.1L140.1,415.1L139.3,415.0L138.5,414.9L137.7,414.8L136.8,414.6L136.0,414.4L135.1,414.2L134.3,414.0L133.5,413.8L132.6,413.5L131.8,413.3L131.0,413.0L130.3,412.8L129.5,412.6L128.8,412.4L128.1,412.2L127.4,412.1L126.7,412.0L126.1,411.9L125.5,411.8L124.9,411.7L124.3,411.6L123.7,411.5L123.1,411.5L122.6,411.4L122.0,411.4L121.5,411.3L121.0,411.3L120.4,411.3L119.9,411.3L119.4,411.3L118.9,411.3L118.5,411.3L118.0,411.4L117.5,411.4L117.1,411.5L116.6,411.6L116.2,411.7L115.8,411.8L115.4,412.0L115.0,412.2L114.7,412.5L114.3,412.7L113.9,412.9L113.5,413.2L113.2,413.4L112.8,413.6L112.4,413.8L112.0,413.9L111.5,414.1L111.1,414.2L110.7,414.3L110.2,414.3L109.8,414.4L109.3,414.3L108.8,414.2L108.4,414.1L107.8,413.9L107.3,413.5L106.8,413.1L106.2,412.7L105.7,412.2L105.1,411.6L104.6,411.0L104.1,410.5L103.6,410.0L103.1,409.5L102.6,409.0L102.1,408.5L101.6,408.0L101.2,407.6L100.7,407.1L100.3,406.7L99.9,406.2L99.5,405.7L99.0,405.2L98.6,404.7L98.2,404.2L97.8,403.7L97.4,403.2L97.1,402.6L96.7,402.1L96.3,401.5L96.0,401.0L95.6,400.4L95.3,399.9L95.0,399.3L94.7,398.8L94.4,398.3L94.1,397.8L93.8,397.4L93.5,397.1L93.2,396.8L92.9,396.6L92.7,396.4L92.4,396.3L92.1,396.2L91.8,396.2L91.6,396.2L91.3,396.1L91.0,396.1L90.8,396.1L90.5,396.1L90.2,396.0L89.9,396.0L89.7,396.0L89.4,395.9L89.1,395.9L88.8,395.9L88.6,395.8L88.3,395.8L88.0,395.8L87.8,395.7L87.5,395.7L87.2,395.6L86.9,395.6L86.7,395.5L86.4,395.5L86.1,395.4L85.9,395.4L85.6,395.3L85.3,395.3L85.0,395.3L84.7,395.4L84.4,395.5L84.1,395.6L83.7,395.8L83.4,396.1L83.0,396.4L82.5,396.8L82.1,397.2L81.7,397.6L81.2,398.0L80.8,398.4L80.3,398.8L79.8,399.1L79.3,399.5L78.8,400.0L78.3,400.4L77.7,401.0L77.1,401.6L76.4,402.3L75.7,403.2L74.9,404.1L74.0,405.2L73.1,406.3L72.1,407.5L71.1,408.7L70.1,409.8L69.1,410.8L68.2,411.8L67.2,412.6L66.4,413.3L65.5,413.8L64.7,414.3L64.0,414.8L63.2,415.1L62.5,415.4L61.8,415.6L61.1,415.8L60.5,415.9L59.8,415.9L59.2,416.0L58.7,415.9L58.1,415.8L57.6,415.7L57.1,415.6L56.6,415.3L56.1,415.1L55.7,414.8L55.3,414.4L55.0,414.0L54.7,413.6L54.4,413.1L54.1,412.6L53.9,412.1L53.7,411.5L53.6,410.8L53.5,410.1L53.5,409.4L53.5,408.6L53.5,407.8L53.6,407.0L53.8,406.1L53.9,405.2L54.1,404.3L54.3,403.4L54.5,402.6L54.7,401.8L54.8,401.0L54.9,400.3L55.0,399.6L55.0,399.0L55.0,398.4L55.0,397.8L55.0,397.2L55.0,396.6L55.1,396.1L55.1,395.5L55.2,394.9L55.2,394.3L55.3,393.7L55.5,393.1L55.6,392.4L55.8,391.8L56.0,391.2L56.1,390.6L56.3,390.0L56.5,389.4L56.7,388.8L56.8,388.2L56.9,387.7L57.1,387.1L57.2,386.6L57.3,386.2L57.4,385.7L57.4,385.2L57.5,384.8L57.5,384.4L57.5,384.0L57.4,383.6L57.4,383.3L57.2,383.0L57.1,382.7L56.9,382.4L56.6,382.2L56.3,381.9L56.0,381.7L55.6,381.6L55.2,381.4L54.8,381.2L54.3,381.1L53.8,380.9L53.4,380.8L52.8,380.6L52.3,380.5L51.7,380.4L51.2,380.2L50.5,380.1L49.9,380.0L49.3,379.8L48.6,379.7L48.0,379.5L47.4,379.4L46.7,379.2L46.1,379.0L45.5,378.8L44.9,378.6L44.4,378.3L43.9,378.1L43.5,377.8L43.1,377.4L42.9,377.1L42.7,376.7L42.7,376.3L42.7,375.8L42.8,375.4L43.0,374.9L43.3,374.4L43.5,373.9L43.8,373.4L44.1,372.9L44.4,372.5L44.6,372.0L44.9,371.5L45.2,371.1L45.4,370.6L45.7,370.2L45.9,369.8L46.1,369.3L46.4,368.9L46.6,368.5L46.9,368.1L47.1,367.7Z"/>
<path id="vbc4" d="M30.3,369.5L29.9,369.1L29.5,368.6L29.1,368.1L28.8,367.7L28.6,367.2L28.4,366.7L28.2,366.2L28.1,365.6L28.1,365.1L28.1,364.6L28.2,364.1L28.3,363.6L28.5,363.1L28.7,362.5L29.0,362.0L29.4,361.5L29.8,361.0L30.2,360.5L30.7,360.0L31.3,359.6L32.0,359.1L32.7,358.6L33.4,358.2L34.2,357.8L35.0,357.3L35.8,356.9L36.6,356.6L37.4,356.2L38.1,355.8L38.7,355.4L39.3,355.0L39.9,354.7L40.4,354.3L40.8,354.0L41.3,353.6L41.7,353.2L42.2,352.9L42.7,352.6L43.1,352.2L43.6,351.9L44.2,351.6L44.7,351.3L45.3,351.1L45.9,350.8L46.5,350.5L47.1,350.3L47.7,350.0L48.3,349.8L48.8,349.6L49.4,349.3L49.9,349.1L50.4,348.9L50.9,348.7L51.3,348.4L51.7,348.2L52.2,348.0L52.5,347.7L52.9,347.5L53.2,347.2L53.5,347.0L53.7,346.7L53.9,346.4L54.0,346.1L54.1,345.8L54.1,345.4L54.1,345.1L54.1,344.7L54.0,344.3L53.9,343.9L53.8,343.5L53.6,343.0L53.5,342.6L53.3,342.1L53.1,341.6L52.8,341.1L52.6,340.6L52.3,340.0L52.1,339.5L51.8,338.9L51.5,338.3L51.2,337.7L50.9,337.1L50.7,336.5L50.4,335.9L50.1,335.3L49.9,334.7L49.7,334.1L49.6,333.6L49.5,333.0L49.4,332.5L49.4,332.0L49.5,331.6L49.7,331.2L50.0,330.9L50.3,330.6L50.7,330.4L51.2,330.2L51.7,330.1L52.3,330.0L52.8,329.9L53.4,329.8L53.9,329.8L54.5,329.7L55.0,329.6L55.5,329.5L56.0,329.4L56.5,329.4L57.0,329.3L57.5,329.2L58.0,329.1L58.5,329.0L58.9,329.0L59.4,328.9L59.9,328.8L60.3,328.8L60.8,328.7L61.3,328.7L61.7,328.6L62.2,328.6L62.7,328.6L63.1,328.6L63.6,328.6L64.1,328.6L64.5,328.5L65.0,328.5L65.4,328.5L65.8,328.5L66.2,328.4L66.6,328.3L66.9,328.2L67.2,328.0L67.5,327.8L67.7,327.6L67.9,327.3L68.1,327.0L68.2,326.6L68.3,326.2L68.5,325.8L68.6,325.4L68.7,324.9L68.8,324.4L68.8,323.9L68.9,323.4L69.0,322.9L69.1,322.3L69.2,321.8L69.2,321.2L69.3,320.6L69.3,319.9L69.4,319.2L69.4,318.5L69.4,317.7L69.4,316.9L69.4,316.1L69.4,315.2L69.5,314.4L69.5,313.6L69.6,312.9L69.8,312.2L70.0,311.7L70.2,311.2L70.5,310.8L70.9,310.5L71.2,310.2L71.6,310.0L72.0,309.8L72.4,309.6L72.9,309.6L73.3,309.5L73.8,309.6L74.3,309.7L74.8,309.9L75.4,310.2L76.0,310.6L76.6,311.1L77.2,311.6L77.8,312.1L78.4,312.7L79.0,313.2L79.6,313.7L80.1,314.2L80.6,314.7L81.1,315.1L81.6,315.5L82.1,315.9L82.6,316.3L83.1,316.7L83.5,317.2L84.0,317.6L84.4,318.1L84.9,318.6L85.3,319.1L85.8,319.6L86.2,320.1L86.6,320.6L87.0,321.1L87.4,321.6L87.8,322.0L88.2,322.5L88.6,322.9L88.9,323.3L89.3,323.7L89.6,324.1L89.9,324.4L90.3,324.7L90.6,325.0L90.9,325.3L91.2,325.5L91.5,325.6L91.8,325.8L92.0,325.8L92.3,325.8L92.6,325.7L92.9,325.6L93.1,325.4L93.4,325.1L93.7,324.9L94.0,324.5L94.3,324.2L94.6,323.8L94.9,323.4L95.2,323.0L95.5,322.6L95.9,322.1L96.2,321.6L96.6,321.1L96.9,320.6L97.3,320.1L97.7,319.5L98.0,319.0L98.4,318.4L98.9,317.9L99.3,317.4L99.7,316.8L100.1,316.3L100.6,315.8L101.0,315.3L101.5,314.8L101.9,314.4L102.4,313.9L102.8,313.5L103.3,313.1L103.8,312.7L104.3,312.3L104.8,311.9L105.3,311.6L105.7,311.2L106.2,310.9L106.7,310.7L107.2,310.4L107.7,310.1L108.2,309.8L108.8,309.6L109.3,309.2L109.8,308.9L110.4,308.5L111.0,308.1L111.6,307.7L112.3,307.2L112.9,306.7L113.6,306.2L114.3,305.7L115.0,305.2L115.6,304.7L116.3,304.3L117.0,303.9L117.7,303.6L118.3,303.3L118.9,303.1L119.6,302.9L120.2,302.8L120.8,302.7L121.3,302.7L121.9,302.7L122.5,302.7L123.0,302.8L123.5,302.9L124.0,303.0L124.5,303.2L125.0,303.5L125.4,303.7L125.8,304.0L126.2,304.4L126.6,304.7L127.0,305.2L127.3,305.6L127.6,306.1L127.9,306.6L128.1,307.1L128.4,307.7L128.5,308.3L128.7,309.0L128.8,309.7L128.9,310.4L129.0,311.2L129.0,312.0L129.0,312.8L128.9,313.6L128.9,314.5L128.8,315.3L128.7,316.2L128.7,317.0L128.6,317.7L128.6,318.4L128.6,319.1L128.6,319.8L128.7,320.4L128.7,321.0L128.8,321.5L128.8,322.1L128.9,322.7L128.9,323.2L128.9,323.8L128.9,324.4L128.9,325.0L128.8,325.6L128.8,326.2L128.7,326.8L128.6,327.5L128.5,328.1L128.4,328.7L128.2,329.4L128.1,330.0L127.9,330.7L127.7,331.3L127.5,331.9L127.4,332.5L127.1,333.2L126.9,333.8L126.7,334.4L126.5,335.0L126.2,335.6L126.0,336.2L125.7,336.8L125.4,337.4L125.1,338.1L124.8,338.7L124.5,339.3L124.1,339.9L123.8,340.5L123.4,341.1L123.1,341.6L122.7,342.2L122.3,342.8L122.0,343.3L121.6,343.8L121.3,344.3L121.0,344.8L120.8,345.2L120.5,345.7L120.3,346.1L120.0,346.5L119.8,346.9L119.6,347.3L119.4,347.6L119.2,348.0L119.0,348.3L118.9,348.7L118.7,349.0L118.5,349.3L118.4,349.6L118.3,349.9L118.1,350.2L118.0,350.5L118.0,350.7L117.9,351.0L117.8,351.3L117.7,351.5L117.7,351.7L117.7,352.0L117.6,352.2L117.6,352.4L117.6,352.6L117.6,352.9L117.5,353.1L117.5,353.3L117.5,353.5L117.5,353.7L117.5,353.9L117.5,354.1L117.5,354.3L117.5,354.5L117.5,354.7L117.5,354.9L117.5,355.1L117.5,355.3L117.5,355.5L117.5,355.7L117.5,355.9L117.5,356.1L117.5,356.3L117.5,356.5L117.5,356.7L117.5,356.9L117.5,357.1L117.5,357.3L117.5,357.5L117.5,357.7L117.5,357.9L117.5,358.1L117.5,358.3L117.5,358.4L117.5,358.6L117.5,358.8L117.5,359.0L117.5,359.2L117.6,359.4L117.6,359.6L117.6,359.8L117.6,359.9L117.7,360.1L117.7,360.3L117.7,360.5L117.7,360.7L117.8,360.9L117.8,361.1L117.8,361.3L117.9,361.5L117.9,361.7L117.9,361.8L118.0,362.0L118.0,362.2L118.0,362.4L118.1,362.6L118.1,362.8L118.1,363.0L118.2,363.2L118.2,363.4L118.2,363.6L118.3,363.8L118.3,364.0L118.4,364.2L118.4,364.4L118.4,364.6L118.5,364.8L118.5,365.0L118.6,365.2L118.7,365.4L118.7,365.7L118.8,365.9L118.9,366.1L118.9,366.3L119.0,366.5L119.1,366.8L119.2,367.0L119.3,367.2L119.5,367.5L119.6,367.7L119.8,368.0L120.0,368.3L120.1,368.5L120.3,368.8L120.6,369.1L120.8,369.4L121.0,369.7L121.3,370.0L121.5,370.4L121.8,370.7L122.1,371.0L122.4,371.4L122.7,371.8L123.0,372.1L123.3,372.5L123.7,372.9L124.0,373.3L124.3,373.7L124.6,374.1L124.8,374.5L125.0,374.9L125.1,375.2L125.2,375.6L125.2,375.9L125.1,376.1L125.1,376.4L125.0,376.7L124.9,376.9L124.7,377.2L124.6,377.4L124.5,377.7L124.4,377.9L124.2,378.1L124.1,378.4L124.0,378.6L123.8,378.9L123.7,379.1L123.6,379.4L123.5,379.6L123.4,379.9L123.3,380.2L123.3,380.5L123.4,380.9L123.5,381.3L123.6,381.7L123.8,382.2L124.1,382.7L124.3,383.3L124.6,383.8L124.9,384.4L125.1,385.0L125.4,385.6L125.7,386.2L125.9,386.8L126.2,387.4L126.4,388.1L126.6,388.7L126.8,389.3L127.0,389.9L127.2,390.6L127.4,391.2L127.6,391.8L127.8,392.5L127.9,393.1L128.1,393.7L128.2,394.4L128.3,395.0L128.4,395.7L128.5,396.3L128.5,396.9L128.6,397.5L128.6,398.1L128.6,398.7L128.6,399.3L128.6,399.9L128.6,400.5L128.5,401.1L128.5,401.6L128.4,402.2L128.3,402.8L128.3,403.3L128.2,403.9L128.1,404.5L128.0,405.1L127.9,405.7L127.8,406.3L127.7,406.9L127.6,407.5L127.5,408.1L127.4,408.7L127.2,409.4L127.1,410.0L127.0,410.7L126.9,411.4L126.8,412.1L126.7,412.8L126.6,413.5L126.5,414.3L126.4,415.1L126.3,415.9L126.2,416.7L126.1,417.5L126.0,418.4L125.9,419.2L125.7,420.1L125.6,420.9L125.4,421.8L125.3,422.6L125.1,423.4L124.8,424.2L124.6,424.9L124.3,425.6L124.0,426.3L123.7,427.0L123.4,427.7L123.0,428.3L122.7,428.9L122.3,429.6L121.9,430.1L121.5,430.7L121.1,431.3L120.7,431.8L120.3,432.4L119.8,432.9L119.4,433.4L118.9,433.9L118.4,434.3L117.9,434.8L117.4,435.2L116.9,435.7L116.4,436.1L115.9,436.4L115.3,436.8L114.8,437.2L114.2,437.5L113.7,437.8L113.1,438.2L112.6,438.5L112.0,438.8L111.4,439.1L110.8,439.3L110.2,439.6L109.7,439.9L109.1,440.1L108.5,440.3L107.9,440.5L107.2,440.7L106.6,440.9L106.0,441.1L105.4,441.2L104.8,441.3L104.1,441.4L103.5,441.5L102.9,441.5L102.2,441.6L101.6,441.6L101.0,441.6L100.3,441.5L99.7,441.5L99.0,441.4L98.4,441.3L97.8,441.3L97.1,441.1L96.5,441.0L95.9,440.9L95.2,440.7L94.6,440.6L94.0,440.4L93.4,440.3L92.8,440.1L92.1,439.9L91.5,439.6L90.9,439.4L90.3,439.2L89.7,438.9L89.1,438.6L88.5,438.3L87.9,437.9L87.4,437.6L86.8,437.2L86.2,436.8L85.7,436.4L85.1,436.0L84.6,435.6L84.0,435.1L83.5,434.6L83.0,434.2L82.5,433.6L82.0,433.1L81.5,432.6L81.0,432.0L80.6,431.3L80.1,430.7L79.7,430.0L79.3,429.3L78.9,428.5L78.5,427.8L78.2,427.0L77.8,426.2L77.5,425.4L77.1,424.6L76.8,423.8L76.5,423.0L76.2,422.3L75.9,421.5L75.6,420.8L75.3,420.2L75.0,419.5L74.7,418.9L74.3,418.4L74.0,417.8L73.7,417.3L73.4,416.8L73.1,416.3L72.8,415.8L72.5,415.3L72.2,414.8L71.9,414.4L71.6,414.0L71.3,413.5L71.0,413.1L70.6,412.7L70.3,412.3L70.0,412.0L69.7,411.6L69.4,411.3L69.0,411.0L68.7,410.7L68.3,410.4L68.0,410.2L67.6,410.0L67.2,409.8L66.8,409.7L66.4,409.5L65.9,409.4L65.5,409.2L65.1,409.1L64.7,408.9L64.3,408.7L63.9,408.5L63.5,408.3L63.2,408.0L62.8,407.7L62.5,407.4L62.2,407.1L61.9,406.7L61.7,406.3L61.5,405.8L61.3,405.3L61.3,404.7L61.2,404.1L61.2,403.4L61.3,402.6L61.4,401.9L61.5,401.1L61.6,400.3L61.7,399.6L61.7,398.9L61.8,398.2L61.9,397.5L62.0,396.9L62.0,396.2L62.1,395.6L62.2,395.0L62.3,394.4L62.4,393.7L62.5,393.1L62.7,392.5L62.8,391.8L63.0,391.2L63.1,390.6L63.3,389.9L63.5,389.3L63.7,388.7L63.9,388.0L64.2,387.4L64.4,386.8L64.6,386.2L64.8,385.6L65.0,385.1L65.2,384.5L65.4,384.1L65.5,383.6L65.5,383.2L65.5,382.8L65.5,382.5L65.4,382.2L65.3,382.0L65.2,381.7L65.0,381.5L64.9,381.2L64.7,381.0L64.6,380.8L64.4,380.6L64.3,380.3L64.1,380.1L64.0,379.9L63.8,379.6L63.7,379.4L63.6,379.2L63.4,378.9L63.3,378.7L63.1,378.5L63.0,378.2L62.9,378.0L62.8,377.7L62.6,377.5L62.5,377.2L62.4,377.0L62.2,376.8L62.1,376.5L62.0,376.3L61.8,376.0L61.6,375.8L61.4,375.6L61.2,375.4L60.9,375.3L60.5,375.1L60.1,375.0L59.6,374.9L59.0,374.8L58.5,374.7L57.9,374.6L57.3,374.5L56.7,374.4L56.1,374.2L55.5,374.1L54.9,374.0L54.3,373.9L53.6,373.7L52.8,373.6L52.0,373.5L51.0,373.4L49.9,373.4L48.7,373.3L47.4,373.3L45.9,373.3L44.4,373.3L42.9,373.2L41.4,373.1L39.9,373.0L38.6,372.9L37.3,372.7L36.2,372.4L35.2,372.2L34.3,371.9L33.5,371.5L32.7,371.2L32.0,370.8L31.4,370.4L30.9,369.9Z"/>
<path id="vbc5" d="M38.3,368.5L38.2,368.0L38.1,367.6L38.1,367.2L38.0,366.7L38.0,366.3L38.1,365.8L38.1,365.4L38.2,365.0L38.4,364.5L38.6,364.1L38.9,363.6L39.3,363.2L39.7,362.7L40.3,362.3L40.9,361.9L41.5,361.5L42.2,361.1L42.8,360.7L43.5,360.3L44.1,359.9L44.7,359.5L45.3,359.2L45.8,358.8L46.4,358.5L46.9,358.1L47.5,357.8L48.0,357.5L48.6,357.2L49.1,356.9L49.7,356.6L50.3,356.3L50.9,356.0L51.5,355.8L52.1,355.5L52.7,355.3L53.3,355.0L53.9,354.8L54.6,354.6L55.2,354.4L55.8,354.2L56.4,354.0L57.0,353.8L57.5,353.6L58.0,353.4L58.4,353.2L58.8,353.0L59.1,352.8L59.3,352.6L59.5,352.4L59.7,352.1L59.8,351.9L59.9,351.6L60.0,351.3L60.1,351.1L60.2,350.8L60.3,350.6L60.3,350.3L60.4,350.0L60.5,349.8L60.6,349.5L60.7,349.2L60.8,349.0L60.9,348.7L61.0,348.5L61.1,348.2L61.2,348.0L61.3,347.7L61.4,347.5L61.5,347.2L61.6,347.0L61.7,346.7L61.9,346.5L62.0,346.2L62.1,345.9L62.2,345.7L62.2,345.4L62.3,345.1L62.3,344.8L62.2,344.5L62.1,344.1L62.0,343.7L61.8,343.3L61.5,342.8L61.3,342.3L61.0,341.8L60.7,341.2L60.4,340.7L60.1,340.2L59.8,339.6L59.6,339.1L59.3,338.5L58.9,337.9L58.6,337.3L58.2,336.6L57.6,335.8L57.0,334.9L56.4,334.0L55.6,332.9L54.7,331.8L53.8,330.6L52.9,329.4L52.0,328.2L51.1,327.0L50.4,325.8L49.7,324.7L49.2,323.6L48.7,322.7L48.4,321.7L48.1,320.9L47.9,320.0L47.8,319.3L47.7,318.5L47.6,317.8L47.6,317.1L47.7,316.5L47.8,315.9L47.9,315.3L48.1,314.7L48.3,314.2L48.6,313.7L48.9,313.3L49.2,312.9L49.6,312.5L50.0,312.2L50.4,311.9L50.9,311.7L51.4,311.5L51.9,311.4L52.5,311.2L53.1,311.2L53.7,311.2L54.4,311.2L55.1,311.3L55.8,311.4L56.6,311.6L57.4,311.9L58.2,312.2L59.0,312.5L59.9,312.9L60.7,313.3L61.5,313.7L62.3,314.0L63.0,314.3L63.7,314.6L64.4,314.9L65.0,315.1L65.6,315.2L66.2,315.4L66.8,315.5L67.3,315.7L67.9,315.8L68.4,315.9L69.0,316.1L69.5,316.3L70.1,316.5L70.7,316.8L71.3,317.0L71.8,317.3L72.4,317.6L73.0,318.0L73.6,318.3L74.1,318.6L74.6,318.9L75.2,319.2L75.7,319.4L76.2,319.7L76.6,319.9L77.1,320.1L77.5,320.3L78.0,320.5L78.4,320.6L78.8,320.8L79.2,320.9L79.6,320.9L80.0,321.0L80.3,320.9L80.6,320.9L80.9,320.8L81.2,320.6L81.5,320.4L81.8,320.1L82.1,319.8L82.3,319.5L82.6,319.1L82.8,318.7L83.1,318.3L83.3,317.9L83.6,317.4L83.8,316.9L84.1,316.4L84.4,315.9L84.6,315.3L84.9,314.8L85.2,314.2L85.4,313.6L85.7,313.0L86.0,312.4L86.3,311.8L86.6,311.3L87.0,310.7L87.3,310.2L87.7,309.7L88.0,309.2L88.4,308.8L88.8,308.5L89.2,308.3L89.6,308.2L90.0,308.2L90.4,308.2L90.8,308.4L91.3,308.7L91.7,309.0L92.1,309.3L92.5,309.7L92.9,310.1L93.3,310.5L93.7,310.9L94.1,311.2L94.5,311.6L94.9,311.9L95.3,312.3L95.6,312.6L96.0,312.9L96.4,313.3L96.7,313.6L97.1,313.9L97.4,314.2L97.8,314.6L98.1,314.9L98.4,315.2L98.8,315.6L99.1,315.9L99.4,316.2L99.7,316.6L100.0,316.9L100.3,317.3L100.6,317.6L100.9,318.0L101.2,318.4L101.5,318.7L101.8,319.0L102.1,319.3L102.4,319.5L102.7,319.7L103.0,319.8L103.3,319.9L103.6,320.0L104.0,320.0L104.3,319.9L104.7,319.8L105.1,319.7L105.5,319.5L105.9,319.3L106.3,319.1L106.7,318.9L107.2,318.7L107.6,318.4L108.1,318.2L108.6,317.9L109.1,317.6L109.6,317.3L110.1,317.0L110.6,316.6L111.2,316.2L111.7,315.8L112.3,315.3L113.0,314.8L113.6,314.3L114.3,313.8L114.9,313.3L115.6,312.8L116.2,312.4L116.9,312.1L117.4,311.9L118.0,311.8L118.5,311.7L119.0,311.8L119.4,311.9L119.8,312.0L120.2,312.2L120.6,312.4L120.9,312.7L121.3,313.0L121.5,313.4L121.8,313.9L122.0,314.4L122.1,315.0L122.2,315.7L122.2,316.4L122.2,317.2L122.1,318.0L122.1,318.8L122.0,319.6L122.0,320.4L121.9,321.1L121.9,321.8L121.9,322.5L121.9,323.2L121.8,323.8L121.8,324.4L121.8,325.1L121.8,325.7L121.7,326.3L121.6,327.0L121.5,327.6L121.4,328.3L121.3,329.0L121.2,329.6L121.0,330.3L120.9,330.9L120.8,331.5L120.7,332.1L120.5,332.7L120.4,333.2L120.3,333.8L120.2,334.3L120.2,334.8L120.1,335.3L120.0,335.7L120.0,336.2L120.0,336.6L120.0,336.9L120.0,337.3L120.1,337.6L120.3,337.8L120.4,338.1L120.6,338.2L120.9,338.4L121.2,338.5L121.6,338.6L122.0,338.6L122.4,338.6L122.8,338.7L123.3,338.7L123.8,338.7L124.3,338.6L124.9,338.6L125.4,338.6L126.0,338.6L126.6,338.5L127.2,338.5L127.9,338.5L128.5,338.4L129.2,338.4L129.9,338.3L130.5,338.3L131.2,338.3L131.9,338.3L132.6,338.3L133.2,338.3L133.9,338.4L134.5,338.4L135.2,338.5L135.8,338.6L136.5,338.6L137.1,338.8L137.7,338.9L138.3,339.0L138.9,339.1L139.5,339.3L140.1,339.5L140.6,339.7L141.2,339.9L141.7,340.1L142.2,340.3L142.7,340.6L143.3,340.8L143.8,341.0L144.4,341.2L145.1,341.5L145.7,341.7L146.5,341.9L147.2,342.1L148.0,342.3L148.8,342.5L149.7,342.7L150.5,342.9L151.3,343.1L152.1,343.4L152.8,343.7L153.5,344.0L154.1,344.3L154.7,344.7L155.2,345.1L155.7,345.4L156.1,345.9L156.5,346.3L156.9,346.7L157.2,347.2L157.5,347.6L157.8,348.1L158.0,348.6L158.2,349.1L158.3,349.6L158.4,350.1L158.4,350.6L158.4,351.1L158.3,351.7L158.2,352.2L158.1,352.7L157.9,353.3L157.7,353.8L157.5,354.3L157.2,354.9L156.8,355.4L156.4,355.9L156.0,356.5L155.5,357.0L154.9,357.5L154.3,358.0L153.7,358.5L153.0,359.0L152.3,359.5L151.6,360.0L150.9,360.5L150.2,360.9L149.6,361.4L149.0,361.8L148.5,362.2L148.0,362.6L147.5,363.0L147.1,363.5L146.7,363.9L146.2,364.2L145.8,364.6L145.4,365.0L145.0,365.4L144.5,365.8L144.0,366.1L143.5,366.5L143.0,366.8L142.5,367.1L141.9,367.4L141.4,367.8L140.8,368.1L140.2,368.3L139.6,368.6L139.0,368.9L138.4,369.2L137.8,369.4L137.2,369.7L136.6,369.9L136.0,370.1L135.4,370.3L134.8,370.5L134.1,370.7L133.5,370.9L132.8,371.1L132.2,371.2L131.5,371.4L130.9,371.5L130.2,371.6L129.5,371.7L128.8,371.8L128.1,371.9L127.5,372.0L126.8,372.1L126.1,372.2L125.5,372.2L124.8,372.3L124.3,372.3L123.7,372.4L123.2,372.5L122.6,372.5L122.2,372.6L121.7,372.7L121.3,372.7L120.8,372.8L120.4,372.9L120.0,373.0L119.6,373.0L119.2,373.1L118.9,373.2L118.5,373.3L118.2,373.3L117.9,373.4L117.6,373.5L117.3,373.6L117.0,373.7L116.8,373.8L116.5,373.9L116.3,374.0L116.1,374.1L115.9,374.2L115.7,374.3L115.5,374.5L115.3,374.6L115.1,374.7L114.9,374.8L114.7,374.9L114.6,375.1L114.4,375.2L114.2,375.3L114.1,375.4L113.9,375.6L113.7,375.7L113.6,375.8L113.4,375.9L113.3,376.0L113.1,376.2L112.9,376.3L112.8,376.4L112.6,376.5L112.5,376.7L112.3,376.8L112.2,376.9L112.0,377.0L111.9,377.2L111.7,377.3L111.6,377.4L111.4,377.5L111.3,377.6L111.1,377.8L111.0,377.9L110.8,378.0L110.7,378.1L110.6,378.2L110.4,378.4L110.3,378.5L110.1,378.6L110.0,378.8L109.9,378.9L109.7,379.0L109.6,379.2L109.5,379.3L109.3,379.4L109.2,379.6L109.1,379.7L109.0,379.9L108.8,380.0L108.7,380.2L108.6,380.3L108.4,380.4L108.3,380.6L108.2,380.7L108.0,380.9L107.9,381.0L107.8,381.2L107.7,381.3L107.5,381.5L107.4,381.6L107.3,381.8L107.1,381.9L107.0,382.1L106.9,382.2L106.7,382.4L106.6,382.5L106.5,382.7L106.3,382.9L106.2,383.0L106.1,383.2L105.9,383.4L105.8,383.6L105.7,383.7L105.6,383.9L105.4,384.1L105.3,384.3L105.2,384.6L105.1,384.8L105.0,385.0L104.8,385.3L104.7,385.5L104.6,385.8L104.5,386.1L104.4,386.4L104.3,386.8L104.2,387.1L104.2,387.5L104.1,387.8L104.0,388.2L103.9,388.6L103.8,389.0L103.7,389.5L103.6,389.9L103.5,390.4L103.4,390.9L103.3,391.4L103.2,391.9L103.1,392.4L103.0,392.9L102.8,393.4L102.7,393.8L102.5,394.2L102.3,394.5L102.1,394.8L101.9,395.0L101.6,395.1L101.4,395.3L101.1,395.3L100.9,395.4L100.6,395.5L100.3,395.5L100.1,395.6L99.8,395.6L99.5,395.7L99.2,395.7L99.0,395.8L98.7,395.8L98.4,395.9L98.2,395.9L97.9,396.0L97.6,396.1L97.4,396.3L97.1,396.4L96.9,396.7L96.6,397.0L96.3,397.4L96.1,397.8L95.8,398.3L95.6,398.8L95.3,399.4L95.0,400.0L94.7,400.5L94.4,401.1L94.1,401.7L93.8,402.3L93.5,402.9L93.1,403.4L92.8,404.0L92.5,404.6L92.1,405.1L91.7,405.7L91.3,406.2L91.0,406.7L90.6,407.3L90.2,407.8L89.8,408.3L89.3,408.8L88.9,409.3L88.5,409.8L88.0,410.2L87.6,410.7L87.2,411.1L86.7,411.5L86.2,411.9L85.8,412.3L85.3,412.6L84.8,412.9L84.4,413.3L83.9,413.6L83.4,413.9L82.9,414.2L82.4,414.5L81.9,414.8L81.4,415.1L80.9,415.4L80.4,415.7L79.8,416.0L79.3,416.3L78.8,416.5L78.2,416.8L77.7,417.1L77.1,417.4L76.5,417.8L75.9,418.1L75.3,418.4L74.7,418.8L74.1,419.1L73.4,419.5L72.8,419.9L72.1,420.3L71.4,420.7L70.7,421.2L70.0,421.6L69.3,422.1L68.6,422.5L67.8,422.9L67.1,423.3L66.3,423.7L65.6,424.1L64.8,424.5L64.1,424.8L63.3,425.1L62.6,425.3L61.8,425.6L61.1,425.7L60.4,425.9L59.7,426.0L59.0,426.2L58.3,426.2L57.6,426.3L56.9,426.4L56.2,426.4L55.5,426.4L54.8,426.4L54.1,426.4L53.4,426.4L52.7,426.3L52.1,426.2L51.4,426.1L50.8,426.0L50.1,425.9L49.5,425.7L48.8,425.6L48.2,425.4L47.6,425.2L47.0,425.0L46.4,424.8L45.8,424.5L45.2,424.3L44.6,424.0L44.0,423.8L43.4,423.5L42.8,423.2L42.3,422.9L41.7,422.6L41.2,422.3L40.6,421.9L40.1,421.6L39.6,421.2L39.0,420.8L38.5,420.4L38.1,420.0L37.6,419.6L37.1,419.1L36.7,418.7L36.3,418.2L35.9,417.7L35.5,417.2L35.1,416.7L34.7,416.2L34.4,415.6L34.0,415.1L33.7,414.5L33.4,414.0L33.1,413.4L32.8,412.8L32.5,412.3L32.2,411.7L32.0,411.1L31.7,410.5L31.5,409.9L31.3,409.3L31.0,408.7L30.8,408.0L30.7,407.4L30.5,406.8L30.3,406.1L30.2,405.5L30.1,404.8L30.0,404.2L29.9,403.5L29.9,402.8L29.8,402.1L29.8,401.4L29.8,400.7L29.8,400.0L29.9,399.3L29.9,398.6L30.0,397.9L30.1,397.2L30.2,396.4L30.4,395.7L30.6,395.0L30.8,394.2L31.1,393.5L31.4,392.7L31.7,391.9L32.1,391.1L32.4,390.4L32.8,389.6L33.3,388.8L33.7,388.1L34.1,387.3L34.5,386.6L34.9,385.9L35.3,385.2L35.6,384.5L36.0,383.8L36.3,383.2L36.6,382.6L36.8,382.0L37.1,381.4L37.3,380.8L37.5,380.2L37.7,379.7L37.9,379.1L38.1,378.6L38.3,378.1L38.4,377.5L38.6,377.0L38.7,376.5L38.8,376.0L39.0,375.5L39.1,375.0L39.2,374.6L39.2,374.1L39.3,373.6L39.3,373.2L39.4,372.7L39.3,372.3L39.3,371.8L39.2,371.4L39.1,371.0L39.0,370.6L38.9,370.1L38.7,369.7L38.6,369.3L38.4,368.9Z"/>
<path id="vbc6" d="M18.1,371.1L17.7,370.6L17.3,370.0L17.0,369.4L16.6,368.9L16.3,368.3L16.0,367.7L15.7,367.1L15.4,366.5L15.2,365.9L15.0,365.3L14.7,364.7L14.5,364.1L14.3,363.5L14.1,362.8L14.0,362.2L13.8,361.6L13.7,361.0L13.5,360.3L13.4,359.7L13.3,359.1L13.2,358.4L13.1,357.8L13.0,357.2L13.0,356.5L13.0,355.9L13.0,355.3L13.0,354.6L13.0,354.0L13.1,353.4L13.2,352.7L13.3,352.1L13.4,351.5L13.5,350.9L13.7,350.2L13.9,349.6L14.1,349.0L14.3,348.4L14.5,347.8L14.7,347.2L15.0,346.6L15.2,346.0L15.5,345.4L15.8,344.9L16.1,344.3L16.4,343.7L16.7,343.1L17.0,342.6L17.4,342.0L17.7,341.5L18.1,341.0L18.5,340.4L18.9,339.9L19.3,339.4L19.8,338.9L20.2,338.4L20.7,337.9L21.2,337.4L21.7,337.0L22.2,336.5L22.8,336.1L23.3,335.7L23.9,335.3L24.5,334.9L25.1,334.5L25.7,334.1L26.3,333.7L27.0,333.4L27.7,333.1L28.4,332.8L29.2,332.5L30.0,332.2L30.8,332.0L31.6,331.8L32.4,331.6L33.3,331.4L34.1,331.3L35.0,331.1L35.8,331.0L36.7,330.9L37.5,330.7L38.3,330.6L39.0,330.4L39.8,330.3L40.5,330.1L41.2,330.0L41.8,329.8L42.4,329.6L43.0,329.5L43.6,329.3L44.2,329.1L44.7,328.9L45.2,328.7L45.8,328.5L46.3,328.3L46.8,328.1L47.3,327.9L47.8,327.7L48.2,327.5L48.7,327.3L49.1,327.0L49.5,326.8L49.9,326.6L50.3,326.3L50.7,326.0L51.0,325.8L51.3,325.5L51.6,325.2L51.9,324.8L52.2,324.5L52.4,324.1L52.7,323.7L52.9,323.4L53.1,323.0L53.4,322.6L53.6,322.3L53.9,321.9L54.2,321.6L54.5,321.3L54.9,321.0L55.2,320.7L55.6,320.5L56.0,320.3L56.4,320.1L56.9,320.0L57.4,319.9L58.0,319.9L58.6,320.0L59.3,320.1L60.0,320.3L60.7,320.6L61.4,320.8L62.2,321.1L62.9,321.4L63.6,321.6L64.2,321.9L64.9,322.1L65.5,322.3L66.1,322.5L66.7,322.7L67.3,322.9L67.9,323.2L68.5,323.4L69.1,323.7L69.7,323.9L70.3,324.2L70.8,324.5L71.4,324.8L72.0,325.1L72.6,325.4L73.2,325.8L73.7,326.1L74.3,326.5L74.8,326.8L75.4,327.2L75.9,327.5L76.4,327.9L76.9,328.2L77.4,328.4L77.8,328.7L78.2,328.9L78.6,329.0L78.9,329.0L79.2,329.1L79.5,329.0L79.8,329.0L80.0,328.9L80.3,328.8L80.6,328.7L80.8,328.6L81.1,328.5L81.3,328.4L81.6,328.3L81.8,328.2L82.1,328.1L82.4,328.1L82.6,328.0L82.9,327.9L83.1,327.8L83.4,327.7L83.7,327.6L83.9,327.6L84.2,327.5L84.5,327.4L84.7,327.3L85.0,327.3L85.3,327.2L85.5,327.1L85.8,327.1L86.1,327.0L86.3,326.9L86.6,326.7L86.8,326.5L87.0,326.3L87.3,326.0L87.5,325.7L87.7,325.3L87.9,324.8L88.2,324.3L88.4,323.7L88.6,323.2L88.8,322.6L89.1,322.1L89.3,321.5L89.6,321.0L89.9,320.4L90.1,319.8L90.4,319.1L90.7,318.4L91.0,317.5L91.3,316.5L91.6,315.4L91.9,314.2L92.2,312.9L92.6,311.4L92.9,309.9L93.3,308.5L93.8,307.0L94.2,305.7L94.7,304.4L95.1,303.3L95.6,302.3L96.1,301.5L96.6,300.7L97.1,300.0L97.7,299.4L98.2,298.8L98.7,298.3L99.3,297.9L99.8,297.5L100.3,297.2L100.9,296.9L101.4,296.7L102.0,296.5L102.5,296.4L103.0,296.4L103.5,296.3L104.1,296.4L104.6,296.5L105.1,296.7L105.5,296.9L106.0,297.1L106.5,297.4L106.9,297.8L107.3,298.2L107.8,298.7L108.2,299.2L108.5,299.8L108.9,300.4L109.2,301.2L109.5,301.9L109.8,302.7L110.0,303.6L110.3,304.5L110.5,305.3L110.7,306.2L110.9,307.1L111.1,307.9L111.3,308.6L111.5,309.3L111.8,309.9L112.0,310.5L112.3,311.1L112.5,311.6L112.8,312.1L113.0,312.6L113.2,313.1L113.4,313.7L113.6,314.2L113.8,314.8L114.0,315.4L114.2,316.0L114.3,316.7L114.4,317.3L114.5,317.9L114.6,318.6L114.7,319.2L114.8,319.8L114.9,320.4L115.0,321.0L115.2,321.5L115.3,322.0L115.4,322.5L115.5,323.0L115.7,323.5L115.8,323.9L115.9,324.3L116.1,324.7L116.3,325.1L116.5,325.4L116.7,325.6L117.0,325.9L117.2,326.0L117.6,326.2L117.9,326.3L118.3,326.3L118.6,326.4L119.1,326.4L119.5,326.3L120.0,326.3L120.4,326.2L120.9,326.2L121.4,326.1L122.0,326.0L122.5,325.9L123.1,325.8L123.7,325.6L124.3,325.5L124.9,325.3L125.5,325.2L126.2,325.0L126.8,324.9L127.5,324.8L128.1,324.6L128.8,324.6L129.4,324.5L130.0,324.4L130.6,324.4L131.1,324.5L131.6,324.5L132.1,324.7L132.5,324.9L132.8,325.2L133.0,325.6L133.1,326.0L133.2,326.5L133.2,327.0L133.2,327.6L133.2,328.1L133.2,328.7L133.1,329.2L133.1,329.8L133.0,330.3L133.0,330.8L132.9,331.4L132.9,331.9L132.9,332.4L132.9,332.9L132.8,333.3L132.8,333.8L132.7,334.3L132.7,334.8L132.7,335.3L132.6,335.7L132.6,336.2L132.5,336.7L132.5,337.1L132.4,337.6L132.3,338.0L132.2,338.5L132.2,339.0L132.1,339.4L132.0,339.9L131.9,340.3L131.8,340.7L131.7,341.2L131.7,341.6L131.7,341.9L131.7,342.3L131.7,342.6L131.9,343.0L132.0,343.3L132.2,343.5L132.5,343.8L132.8,344.0L133.1,344.2L133.5,344.4L133.9,344.7L134.3,344.9L134.7,345.0L135.2,345.2L135.7,345.4L136.1,345.6L136.6,345.8L137.2,346.0L137.7,346.2L138.3,346.4L138.9,346.6L139.5,346.8L140.2,347.0L140.9,347.2L141.7,347.4L142.5,347.6L143.3,347.8L144.1,348.0L144.9,348.2L145.6,348.4L146.3,348.7L146.8,349.0L147.3,349.4L147.7,349.7L148.0,350.1L148.2,350.5L148.4,350.9L148.5,351.3L148.6,351.8L148.6,352.2L148.5,352.7L148.4,353.1L148.3,353.6L148.0,354.1L147.6,354.5L147.2,355.0L146.6,355.5L146.0,356.0L145.3,356.5L144.7,356.9L144.0,357.4L143.3,357.8L142.7,358.2L142.2,358.7L141.6,359.1L141.1,359.5L140.6,359.9L140.1,360.2L139.6,360.6L139.1,361.0L138.5,361.3L138.0,361.7L137.4,362.0L136.8,362.3L136.3,362.7L135.7,363.0L135.1,363.3L134.5,363.6L133.9,363.9L133.4,364.1L132.8,364.4L132.3,364.7L131.9,364.9L131.4,365.2L130.9,365.4L130.5,365.7L130.1,365.9L129.7,366.2L129.4,366.4L129.1,366.6L128.9,366.9L128.7,367.1L128.5,367.4L128.4,367.7L128.4,367.9L128.5,368.2L128.5,368.5L128.7,368.9L128.9,369.2L129.1,369.5L129.4,369.9L129.7,370.3L130.0,370.6L130.3,371.0L130.6,371.4L131.0,371.9L131.4,372.3L131.8,372.7L132.2,373.2L132.6,373.7L133.1,374.1L133.5,374.6L134.0,375.1L134.4,375.7L134.8,376.2L135.3,376.7L135.7,377.2L136.1,377.8L136.5,378.3L136.8,378.9L137.2,379.4L137.5,380.0L137.9,380.5L138.2,381.1L138.5,381.6L138.8,382.2L139.0,382.7L139.3,383.3L139.5,383.8L139.7,384.4L139.9,384.9L140.0,385.5L140.2,386.0L140.3,386.6L140.5,387.1L140.7,387.7L140.8,388.3L141.1,388.9L141.3,389.6L141.6,390.3L141.9,391.0L142.2,391.7L142.6,392.5L142.9,393.3L143.3,394.0L143.6,394.8L143.9,395.6L144.1,396.3L144.3,397.1L144.5,397.8L144.6,398.5L144.6,399.1L144.6,399.7L144.6,400.4L144.5,400.9L144.4,401.5L144.3,402.0L144.1,402.6L143.9,403.1L143.7,403.5L143.4,404.0L143.1,404.4L142.8,404.8L142.4,405.2L142.0,405.5L141.6,405.8L141.1,406.1L140.6,406.3L140.1,406.5L139.5,406.7L139.0,406.8L138.4,406.9L137.7,407.0L137.1,407.0L136.4,407.0L135.7,407.0L134.9,406.9L134.2,406.8L133.4,406.6L132.6,406.4L131.8,406.1L130.9,405.9L130.1,405.6L129.4,405.4L128.6,405.2L127.9,405.0L127.2,404.8L126.6,404.7L125.9,404.5L125.3,404.4L124.8,404.4L124.2,404.3L123.6,404.2L123.1,404.1L122.5,404.0L121.9,403.9L121.4,403.7L120.8,403.6L120.2,403.4L119.6,403.2L119.0,403.0L118.4,402.7L117.8,402.5L117.3,402.2L116.7,401.9L116.1,401.6L115.5,401.3L114.9,401.0L114.4,400.7L113.8,400.3L113.2,400.0L112.7,399.7L112.1,399.3L111.6,398.9L111.0,398.5L110.5,398.2L110.0,397.7L109.5,397.3L108.9,396.9L108.4,396.5L107.9,396.0L107.4,395.5L106.9,395.0L106.4,394.6L105.9,394.1L105.4,393.6L105.0,393.1L104.5,392.7L104.1,392.2L103.7,391.8L103.3,391.4L103.0,391.1L102.6,390.7L102.2,390.4L101.9,390.1L101.6,389.8L101.3,389.5L101.0,389.3L100.7,389.0L100.4,388.7L100.1,388.5L99.8,388.3L99.5,388.1L99.3,387.9L99.0,387.7L98.8,387.5L98.5,387.4L98.3,387.2L98.0,387.1L97.8,387.0L97.6,386.9L97.4,386.8L97.2,386.7L96.9,386.6L96.7,386.5L96.5,386.4L96.3,386.4L96.1,386.3L95.9,386.3L95.7,386.2L95.5,386.1L95.3,386.1L95.1,386.0L94.9,386.0L94.7,385.9L94.5,385.9L94.3,385.8L94.1,385.8L93.9,385.8L93.7,385.7L93.5,385.7L93.3,385.6L93.1,385.6L93.0,385.5L92.8,385.5L92.6,385.5L92.4,385.4L92.2,385.4L92.0,385.3L91.8,385.3L91.6,385.2L91.5,385.2L91.3,385.2L91.1,385.1L90.9,385.1L90.7,385.1L90.5,385.0L90.3,385.0L90.1,385.0L90.0,385.0L89.8,384.9L89.6,384.9L89.4,384.9L89.2,384.9L89.0,384.9L88.8,384.9L88.6,384.8L88.4,384.8L88.2,384.8L88.1,384.8L87.9,384.8L87.7,384.8L87.5,384.8L87.3,384.8L87.1,384.8L86.9,384.7L86.7,384.7L86.5,384.7L86.3,384.7L86.1,384.7L85.9,384.7L85.7,384.7L85.5,384.7L85.3,384.7L85.1,384.7L84.9,384.7L84.7,384.7L84.4,384.7L84.2,384.7L84.0,384.7L83.8,384.7L83.6,384.7L83.3,384.7L83.1,384.7L82.9,384.8L82.6,384.8L82.4,384.9L82.1,384.9L81.9,385.0L81.6,385.1L81.3,385.1L81.0,385.3L80.7,385.4L80.4,385.5L80.1,385.6L79.7,385.8L79.4,385.9L79.0,386.1L78.7,386.3L78.3,386.5L77.9,386.7L77.5,386.9L77.1,387.1L76.6,387.3L76.2,387.5L75.7,387.8L75.3,388.0L74.8,388.2L74.3,388.4L73.9,388.6L73.5,388.7L73.1,388.8L72.8,388.8L72.4,388.8L72.2,388.7L71.9,388.6L71.7,388.4L71.4,388.3L71.2,388.1L71.0,387.9L70.8,387.7L70.6,387.6L70.4,387.4L70.2,387.2L70.0,387.0L69.8,386.8L69.6,386.7L69.3,386.5L69.1,386.3L68.9,386.2L68.6,386.0L68.3,385.9L68.0,385.9L67.6,385.9L67.2,385.9L66.7,385.9L66.1,386.0L65.6,386.2L65.0,386.3L64.4,386.4L63.7,386.6L63.1,386.7L62.4,386.8L61.8,386.9L61.1,387.0L60.5,387.1L59.8,387.2L59.2,387.3L58.5,387.4L57.9,387.4L57.2,387.5L56.5,387.5L55.9,387.5L55.2,387.6L54.6,387.6L53.9,387.5L53.3,387.5L52.6,387.5L52.0,387.4L51.4,387.4L50.7,387.3L50.1,387.2L49.6,387.1L49.0,387.0L48.4,386.8L47.8,386.7L47.3,386.5L46.7,386.3L46.2,386.1L45.7,385.9L45.1,385.7L44.6,385.5L44.0,385.3L43.5,385.1L42.9,384.9L42.4,384.6L41.8,384.4L41.2,384.2L40.7,383.9L40.1,383.7L39.5,383.4L38.9,383.2L38.3,382.9L37.7,382.7L37.0,382.4L36.3,382.1L35.7,381.9L34.9,381.6L34.2,381.3L33.4,381.1L32.7,380.8L31.9,380.5L31.1,380.2L30.3,379.9L29.5,379.6L28.7,379.3L27.9,379.0L27.2,378.6L26.4,378.2L25.7,377.9L25.0,377.5L24.3,377.1L23.7,376.6L23.1,376.2L22.5,375.7L21.9,375.2L21.4,374.8L20.9,374.3L20.4,373.8L19.9,373.3L19.4,372.7L19.0,372.2L18.5,371.7Z"/>
<mask id="vbm0" maskUnits="userSpaceOnUse" x="0" y="0" width="520" height="471"><rect x="0" y="0" width="520" height="471" fill="#fff"/>
<use href="#vbc1" fill="#000"/>
<use href="#vbc2" fill="#000"/>
<use href="#vbc3" fill="#000"/>
<use href="#vbc4" fill="#000"/>
<use href="#vbc5" fill="#000"/>
<use href="#vbc6" fill="#000"/>
</mask>
<mask id="vbm1" maskUnits="userSpaceOnUse" x="0" y="0" width="520" height="471"><rect x="0" y="0" width="520" height="471" fill="#fff"/>
<use href="#vbc0" fill="#000"/>
<use href="#vbc2" fill="#000"/>
<use href="#vbc3" fill="#000"/>
<use href="#vbc4" fill="#000"/>
<use href="#vbc5" fill="#000"/>
<use href="#vbc6" fill="#000"/>
</mask>
<mask id="vbm2" maskUnits="userSpaceOnUse" x="0" y="0" width="520" height="471"><rect x="0" y="0" width="520" height="471" fill="#fff"/>
<use href="#vbc0" fill="#000"/>
<use href="#vbc1" fill="#000"/>
<use href="#vbc3" fill="#000"/>
<use href="#vbc4" fill="#000"/>
<use href="#vbc5" fill="#000"/>
<use href="#vbc6" fill="#000"/>
</mask>
<mask id="vbm3" maskUnits="userSpaceOnUse" x="0" y="0" width="520" height="471"><rect x="0" y="0" width="520" height="471" fill="#fff"/>
<use href="#vbc0" fill="#000"/>
<use href="#vbc1" fill="#000"/>
<use href="#vbc2" fill="#000"/>
<use href="#vbc4" fill="#000"/>
<use href="#vbc5" fill="#000"/>
<use href="#vbc6" fill="#000"/>
</mask>
<mask id="vbm4" maskUnits="userSpaceOnUse" x="0" y="0" width="520" height="471"><rect x="0" y="0" width="520" height="471" fill="#fff"/>
<use href="#vbc0" fill="#000"/>
<use href="#vbc1" fill="#000"/>
<use href="#vbc2" fill="#000"/>
<use href="#vbc3" fill="#000"/>
<use href="#vbc5" fill="#000"/>
<use href="#vbc6" fill="#000"/>
</mask>
<mask id="vbm5" maskUnits="userSpaceOnUse" x="0" y="0" width="520" height="471"><rect x="0" y="0" width="520" height="471" fill="#fff"/>
<use href="#vbc0" fill="#000"/>
<use href="#vbc1" fill="#000"/>
<use href="#vbc2" fill="#000"/>
<use href="#vbc3" fill="#000"/>
<use href="#vbc4" fill="#000"/>
<use href="#vbc6" fill="#000"/>
</mask>
<mask id="vbm6" maskUnits="userSpaceOnUse" x="0" y="0" width="520" height="471"><rect x="0" y="0" width="520" height="471" fill="#fff"/>
<use href="#vbc0" fill="#000"/>
<use href="#vbc1" fill="#000"/>
<use href="#vbc2" fill="#000"/>
<use href="#vbc3" fill="#000"/>
<use href="#vbc4" fill="#000"/>
<use href="#vbc5" fill="#000"/>
</mask>
<clipPath id="vbk0"><use href="#vbc0"/></clipPath>
<clipPath id="vbk1"><use href="#vbc1"/></clipPath>
<clipPath id="vbk2"><use href="#vbc2"/></clipPath>
<clipPath id="vbk3"><use href="#vbc3"/></clipPath>
<clipPath id="vbk4"><use href="#vbc4"/></clipPath>
<clipPath id="vbk5"><use href="#vbc5"/></clipPath>
<clipPath id="vbk6"><use href="#vbc6"/></clipPath>
</defs>
<use href="#vbc0" fill="#6a51a3" fill-opacity="0.018"/>
<use href="#vbc1" fill="#6a51a3" fill-opacity="0.018"/>
<use href="#vbc2" fill="#6a51a3" fill-opacity="0.018"/>
<use href="#vbc3" fill="#6a51a3" fill-opacity="0.018"/>
<use href="#vbc4" fill="#6a51a3" fill-opacity="0.018"/>
<use href="#vbc5" fill="#6a51a3" fill-opacity="0.018"/>
<use href="#vbc6" fill="#6a51a3" fill-opacity="0.018"/>
<use href="#vbc0" fill="#faf9fc" mask="url(#vbm0)"/>
<use href="#vbc1" fill="#7b64b3" mask="url(#vbm1)"/>
<use href="#vbc2" fill="#fbfafd" mask="url(#vbm2)"/>
<use href="#vbc3" fill="#d4cce8" mask="url(#vbm3)"/>
<use href="#vbc4" fill="#e7e2f1" mask="url(#vbm4)"/>
<use href="#vbc5" fill="#3d2893" mask="url(#vbm5)"/>
<use href="#vbc6" fill="#c3b9de" mask="url(#vbm6)"/>
<g clip-path="url(#vbk6)"><g clip-path="url(#vbk5)"><g clip-path="url(#vbk4)"><g clip-path="url(#vbk3)"><g clip-path="url(#vbk2)"><g clip-path="url(#vbk1)"><g clip-path="url(#vbk0)"><rect x="33.599999999999994" y="301.2" width="120" height="120" fill="#ebe7f4"/></g></g></g></g></g></g></g>
<use href="#vbc0" fill="none" stroke="#151515" stroke-width="1.2"/>
<use href="#vbc1" fill="none" stroke="#151515" stroke-width="1.2"/>
<use href="#vbc2" fill="none" stroke="#151515" stroke-width="1.2"/>
<use href="#vbc3" fill="none" stroke="#151515" stroke-width="1.2"/>
<use href="#vbc4" fill="none" stroke="#151515" stroke-width="1.2"/>
<use href="#vbc5" fill="none" stroke="#151515" stroke-width="1.2"/>
<use href="#vbc6" fill="none" stroke="#151515" stroke-width="1.2"/>
<text x="10.40" y="15.70" font-size="10.8" text-anchor="middle" fill="#000" font-weight="bold">A</text>
<text x="188.70" y="16.00" font-size="10.8" text-anchor="middle" fill="#000" font-weight="bold">B</text>
<text x="194.50" y="127.80" font-size="10.8" text-anchor="middle" fill="#000" font-weight="bold">C</text>
<text x="96.60" y="61.30" font-size="7.05" text-anchor="middle" fill="#222">2011 - Early 2017</text>
<text x="45.80" y="75.20" font-size="4.95" text-anchor="middle" fill="#222">Tier1</text>
<text x="47.00" y="80.90" font-size="4.95" text-anchor="middle" fill="#222">DLBCL</text>
<text x="116.00" y="72.10" font-size="4.95" text-anchor="middle" fill="#222">Morin 2011</text>
<text x="114.50" y="83.60" font-size="4.95" text-anchor="middle" fill="#222">3 (8%)</text>
<text x="114.50" y="89.20" font-size="4.95" text-anchor="middle" fill="#222">orphans</text>
<text x="163.70" y="103.70" font-size="4.95" text-anchor="middle" fill="#222">Pasqualucci 2011</text>
<text x="160.00" y="127.90" font-size="4.95" text-anchor="middle" fill="#222">35 (7%)</text>
<text x="160.00" y="134.00" font-size="4.95" text-anchor="middle" fill="#222">orphans</text>
<text x="20.50" y="117.90" font-size="4.95" text-anchor="middle" fill="#222">Albuquerque</text>
<text x="20.20" y="123.70" font-size="4.95" text-anchor="middle" fill="#222">2017</text>
<text x="22.80" y="145.90" font-size="4.95" text-anchor="middle" fill="#222">5 (13%)</text>
<text x="23.30" y="151.10" font-size="4.95" text-anchor="middle" fill="#222">orphans</text>
<text x="93.50" y="150.50" font-size="4.95" text-anchor="middle" fill="#222">8 common</text>
<text x="93.50" y="156.00" font-size="4.95" text-anchor="middle" fill="#222">genes</text>
<text x="154.30" y="186.90" font-size="4.95" text-anchor="middle" fill="#222">24 (37%)</text>
<text x="154.50" y="192.90" font-size="4.95" text-anchor="middle" fill="#222">orphans</text>
<text x="42.50" y="202.50" font-size="4.95" text-anchor="middle" fill="#222">30 (39%)</text>
<text x="43.00" y="208.30" font-size="4.95" text-anchor="middle" fill="#222">orphans</text>
<text x="164.00" y="210.70" font-size="4.95" text-anchor="middle" fill="#222">Lohr 2012</text>
<text x="38.00" y="224.00" font-size="4.95" text-anchor="middle" fill="#222">Morin 2013</text>
<text x="101.70" y="222.50" font-size="4.9" text-anchor="middle" fill="#fde8e4">279 (87%)</text>
<text x="101.70" y="229.00" font-size="4.9" text-anchor="middle" fill="#fde8e4">orphans</text>
<text x="101.70" y="241.40" font-size="4.95" text-anchor="middle" fill="#222">Zhang 2013</text>
<text x="140.00" y="214.40" font-size="4.9" text-anchor="middle" fill="#222">count</text>
<defs><linearGradient id="gr" x1="0" y1="0" x2="0" y2="1"><stop offset="0" stop-color="#d7211e"/><stop offset="1" stop-color="#fff5f0"/></linearGradient><linearGradient id="gp" x1="0" y1="0" x2="0" y2="1"><stop offset="0" stop-color="#3d2893"/><stop offset="1" stop-color="#fbfafd"/></linearGradient><linearGradient id="gh" x1="0" y1="0" x2="0" y2="1"><stop offset="0" stop-color="#4a1486"/><stop offset="0.4" stop-color="#8a60b8"/><stop offset="1" stop-color="#fcfbfd"/></linearGradient></defs>
<rect x="134" y="216" width="3.4" height="19" fill="url(#gr)"/>
<text x="138.60" y="222.60" font-size="4.9" text-anchor="start" fill="#222">200</text>
<text x="138.60" y="229.00" font-size="4.9" text-anchor="start" fill="#222">100</text>
<text x="138.60" y="235.60" font-size="4.9" text-anchor="start" fill="#222">0</text>
<text x="96.40" y="269.00" font-size="7.05" text-anchor="middle" fill="#222">Late 2017 - 2021</text>
<text x="45.50" y="283.60" font-size="4.95" text-anchor="middle" fill="#222">Tier1</text>
<text x="46.50" y="289.20" font-size="4.95" text-anchor="middle" fill="#222">DLBCL</text>
<text x="141.90" y="280.80" font-size="4.95" text-anchor="middle" fill="#222">Reddy 2017</text>
<text x="141.80" y="286.50" font-size="4.95" text-anchor="middle" fill="#222">52 (35%)</text>
<text x="141.80" y="292.40" font-size="4.95" text-anchor="middle" fill="#222">orphans</text>
<text x="20.50" y="315.00" font-size="4.95" text-anchor="middle" fill="#222">Hubschmann</text>
<text x="20.50" y="321.50" font-size="4.95" text-anchor="middle" fill="#222">2021</text>
<text x="20.80" y="327.40" font-size="4.95" text-anchor="middle" fill="#222">23 orphans</text>
<text x="20.50" y="333.00" font-size="4.95" text-anchor="middle" fill="#222">(26%)</text>
<text x="178.80" y="326.80" font-size="4.95" text-anchor="middle" fill="#222">Schmitz</text>
<text x="179.00" y="332.80" font-size="4.95" text-anchor="middle" fill="#222">2018</text>
<text x="159.20" y="332.00" font-size="4.95" text-anchor="middle" fill="#222">1 (2%)</text>
<text x="159.50" y="338.40" font-size="4.95" text-anchor="middle" fill="#222">orphan</text>
<text x="95.00" y="359.80" font-size="4.95" text-anchor="middle" fill="#222">10 common</text>
<text x="94.70" y="365.70" font-size="4.95" text-anchor="middle" fill="#222">genes</text>
<text x="154.00" y="395.70" font-size="4.95" text-anchor="middle" fill="#222">16 (17%)</text>
<text x="154.00" y="402.60" font-size="4.95" text-anchor="middle" fill="#222">orphans</text>
<text x="140.50" y="421.30" font-size="4.95" text-anchor="middle" fill="#222">count</text>
<text x="164.30" y="421.50" font-size="4.95" text-anchor="middle" fill="#222">Chapuy 2018</text>
<rect x="134.1" y="423.3" width="3.1" height="17.7" fill="url(#gp)"/>
<text x="138.60" y="425.00" font-size="4.9" text-anchor="start" fill="#222">80</text>
<text x="138.60" y="429.80" font-size="4.9" text-anchor="start" fill="#222">60</text>
<text x="138.60" y="434.60" font-size="4.9" text-anchor="start" fill="#222">40</text>
<text x="138.60" y="439.20" font-size="4.9" text-anchor="start" fill="#222">20</text>
<text x="138.60" y="443.60" font-size="4.9" text-anchor="start" fill="#222">0</text>
<text x="101.20" y="428.50" font-size="4.95" text-anchor="middle" fill="#222">7 (9%)</text>
<text x="101.50" y="435.60" font-size="4.95" text-anchor="middle" fill="#222">orphans</text>
<text x="102.20" y="446.40" font-size="4.95" text-anchor="middle" fill="#222">Arthur 2018</text>
<text x="29.30" y="427.70" font-size="4.95" text-anchor="middle" fill="#222">Fan 2020</text>
<text x="29.00" y="433.60" font-size="4.95" text-anchor="middle" fill="#222">61 (61%)</text>
<text x="29.30" y="439.50" font-size="4.95" text-anchor="middle" fill="#222">orphans</text>
<line x1="199.1" y1="21.5" x2="199.1" y2="74.2" stroke="#222" stroke-width="1.1"/>
<line x1="196" y1="29.8" x2="199.1" y2="29.8" stroke="#222" stroke-width="0.9"/>
<text x="193.30" y="31.60" font-size="5.0" text-anchor="end" fill="#444">600</text>
<line x1="196" y1="44.2" x2="199.1" y2="44.2" stroke="#222" stroke-width="0.9"/>
<text x="193.30" y="46.00" font-size="5.0" text-anchor="end" fill="#444">400</text>
<line x1="196" y1="58.3" x2="199.1" y2="58.3" stroke="#222" stroke-width="0.9"/>
<text x="193.30" y="60.10" font-size="5.0" text-anchor="end" fill="#444">200</text>
<line x1="196" y1="65.1" x2="199.1" y2="65.1" stroke="#222" stroke-width="0.9"/>
<text x="193.30" y="66.90" font-size="5.0" text-anchor="end" fill="#444">100</text>
<polyline points="199.0,70.80 221.5,68.07 244.0,64.90 266.5,44.16 289.0,41.07 311.5,38.84 334.0,35.31 356.5,34.59 379.0,32.64 401.5,31.92 424.0,26.60 446.5,24.94" fill="none" stroke="#f0b457" stroke-width="1.05"/>
<polyline points="199.0,71.02 221.5,70.80 244.0,69.51 266.5,68.86 289.0,68.00 311.5,67.56 334.0,66.56 356.5,66.05 379.0,65.33 401.5,65.19 424.0,65.12 446.5,64.97" fill="none" stroke="#48a16c" stroke-width="1.05"/>
<line x1="198.7" y1="72.4" x2="449" y2="72.4" stroke="#111" stroke-width="1.1"/>
<line x1="199.0" y1="72.4" x2="199.0" y2="74.4" stroke="#111" stroke-width="0.8"/>
<line x1="221.5" y1="72.4" x2="221.5" y2="74.4" stroke="#111" stroke-width="0.8"/>
<line x1="244.0" y1="72.4" x2="244.0" y2="74.4" stroke="#111" stroke-width="0.8"/>
<line x1="266.5" y1="72.4" x2="266.5" y2="74.4" stroke="#111" stroke-width="0.8"/>
<line x1="289.0" y1="72.4" x2="289.0" y2="74.4" stroke="#111" stroke-width="0.8"/>
<line x1="311.5" y1="72.4" x2="311.5" y2="74.4" stroke="#111" stroke-width="0.8"/>
<line x1="334.0" y1="72.4" x2="334.0" y2="74.4" stroke="#111" stroke-width="0.8"/>
<line x1="356.5" y1="72.4" x2="356.5" y2="74.4" stroke="#111" stroke-width="0.8"/>
<line x1="379.0" y1="72.4" x2="379.0" y2="74.4" stroke="#111" stroke-width="0.8"/>
<line x1="401.5" y1="72.4" x2="401.5" y2="74.4" stroke="#111" stroke-width="0.8"/>
<line x1="424.0" y1="72.4" x2="424.0" y2="74.4" stroke="#111" stroke-width="0.8"/>
<line x1="446.5" y1="72.4" x2="446.5" y2="74.4" stroke="#111" stroke-width="0.8"/>
<text x="324.30" y="16.60" font-size="6.78" text-anchor="middle" fill="#222">Accumulation of DLBCL genes over time</text>
<text x="449.30" y="27.60" font-size="5.0" text-anchor="start" fill="#222">All DLBCL genes</text>
<text x="449.30" y="66.60" font-size="5.0" text-anchor="start" fill="#222">Tier 1 DLBCL genes</text>
<rect x="187.30" y="74.30" width="47.00" height="9.30" fill="#fbf6dc" stroke="rgba(60,50,10,0.55)" stroke-width="0.9"/>
<text x="210.80" y="81.00" font-size="5.0" text-anchor="middle" fill="#222">2011</text>
<rect x="234.30" y="74.30" width="15.70" height="9.30" fill="#f3eb9e" stroke="rgba(60,50,10,0.55)" stroke-width="0.9"/>
<text x="242.15" y="81.00" font-size="5.0" text-anchor="middle" fill="#222">2012</text>
<rect x="250.00" y="74.30" width="36.80" height="9.30" fill="#f7e31e" stroke="rgba(60,50,10,0.55)" stroke-width="0.9"/>
<text x="268.40" y="81.00" font-size="5.0" text-anchor="middle" fill="#222">2013</text>
<rect x="286.80" y="74.30" width="56.70" height="9.30" fill="#f07c1f" stroke="rgba(60,50,10,0.55)" stroke-width="0.9"/>
<text x="315.15" y="81.00" font-size="5.0" text-anchor="middle" fill="#222">2017</text>
<rect x="343.50" y="74.30" width="65.00" height="9.30" fill="#f07c1f" stroke="rgba(60,50,10,0.55)" stroke-width="0.9"/>
<text x="376.00" y="81.00" font-size="5.0" text-anchor="middle" fill="#222">2018</text>
<rect x="408.50" y="74.30" width="17.10" height="9.30" fill="#ec502b" stroke="rgba(60,50,10,0.55)" stroke-width="0.9"/>
<text x="417.05" y="81.00" font-size="5.0" text-anchor="middle" fill="#fff">2020</text>
<rect x="425.60" y="74.30" width="31.10" height="9.30" fill="#e31b1f" stroke="rgba(60,50,10,0.55)" stroke-width="0.9"/>
<text x="441.15" y="81.00" font-size="5.0" text-anchor="middle" fill="#fff">2021</text>
<rect x="187.30" y="83.60" width="17.30" height="8.60" fill="#79bd96" stroke="rgba(60,50,10,0.55)" stroke-width="0.9"/>
<text x="195.95" y="89.80" font-size="5.0" text-anchor="middle" fill="#222">Morin</text>
<rect x="187.30" y="92.20" width="17.30" height="8.70" fill="#4eb454" stroke="#24502a" stroke-width="0.9"/>
<text x="195.95" y="98.40" font-size="5.0" text-anchor="middle" fill="#1d3d1f">40</text>
<rect x="187.30" y="100.90" width="17.30" height="8.60" fill="#f5a726" stroke="#3f2a0e" stroke-width="0.9"/>
<text x="195.95" y="107.00" font-size="5.0" text-anchor="middle" fill="#3a2a10">43</text>
<rect x="204.60" y="83.60" width="29.70" height="8.60" fill="#e8663a" stroke="rgba(60,50,10,0.55)" stroke-width="0.9"/>
<text x="219.45" y="89.80" font-size="5.0" text-anchor="middle" fill="#222">Pasqualucci</text>
<rect x="204.60" y="92.20" width="29.70" height="8.70" fill="#4eb454" stroke="#24502a" stroke-width="0.9"/>
<text x="219.45" y="98.40" font-size="5.0" text-anchor="middle" fill="#1d3d1f">43</text>
<rect x="204.60" y="100.90" width="29.70" height="8.60" fill="#f5a726" stroke="#3f2a0e" stroke-width="0.9"/>
<text x="219.45" y="107.00" font-size="5.0" text-anchor="middle" fill="#3a2a10">81</text>
<rect x="234.30" y="83.60" width="15.70" height="8.60" fill="#fdf8e6" stroke="rgba(60,50,10,0.55)" stroke-width="0.9"/>
<text x="242.15" y="89.80" font-size="5.0" text-anchor="middle" fill="#222">Lohr</text>
<rect x="234.30" y="92.20" width="15.70" height="8.70" fill="#4eb454" stroke="#24502a" stroke-width="0.9"/>
<text x="242.15" y="98.40" font-size="5.0" text-anchor="middle" fill="#1d3d1f">61</text>
<rect x="234.30" y="100.90" width="15.70" height="8.60" fill="#f5a726" stroke="#3f2a0e" stroke-width="0.9"/>
<text x="242.15" y="107.00" font-size="5.0" text-anchor="middle" fill="#3a2a10">125</text>
<rect x="250.00" y="83.60" width="19.30" height="8.60" fill="#8ccae0" stroke="rgba(60,50,10,0.55)" stroke-width="0.9"/>
<text x="259.65" y="89.80" font-size="5.0" text-anchor="middle" fill="#222">Zhang</text>
<rect x="250.00" y="92.20" width="19.30" height="8.70" fill="#4eb454" stroke="#24502a" stroke-width="0.9"/>
<text x="259.65" y="98.40" font-size="5.0" text-anchor="middle" fill="#1d3d1f">70</text>
<rect x="250.00" y="100.90" width="19.30" height="8.60" fill="#f5a726" stroke="#3f2a0e" stroke-width="0.9"/>
<text x="259.65" y="107.00" font-size="5.0" text-anchor="middle" fill="#3a2a10">413</text>
<rect x="269.30" y="83.60" width="17.50" height="8.60" fill="#d3cf8a" stroke="rgba(60,50,10,0.55)" stroke-width="0.9"/>
<text x="278.05" y="89.80" font-size="5.0" text-anchor="middle" fill="#222">Morin</text>
<rect x="269.30" y="92.20" width="17.50" height="8.70" fill="#4eb454" stroke="#24502a" stroke-width="0.9"/>
<text x="278.05" y="98.40" font-size="5.0" text-anchor="middle" fill="#1d3d1f">82</text>
<rect x="269.30" y="100.90" width="17.50" height="8.60" fill="#f5a726" stroke="#3f2a0e" stroke-width="0.9"/>
<text x="278.05" y="107.00" font-size="5.0" text-anchor="middle" fill="#3a2a10">456</text>
<rect x="286.80" y="83.60" width="34.10" height="8.60" fill="#90bf6e" stroke="rgba(60,50,10,0.55)" stroke-width="0.9"/>
<text x="303.85" y="89.80" font-size="5.0" text-anchor="middle" fill="#222">Albuquerque</text>
<rect x="286.80" y="92.20" width="34.10" height="8.70" fill="#4eb454" stroke="#24502a" stroke-width="0.9"/>
<text x="303.85" y="98.40" font-size="5.0" text-anchor="middle" fill="#1d3d1f">88</text>
<rect x="286.80" y="100.90" width="34.10" height="8.60" fill="#f5a726" stroke="#3f2a0e" stroke-width="0.9"/>
<text x="303.85" y="107.00" font-size="5.0" text-anchor="middle" fill="#3a2a10">487</text>
<rect x="320.90" y="83.60" width="22.60" height="8.60" fill="#93afc9" stroke="rgba(60,50,10,0.55)" stroke-width="0.9"/>
<text x="332.20" y="89.80" font-size="5.0" text-anchor="middle" fill="#222">Reddy</text>
<rect x="320.90" y="92.20" width="22.60" height="8.70" fill="#4eb454" stroke="#24502a" stroke-width="0.9"/>
<text x="332.20" y="98.40" font-size="5.0" text-anchor="middle" fill="#1d3d1f">102</text>
<rect x="320.90" y="100.90" width="22.60" height="8.60" fill="#f5a726" stroke="#3f2a0e" stroke-width="0.9"/>
<text x="332.20" y="107.00" font-size="5.0" text-anchor="middle" fill="#3a2a10">536</text>
<rect x="343.50" y="83.60" width="23.30" height="8.60" fill="#ddd7c9" stroke="rgba(60,50,10,0.55)" stroke-width="0.9"/>
<text x="355.15" y="89.80" font-size="5.0" text-anchor="middle" fill="#222">Schmitz</text>
<rect x="343.50" y="92.20" width="23.30" height="8.70" fill="#4eb454" stroke="#24502a" stroke-width="0.9"/>
<text x="355.15" y="98.40" font-size="5.0" text-anchor="middle" fill="#1d3d1f">109</text>
<rect x="343.50" y="100.90" width="23.30" height="8.60" fill="#f5a726" stroke="#3f2a0e" stroke-width="0.9"/>
<text x="355.15" y="107.00" font-size="5.0" text-anchor="middle" fill="#3a2a10">546</text>
<rect x="366.80" y="83.60" width="22.50" height="8.60" fill="#f2f0aa" stroke="rgba(60,50,10,0.55)" stroke-width="0.9"/>
<text x="378.05" y="89.80" font-size="5.0" text-anchor="middle" fill="#222">Chapuy</text>
<rect x="366.80" y="92.20" width="22.50" height="8.70" fill="#4eb454" stroke="#24502a" stroke-width="0.9"/>
<text x="378.05" y="98.40" font-size="5.0" text-anchor="middle" fill="#1d3d1f">119</text>
<rect x="366.80" y="100.90" width="22.50" height="8.60" fill="#f5a726" stroke="#3f2a0e" stroke-width="0.9"/>
<text x="378.05" y="107.00" font-size="5.0" text-anchor="middle" fill="#3a2a10">573</text>
<rect x="389.30" y="83.60" width="19.20" height="8.60" fill="#d26b6f" stroke="rgba(60,50,10,0.55)" stroke-width="0.9"/>
<text x="398.90" y="89.80" font-size="5.0" text-anchor="middle" fill="#fbe9e9">Arthur</text>
<rect x="389.30" y="92.20" width="19.20" height="8.70" fill="#4eb454" stroke="#24502a" stroke-width="0.9"/>
<text x="398.90" y="98.40" font-size="5.0" text-anchor="middle" fill="#1d3d1f">121</text>
<rect x="389.30" y="100.90" width="19.20" height="8.60" fill="#f5a726" stroke="#3f2a0e" stroke-width="0.9"/>
<text x="398.90" y="107.00" font-size="5.0" text-anchor="middle" fill="#3a2a10">583</text>
<rect x="408.50" y="83.60" width="17.10" height="8.60" fill="#f5b58e" stroke="rgba(60,50,10,0.55)" stroke-width="0.9"/>
<text x="417.05" y="89.80" font-size="5.0" text-anchor="middle" fill="#222">Fan</text>
<rect x="408.50" y="92.20" width="17.10" height="8.70" fill="#4eb454" stroke="#24502a" stroke-width="0.9"/>
<text x="417.05" y="98.40" font-size="5.0" text-anchor="middle" fill="#1d3d1f">122</text>
<rect x="408.50" y="100.90" width="17.10" height="8.60" fill="#f5a726" stroke="#3f2a0e" stroke-width="0.9"/>
<text x="417.05" y="107.00" font-size="5.0" text-anchor="middle" fill="#3a2a10">657</text>
<rect x="425.60" y="83.60" width="31.10" height="8.60" fill="#fbdcc9" stroke="rgba(60,50,10,0.55)" stroke-width="0.9"/>
<text x="441.15" y="89.80" font-size="5.0" text-anchor="middle" fill="#222">Hubschmann</text>
<rect x="425.60" y="92.20" width="31.10" height="8.70" fill="#4eb454" stroke="#24502a" stroke-width="0.9"/>
<text x="441.15" y="98.40" font-size="5.0" text-anchor="middle" fill="#1d3d1f">124</text>
<rect x="425.60" y="100.90" width="31.10" height="8.60" fill="#f5a726" stroke="#3f2a0e" stroke-width="0.9"/>
<text x="441.15" y="107.00" font-size="5.0" text-anchor="middle" fill="#3a2a10">680</text>
<rect x="187.30" y="74.30" width="269.40" height="35.20" fill="none" stroke="#555" stroke-width="0.9"/>
<text x="460.20" y="80.70" font-size="5.0" text-anchor="start" fill="#222">Year</text>
<text x="460.20" y="89.60" font-size="5.0" text-anchor="start" fill="#222">Study</text>
<text x="460.20" y="98.30" font-size="5.0" text-anchor="start" fill="#222">Tier 1 DLBCL genes</text>
<text x="460.20" y="107.00" font-size="5.0" text-anchor="start" fill="#222">All DLBCL genes</text>
<rect x="202.4" y="134.0" width="233.76" height="329.76" fill="#fff" stroke="#cfcfcf" stroke-width="0.7"/>
<g fill="#e2def0"><rect x="202.40" y="134.00" width="19.98" height="18.77"/><rect x="221.88" y="134.00" width="19.98" height="13.41"/><rect x="221.88" y="150.09" width="19.98" height="5.36"/><rect x="221.88" y="174.22" width="19.98" height="8.04"/><rect x="221.88" y="187.62" width="19.98" height="2.68"/><rect x="221.88" y="192.98" width="19.98" height="5.36"/><rect x="221.88" y="209.07" width="19.98" height="2.68"/><rect x="221.88" y="222.47" width="19.98" height="8.04"/><rect x="221.88" y="260.01" width="19.98" height="2.68"/><rect x="241.36" y="134.00" width="19.98" height="13.41"/><rect x="241.36" y="168.85" width="19.98" height="5.36"/><rect x="241.36" y="187.62" width="19.98" height="40.22"/><rect x="241.36" y="260.01" width="19.98" height="5.36"/><rect x="260.84" y="134.00" width="19.98" height="13.41"/><rect x="260.84" y="150.09" width="19.98" height="2.68"/><rect x="260.84" y="174.22" width="19.98" height="8.04"/><rect x="260.84" y="187.62" width="19.98" height="21.45"/><rect x="260.84" y="227.84" width="19.98" height="13.41"/><rect x="260.84" y="260.01" width="19.98" height="2.68"/><rect x="260.84" y="276.09" width="19.98" height="8.04"/><rect x="280.32" y="134.00" width="19.98" height="13.41"/><rect x="280.32" y="150.09" width="19.98" height="2.68"/><rect x="280.32" y="174.22" width="19.98" height="2.68"/><rect x="280.32" y="187.62" width="19.98" height="32.17"/><rect x="280.32" y="222.47" width="19.98" height="2.68"/><rect x="280.32" y="227.84" width="19.98" height="10.72"/><rect x="280.32" y="241.24" width="19.98" height="10.72"/><rect x="280.32" y="260.01" width="19.98" height="2.68"/><rect x="280.32" y="276.09" width="19.98" height="2.68"/><rect x="280.32" y="284.14" width="19.98" height="8.04"/><rect x="280.32" y="316.31" width="19.98" height="5.36"/><rect x="299.80" y="136.68" width="19.98" height="13.41"/><rect x="299.80" y="176.90" width="19.98" height="2.68"/><rect x="299.80" y="182.26" width="19.98" height="2.68"/><rect x="299.80" y="187.62" width="19.98" height="13.41"/><rect x="299.80" y="209.07" width="19.98" height="8.04"/><rect x="299.80" y="222.47" width="19.98" height="5.36"/><rect x="299.80" y="251.96" width="19.98" height="2.68"/><rect x="299.80" y="260.01" width="19.98" height="2.68"/><rect x="299.80" y="294.86" width="19.98" height="10.72"/><rect x="299.80" y="313.63" width="19.98" height="2.68"/><rect x="299.80" y="321.67" width="19.98" height="2.68"/><rect x="299.80" y="343.12" width="19.98" height="2.68"/><rect x="319.28" y="134.00" width="19.98" height="24.13"/><rect x="319.28" y="163.49" width="19.98" height="2.68"/><rect x="319.28" y="168.85" width="19.98" height="32.17"/><rect x="319.28" y="203.71" width="19.98" height="61.66"/><rect x="319.28" y="276.09" width="19.98" height="5.36"/><rect x="319.28" y="284.14" width="19.98" height="5.36"/><rect x="319.28" y="294.86" width="19.98" height="5.36"/><rect x="319.28" y="305.58" width="19.98" height="5.36"/><rect x="319.28" y="313.63" width="19.98" height="2.68"/><rect x="319.28" y="318.99" width="19.98" height="16.09"/><rect x="319.28" y="343.12" width="19.98" height="21.45"/><rect x="319.28" y="369.93" width="19.98" height="10.72"/><rect x="338.76" y="134.00" width="19.98" height="10.72"/><rect x="338.76" y="150.09" width="19.98" height="5.36"/><rect x="338.76" y="174.22" width="19.98" height="5.36"/><rect x="338.76" y="182.26" width="19.98" height="2.68"/><rect x="338.76" y="187.62" width="19.98" height="8.04"/><rect x="338.76" y="201.03" width="19.98" height="13.41"/><rect x="338.76" y="217.11" width="19.98" height="8.04"/><rect x="338.76" y="227.84" width="19.98" height="10.72"/><rect x="338.76" y="241.24" width="19.98" height="8.04"/><rect x="338.76" y="251.96" width="19.98" height="2.68"/><rect x="338.76" y="260.01" width="19.98" height="10.72"/><rect x="338.76" y="273.41" width="19.98" height="2.68"/><rect x="338.76" y="284.14" width="19.98" height="5.36"/><rect x="338.76" y="292.18" width="19.98" height="16.09"/><rect x="338.76" y="310.95" width="19.98" height="5.36"/><rect x="338.76" y="318.99" width="19.98" height="2.68"/><rect x="338.76" y="324.35" width="19.98" height="2.68"/><rect x="338.76" y="335.08" width="19.98" height="5.36"/><rect x="338.76" y="345.80" width="19.98" height="2.68"/><rect x="338.76" y="364.57" width="19.98" height="2.68"/><rect x="338.76" y="369.93" width="19.98" height="10.72"/><rect x="338.76" y="396.74" width="19.98" height="2.68"/><rect x="338.76" y="404.78" width="19.98" height="5.36"/><rect x="358.24" y="134.00" width="19.98" height="24.13"/><rect x="358.24" y="168.85" width="19.98" height="8.04"/><rect x="358.24" y="182.26" width="19.98" height="21.45"/><rect x="358.24" y="206.39" width="19.98" height="10.72"/><rect x="358.24" y="219.79" width="19.98" height="16.09"/><rect x="358.24" y="238.56" width="19.98" height="16.09"/><rect x="358.24" y="262.69" width="19.98" height="2.68"/><rect x="358.24" y="270.73" width="19.98" height="13.41"/><rect x="358.24" y="292.18" width="19.98" height="18.77"/><rect x="358.24" y="327.03" width="19.98" height="2.68"/><rect x="358.24" y="335.08" width="19.98" height="2.68"/><rect x="358.24" y="340.44" width="19.98" height="8.04"/><rect x="358.24" y="351.16" width="19.98" height="2.68"/><rect x="358.24" y="364.57" width="19.98" height="8.04"/><rect x="358.24" y="380.65" width="19.98" height="2.68"/><rect x="358.24" y="404.78" width="19.98" height="2.68"/><rect x="358.24" y="410.14" width="19.98" height="2.68"/><rect x="377.72" y="134.00" width="19.98" height="21.45"/><rect x="377.72" y="158.13" width="19.98" height="5.36"/><rect x="377.72" y="166.17" width="19.98" height="2.68"/><rect x="377.72" y="176.90" width="19.98" height="24.13"/><rect x="377.72" y="203.71" width="19.98" height="5.36"/><rect x="377.72" y="211.75" width="19.98" height="24.13"/><rect x="377.72" y="238.56" width="19.98" height="24.13"/><rect x="377.72" y="265.37" width="19.98" height="2.68"/><rect x="377.72" y="276.09" width="19.98" height="10.72"/><rect x="377.72" y="289.50" width="19.98" height="2.68"/><rect x="377.72" y="313.63" width="19.98" height="2.68"/><rect x="377.72" y="321.67" width="19.98" height="2.68"/><rect x="377.72" y="327.03" width="19.98" height="2.68"/><rect x="377.72" y="343.12" width="19.98" height="2.68"/><rect x="377.72" y="351.16" width="19.98" height="5.36"/><rect x="377.72" y="361.88" width="19.98" height="2.68"/><rect x="377.72" y="369.93" width="19.98" height="2.68"/><rect x="377.72" y="383.33" width="19.98" height="2.68"/><rect x="377.72" y="391.38" width="19.98" height="2.68"/><rect x="377.72" y="396.74" width="19.98" height="2.68"/><rect x="377.72" y="407.46" width="19.98" height="2.68"/><rect x="377.72" y="420.87" width="19.98" height="2.68"/><rect x="377.72" y="428.91" width="19.98" height="2.68"/><rect x="377.72" y="436.95" width="19.98" height="2.68"/><rect x="377.72" y="445.00" width="19.98" height="2.68"/><rect x="397.20" y="134.00" width="19.98" height="16.09"/><rect x="397.20" y="155.45" width="19.98" height="2.68"/><rect x="397.20" y="168.85" width="19.98" height="2.68"/><rect x="397.20" y="174.22" width="19.98" height="16.09"/><rect x="397.20" y="195.66" width="19.98" height="2.68"/><rect x="397.20" y="203.71" width="19.98" height="2.68"/><rect x="397.20" y="219.79" width="19.98" height="2.68"/><rect x="397.20" y="225.15" width="19.98" height="2.68"/><rect x="397.20" y="230.52" width="19.98" height="2.68"/><rect x="397.20" y="246.60" width="19.98" height="2.68"/><rect x="397.20" y="254.64" width="19.98" height="2.68"/><rect x="397.20" y="260.01" width="19.98" height="5.36"/><rect x="397.20" y="268.05" width="19.98" height="2.68"/><rect x="397.20" y="289.50" width="19.98" height="2.68"/><rect x="397.20" y="294.86" width="19.98" height="5.36"/><rect x="397.20" y="313.63" width="19.98" height="2.68"/><rect x="397.20" y="327.03" width="19.98" height="2.68"/><rect x="397.20" y="351.16" width="19.98" height="2.68"/><rect x="397.20" y="380.65" width="19.98" height="5.36"/><rect x="397.20" y="391.38" width="19.98" height="2.68"/><rect x="397.20" y="396.74" width="19.98" height="2.68"/><rect x="397.20" y="410.14" width="19.98" height="2.68"/><rect x="416.68" y="134.00" width="19.48" height="26.81"/><rect x="416.68" y="163.49" width="19.48" height="2.68"/><rect x="416.68" y="168.85" width="19.48" height="8.04"/><rect x="416.68" y="182.26" width="19.48" height="10.72"/><rect x="416.68" y="195.66" width="19.48" height="5.36"/><rect x="416.68" y="203.71" width="19.48" height="2.68"/><rect x="416.68" y="209.07" width="19.48" height="2.68"/><rect x="416.68" y="222.47" width="19.48" height="18.77"/><rect x="416.68" y="251.96" width="19.48" height="13.41"/><rect x="416.68" y="270.73" width="19.48" height="2.68"/><rect x="416.68" y="284.14" width="19.48" height="2.68"/><rect x="416.68" y="294.86" width="19.48" height="10.72"/><rect x="416.68" y="310.95" width="19.48" height="5.36"/><rect x="416.68" y="324.35" width="19.48" height="2.68"/><rect x="416.68" y="329.71" width="19.48" height="2.68"/><rect x="416.68" y="343.12" width="19.48" height="8.04"/><rect x="416.68" y="356.52" width="19.48" height="2.68"/><rect x="416.68" y="364.57" width="19.48" height="2.68"/><rect x="416.68" y="369.93" width="19.48" height="5.36"/><rect x="416.68" y="394.06" width="19.48" height="2.68"/><rect x="416.68" y="404.78" width="19.48" height="2.68"/><rect x="416.68" y="445.00" width="19.48" height="5.36"/><rect x="416.68" y="453.04" width="19.48" height="5.36"/></g>
<rect x="202.40" y="187.62" width="19.48" height="77.75" fill="#62ad85"/>
<rect x="221.88" y="265.37" width="19.48" height="8.04" fill="#e8662e"/>
<rect x="241.36" y="273.41" width="19.48" height="40.22" fill="#ede7a9"/>
<rect x="260.84" y="313.63" width="19.48" height="32.17" fill="#86c8c8"/>
<rect x="280.32" y="345.80" width="19.48" height="24.13" fill="#c6c95c"/>
<rect x="299.80" y="369.93" width="19.48" height="10.72" fill="#8cb466"/>
<rect x="319.28" y="380.65" width="19.48" height="32.17" fill="#6e9ca2"/>
<rect x="338.76" y="412.82" width="19.48" height="10.72" fill="#cbbb9a"/>
<rect x="358.24" y="423.55" width="19.48" height="26.81" fill="#e3e278"/>
<rect x="377.72" y="450.36" width="19.48" height="5.36" fill="#cc4a3e"/>
<rect x="397.20" y="455.72" width="19.48" height="2.68" fill="#e6833f"/>
<rect x="416.68" y="458.40" width="19.48" height="5.36" fill="#f7c29f"/>
<rect x="440.1" y="134.00" width="6.6" height="2.73" fill="#4a1486"/>
<rect x="440.1" y="136.68" width="6.6" height="2.73" fill="#4a1486"/>
<rect x="440.1" y="139.36" width="6.6" height="2.73" fill="#562390"/>
<rect x="440.1" y="142.04" width="6.6" height="2.73" fill="#562390"/>
<rect x="440.1" y="144.72" width="6.6" height="2.73" fill="#61329b"/>
<rect x="440.1" y="147.41" width="6.6" height="2.73" fill="#a384cc"/>
<rect x="440.1" y="150.09" width="6.6" height="2.73" fill="#8862b9"/>
<rect x="440.1" y="152.77" width="6.6" height="2.73" fill="#bca5da"/>
<rect x="440.1" y="155.45" width="6.6" height="2.73" fill="#a384cc"/>
<rect x="440.1" y="158.13" width="6.6" height="2.73" fill="#dfd4ed"/>
<rect x="440.1" y="160.81" width="6.6" height="2.73" fill="#f2edf7"/>
<rect x="440.1" y="163.49" width="6.6" height="2.73" fill="#f2edf7"/>
<rect x="440.1" y="166.17" width="6.6" height="2.73" fill="#eae3f3"/>
<rect x="440.1" y="168.85" width="6.6" height="2.73" fill="#bca5da"/>
<rect x="440.1" y="171.53" width="6.6" height="2.73" fill="#bca5da"/>
<rect x="440.1" y="174.22" width="6.6" height="2.73" fill="#9573c2"/>
<rect x="440.1" y="176.90" width="6.6" height="2.73" fill="#8862b9"/>
<rect x="440.1" y="179.58" width="6.6" height="2.73" fill="#af94d2"/>
<rect x="440.1" y="182.26" width="6.6" height="2.73" fill="#9573c2"/>
<rect x="440.1" y="184.94" width="6.6" height="2.73" fill="#bca5da"/>
<rect x="440.1" y="187.62" width="6.6" height="2.73" fill="#61329b"/>
<rect x="440.1" y="190.30" width="6.6" height="2.73" fill="#8862b9"/>
<rect x="440.1" y="192.98" width="6.6" height="2.73" fill="#7a51af"/>
<rect x="440.1" y="195.66" width="6.6" height="2.73" fill="#9573c2"/>
<rect x="440.1" y="198.34" width="6.6" height="2.73" fill="#a384cc"/>
<rect x="440.1" y="201.03" width="6.6" height="2.73" fill="#a384cc"/>
<rect x="440.1" y="203.71" width="6.6" height="2.73" fill="#8862b9"/>
<rect x="440.1" y="206.39" width="6.6" height="2.73" fill="#9573c2"/>
<rect x="440.1" y="209.07" width="6.6" height="2.73" fill="#61329b"/>
<rect x="440.1" y="211.75" width="6.6" height="2.73" fill="#9573c2"/>
<rect x="440.1" y="214.43" width="6.6" height="2.73" fill="#a384cc"/>
<rect x="440.1" y="217.11" width="6.6" height="2.73" fill="#a384cc"/>
<rect x="440.1" y="219.79" width="6.6" height="2.73" fill="#9573c2"/>
<rect x="440.1" y="222.47" width="6.6" height="2.73" fill="#9573c2"/>
<rect x="440.1" y="225.15" width="6.6" height="2.73" fill="#a384cc"/>
<rect x="440.1" y="227.84" width="6.6" height="2.73" fill="#a384cc"/>
<rect x="440.1" y="230.52" width="6.6" height="2.73" fill="#8862b9"/>
<rect x="440.1" y="233.20" width="6.6" height="2.73" fill="#7a51af"/>
<rect x="440.1" y="235.88" width="6.6" height="2.73" fill="#9573c2"/>
<rect x="440.1" y="238.56" width="6.6" height="2.73" fill="#a384cc"/>
<rect x="440.1" y="241.24" width="6.6" height="2.73" fill="#af94d2"/>
<rect x="440.1" y="243.92" width="6.6" height="2.73" fill="#a384cc"/>
<rect x="440.1" y="246.60" width="6.6" height="2.73" fill="#af94d2"/>
<rect x="440.1" y="249.28" width="6.6" height="2.73" fill="#af94d2"/>
<rect x="440.1" y="251.96" width="6.6" height="2.73" fill="#bca5da"/>
<rect x="440.1" y="254.64" width="6.6" height="2.73" fill="#bca5da"/>
<rect x="440.1" y="257.33" width="6.6" height="2.73" fill="#af94d2"/>
<rect x="440.1" y="260.01" width="6.6" height="2.73" fill="#4a1486"/>
<rect x="440.1" y="262.69" width="6.6" height="2.73" fill="#a384cc"/>
<rect x="440.1" y="265.37" width="6.6" height="2.73" fill="#eae3f3"/>
<rect x="440.1" y="268.05" width="6.6" height="2.73" fill="#f2edf7"/>
<rect x="440.1" y="270.73" width="6.6" height="2.73" fill="#eae3f3"/>
<rect x="440.1" y="273.41" width="6.6" height="2.73" fill="#d4c4e7"/>
<rect x="440.1" y="276.09" width="6.6" height="2.73" fill="#bca5da"/>
<rect x="440.1" y="278.77" width="6.6" height="2.73" fill="#c9b6e1"/>
<rect x="440.1" y="281.46" width="6.6" height="2.73" fill="#dfd4ed"/>
<rect x="440.1" y="284.14" width="6.6" height="2.73" fill="#c9b6e1"/>
<rect x="440.1" y="286.82" width="6.6" height="2.73" fill="#9573c2"/>
<rect x="440.1" y="289.50" width="6.6" height="2.73" fill="#d4c4e7"/>
<rect x="440.1" y="292.18" width="6.6" height="2.73" fill="#dfd4ed"/>
<rect x="440.1" y="294.86" width="6.6" height="2.73" fill="#af94d2"/>
<rect x="440.1" y="297.54" width="6.6" height="2.73" fill="#a384cc"/>
<rect x="440.1" y="300.22" width="6.6" height="2.73" fill="#a384cc"/>
<rect x="440.1" y="302.90" width="6.6" height="2.73" fill="#af94d2"/>
<rect x="440.1" y="305.58" width="6.6" height="2.73" fill="#c9b6e1"/>
<rect x="440.1" y="308.26" width="6.6" height="2.73" fill="#d4c4e7"/>
<rect x="440.1" y="310.95" width="6.6" height="2.73" fill="#bca5da"/>
<rect x="440.1" y="313.63" width="6.6" height="2.73" fill="#9573c2"/>
<rect x="440.1" y="316.31" width="6.6" height="2.73" fill="#dfd4ed"/>
<rect x="440.1" y="318.99" width="6.6" height="2.73" fill="#c9b6e1"/>
<rect x="440.1" y="321.67" width="6.6" height="2.73" fill="#c9b6e1"/>
<rect x="440.1" y="324.35" width="6.6" height="2.73" fill="#c9b6e1"/>
<rect x="440.1" y="327.03" width="6.6" height="2.73" fill="#d4c4e7"/>
<rect x="440.1" y="329.71" width="6.6" height="2.73" fill="#dfd4ed"/>
<rect x="440.1" y="332.39" width="6.6" height="2.73" fill="#eae3f3"/>
<rect x="440.1" y="335.08" width="6.6" height="2.73" fill="#f2edf7"/>
<rect x="440.1" y="337.76" width="6.6" height="2.73" fill="#f2edf7"/>
<rect x="440.1" y="340.44" width="6.6" height="2.73" fill="#eae3f3"/>
<rect x="440.1" y="343.12" width="6.6" height="2.73" fill="#af94d2"/>
<rect x="440.1" y="345.80" width="6.6" height="2.73" fill="#c9b6e1"/>
<rect x="440.1" y="348.48" width="6.6" height="2.73" fill="#af94d2"/>
<rect x="440.1" y="351.16" width="6.6" height="2.73" fill="#d4c4e7"/>
<rect x="440.1" y="353.84" width="6.6" height="2.73" fill="#dfd4ed"/>
<rect x="440.1" y="356.52" width="6.6" height="2.73" fill="#eae3f3"/>
<rect x="440.1" y="359.20" width="6.6" height="2.73" fill="#eae3f3"/>
<rect x="440.1" y="361.88" width="6.6" height="2.73" fill="#eae3f3"/>
<rect x="440.1" y="364.57" width="6.6" height="2.73" fill="#eae3f3"/>
<rect x="440.1" y="367.25" width="6.6" height="2.73" fill="#eae3f3"/>
<rect x="440.1" y="369.93" width="6.6" height="2.73" fill="#bca5da"/>
<rect x="440.1" y="372.61" width="6.6" height="2.73" fill="#d4c4e7"/>
<rect x="440.1" y="375.29" width="6.6" height="2.73" fill="#dfd4ed"/>
<rect x="440.1" y="377.97" width="6.6" height="2.73" fill="#eae3f3"/>
<rect x="440.1" y="380.65" width="6.6" height="2.73" fill="#d4c4e7"/>
<rect x="440.1" y="383.33" width="6.6" height="2.73" fill="#d4c4e7"/>
<rect x="440.1" y="386.01" width="6.6" height="2.73" fill="#eae3f3"/>
<rect x="440.1" y="388.69" width="6.6" height="2.73" fill="#f2edf7"/>
<rect x="440.1" y="391.38" width="6.6" height="2.73" fill="#dfd4ed"/>
<rect x="440.1" y="394.06" width="6.6" height="2.73" fill="#eae3f3"/>
<rect x="440.1" y="396.74" width="6.6" height="2.73" fill="#c9b6e1"/>
<rect x="440.1" y="399.42" width="6.6" height="2.73" fill="#f2edf7"/>
<rect x="440.1" y="402.10" width="6.6" height="2.73" fill="#f2edf7"/>
<rect x="440.1" y="404.78" width="6.6" height="2.73" fill="#d4c4e7"/>
<rect x="440.1" y="407.46" width="6.6" height="2.73" fill="#dfd4ed"/>
<rect x="440.1" y="410.14" width="6.6" height="2.73" fill="#f2edf7"/>
<rect x="440.1" y="412.82" width="6.6" height="2.73" fill="#fcfbfd"/>
<rect x="440.1" y="415.50" width="6.6" height="2.73" fill="#f2edf7"/>
<rect x="440.1" y="418.19" width="6.6" height="2.73" fill="#fcfbfd"/>
<rect x="440.1" y="420.87" width="6.6" height="2.73" fill="#eae3f3"/>
<rect x="440.1" y="423.55" width="6.6" height="2.73" fill="#fcfbfd"/>
<rect x="440.1" y="426.23" width="6.6" height="2.73" fill="#fcfbfd"/>
<rect x="440.1" y="428.91" width="6.6" height="2.73" fill="#eae3f3"/>
<rect x="440.1" y="431.59" width="6.6" height="2.73" fill="#fcfbfd"/>
<rect x="440.1" y="434.27" width="6.6" height="2.73" fill="#fcfbfd"/>
<rect x="440.1" y="436.95" width="6.6" height="2.73" fill="#eae3f3"/>
<rect x="440.1" y="439.63" width="6.6" height="2.73" fill="#fcfbfd"/>
<rect x="440.1" y="442.31" width="6.6" height="2.73" fill="#fcfbfd"/>
<rect x="440.1" y="445.00" width="6.6" height="2.73" fill="#eae3f3"/>
<rect x="440.1" y="447.68" width="6.6" height="2.73" fill="#fcfbfd"/>
<rect x="440.1" y="450.36" width="6.6" height="2.73" fill="#fcfbfd"/>
<rect x="440.1" y="453.04" width="6.6" height="2.73" fill="#eae3f3"/>
<rect x="440.1" y="455.72" width="6.6" height="2.73" fill="#eae3f3"/>
<rect x="440.1" y="458.40" width="6.6" height="2.73" fill="#fcfbfd"/>
<rect x="440.1" y="461.08" width="6.6" height="2.73" fill="#fcfbfd"/>
<g font-size="3.1" fill="#000"><text x="447.6" y="136.45">KMT2D</text><text x="447.6" y="139.13">CREBBP</text><text x="447.6" y="141.81">PIM1</text><text x="447.6" y="144.49">BCL2</text><text x="447.6" y="147.17">MYD88</text><text x="447.6" y="149.85">CD79B</text><text x="447.6" y="152.54">TP53</text><text x="447.6" y="155.22">EZH2</text><text x="447.6" y="157.90">B2M</text><text x="447.6" y="160.58">CD70</text><text x="447.6" y="163.26">TNFAIP3</text><text x="447.6" y="165.94">SGK1</text><text x="447.6" y="168.62">GNA13</text><text x="447.6" y="171.30">BTG1</text><text x="447.6" y="173.98">BTG2</text><text x="447.6" y="176.66">CARD11</text><text x="447.6" y="179.35">TNFRSF14</text><text x="447.6" y="182.03">EP300</text><text x="447.6" y="184.71">FAS</text><text x="447.6" y="187.39">HIST1H1E</text><text x="447.6" y="190.07">HIST1H1C</text><text x="447.6" y="192.75">HIST1H1B</text><text x="447.6" y="195.43">HIST1H2BC</text><text x="447.6" y="198.11">HIST1H2AC</text><text x="447.6" y="200.79">HIST1H1D</text><text x="447.6" y="203.47">ARID1A</text><text x="447.6" y="206.16">SOCS1</text><text x="447.6" y="208.84">STAT6</text><text x="447.6" y="211.52">NFKBIE</text><text x="447.6" y="214.20">ETV6</text><text x="447.6" y="216.88">TMSB4X</text><text x="447.6" y="219.56">IRF4</text><text x="447.6" y="222.24">IRF8</text><text x="447.6" y="224.92">KLHL6</text><text x="447.6" y="227.60">ZFP36L1</text><text x="447.6" y="230.28">DUSP2</text><text x="447.6" y="232.97">BCL6</text><text x="447.6" y="235.65">MYC</text><text x="447.6" y="238.33">CCND3</text><text x="447.6" y="241.01">POU2AF1</text><text x="447.6" y="243.69">POU2F2</text><text x="447.6" y="246.37">S1PR2</text><text x="447.6" y="249.05">P2RY8</text><text x="447.6" y="251.73">GNAI2</text><text x="447.6" y="254.41">RHOA</text><text x="447.6" y="257.09">NOTCH1</text><text x="447.6" y="259.78">NOTCH2</text><text x="447.6" y="262.46">SPEN</text><text x="447.6" y="265.14">TBL1XR1</text><text x="447.6" y="267.82">PRDM1</text><text x="447.6" y="270.50">CD58</text><text x="447.6" y="273.18">CIITA</text><text x="447.6" y="275.86">HLA-A</text><text x="447.6" y="278.54">HLA-B</text><text x="447.6" y="281.22">HLA-C</text><text x="447.6" y="283.91">KLF2</text><text x="447.6" y="286.59">NFKBIA</text><text x="447.6" y="289.27">TET2</text><text x="447.6" y="291.95">BRAF</text><text x="447.6" y="294.63">KRAS</text><text x="447.6" y="297.31">NRAS</text><text x="447.6" y="299.99">SF3B1</text><text x="447.6" y="302.67">ATM</text><text x="447.6" y="305.35">CDKN2A</text><text x="447.6" y="308.03">PTEN</text><text x="447.6" y="310.71">ITPKB</text><text x="447.6" y="313.40">MEF2B</text><text x="447.6" y="316.08">TCF3</text><text x="447.6" y="318.76">ID3</text><text x="447.6" y="321.44">FOXO1</text><text x="447.6" y="324.12">DDX3X</text><text x="447.6" y="326.80">CD83</text><text x="447.6" y="329.48">BCL10</text><text x="447.6" y="332.16">ZC3H12A</text><text x="447.6" y="334.84">LTB</text><text x="447.6" y="337.53">CXCR4</text><text x="447.6" y="340.21">EBF1</text><text x="447.6" y="342.89">IKZF3</text><text x="447.6" y="345.57">IKZF1</text><text x="447.6" y="348.25">PTPN6</text><text x="447.6" y="350.93">TOX</text><text x="447.6" y="353.61">OSBPL10</text><text x="447.6" y="356.29">ACTB</text><text x="447.6" y="358.97">ACTG1</text><text x="447.6" y="361.65">YY1</text><text x="447.6" y="364.33">BCL7A</text><text x="447.6" y="367.02">SETD1B</text><text x="447.6" y="369.70">KMT2C</text><text x="447.6" y="372.38">ARID1B</text><text x="447.6" y="375.06">SMARCA4</text><text x="447.6" y="377.74">CHD8</text><text x="447.6" y="380.42">NCOR1</text><text x="447.6" y="383.10">ZNF608</text><text x="447.6" y="385.78">PAX5</text><text x="447.6" y="388.46">IRF2BP2</text><text x="447.6" y="391.14">SPOP</text><text x="447.6" y="393.83">TNFRSF10A</text><text x="447.6" y="396.51">CD274</text><text x="447.6" y="399.19">JAK2</text><text x="447.6" y="401.87">STAT3</text><text x="447.6" y="404.55">XPO1</text><text x="447.6" y="407.23">PRKCB</text><text x="447.6" y="409.91">EEF1A1</text><text x="447.6" y="412.59">HVCN1</text><text x="447.6" y="415.27">ETS1</text><text x="447.6" y="417.95">FBXO11</text><text x="447.6" y="420.64">UBE2A</text><text x="447.6" y="423.32">NFKBIZ</text><text x="447.6" y="426.00">LYN</text><text x="447.6" y="428.68">BLNK</text><text x="447.6" y="431.36">SYK</text><text x="447.6" y="434.04">BTK</text><text x="447.6" y="436.72">PLCG2</text><text x="447.6" y="439.40">PIK3CD</text><text x="447.6" y="442.08">DTX1</text><text x="447.6" y="444.76">SESN3</text><text x="447.6" y="447.45">RFTN1</text><text x="447.6" y="450.13">FOXC1</text><text x="447.6" y="452.81">ZEB2</text><text x="447.6" y="455.49">TBCC</text><text x="447.6" y="458.17">MPEG1</text><text x="447.6" y="460.85">PABPC1</text><text x="447.6" y="463.53">LRP1B</text></g>
<line x1="469" y1="134.50" x2="469" y2="187.12" stroke="#777" stroke-width="0.8"/>
<text x="471.80" y="154.00" font-size="5.12" text-anchor="start" fill="#222">Gene</text>
<text x="471.80" y="159.60" font-size="5.12" text-anchor="start" fill="#222">initially reported</text>
<text x="471.80" y="165.20" font-size="5.12" text-anchor="start" fill="#222">in another</text>
<text x="471.80" y="170.80" font-size="5.12" text-anchor="start" fill="#222">study</text>
<line x1="469" y1="188.12" x2="469" y2="264.87" stroke="#777" stroke-width="0.8"/>
<text x="471.80" y="212.60" font-size="5.12" text-anchor="start" fill="#222">Morin 2011</text>
<line x1="469" y1="265.87" x2="469" y2="272.91" stroke="#777" stroke-width="0.8"/>
<text x="471.80" y="271.40" font-size="5.12" text-anchor="start" fill="#222">Pasqualucci 2011</text>
<line x1="469" y1="273.91" x2="469" y2="313.13" stroke="#777" stroke-width="0.8"/>
<text x="471.80" y="295.50" font-size="5.12" text-anchor="start" fill="#222">Lohr 2012</text>
<line x1="469" y1="314.13" x2="469" y2="345.30" stroke="#777" stroke-width="0.8"/>
<text x="471.80" y="331.60" font-size="5.12" text-anchor="start" fill="#222">Zhang 2013</text>
<line x1="469" y1="346.30" x2="469" y2="369.43" stroke="#777" stroke-width="0.8"/>
<text x="471.80" y="360.30" font-size="5.12" text-anchor="start" fill="#222">Morin 2013</text>
<line x1="469" y1="370.43" x2="469" y2="380.15" stroke="#777" stroke-width="0.8"/>
<text x="471.80" y="378.00" font-size="5.12" text-anchor="start" fill="#222">Albuquerque 2017</text>
<line x1="469" y1="381.15" x2="469" y2="412.32" stroke="#777" stroke-width="0.8"/>
<text x="471.80" y="398.80" font-size="5.12" text-anchor="start" fill="#222">Reddy 2017</text>
<line x1="469" y1="413.32" x2="469" y2="423.05" stroke="#777" stroke-width="0.8"/>
<text x="471.80" y="420.10" font-size="5.12" text-anchor="start" fill="#222">Schmitz 2018</text>
<line x1="469" y1="424.05" x2="469" y2="449.86" stroke="#777" stroke-width="0.8"/>
<text x="471.80" y="438.00" font-size="5.12" text-anchor="start" fill="#222">Chapuy 2018</text>
<line x1="469" y1="450.86" x2="469" y2="455.22" stroke="#777" stroke-width="0.8"/>
<text x="471.80" y="453.90" font-size="5.12" text-anchor="start" fill="#222">Arthur 2018</text>
<line x1="469" y1="456.22" x2="469" y2="457.90" stroke="#777" stroke-width="0.8"/>
<text x="471.80" y="459.10" font-size="5.12" text-anchor="start" fill="#222">Fan 2020</text>
<line x1="469" y1="458.90" x2="469" y2="463.26" stroke="#777" stroke-width="0.8"/>
<text x="471.80" y="463.70" font-size="5.12" text-anchor="start" fill="#222">Hubschmann 2021</text>
<text x="230.2" y="395.2" font-size="5.0" fill="#222">Initial report</text>
<text x="230.2" y="404.8" font-size="5.0" fill="#222">Confirmation</text>
<rect x="260.90" y="388.9" width="1.95" height="7.5" fill="#5a9e7a"/>
<rect x="262.85" y="388.9" width="1.95" height="7.5" fill="#d0653a"/>
<rect x="264.80" y="388.9" width="1.95" height="7.5" fill="#a6d4c4"/>
<rect x="266.75" y="388.9" width="1.95" height="7.5" fill="#c9d184"/>
<rect x="268.70" y="388.9" width="1.95" height="7.5" fill="#5e9f8e"/>
<rect x="260.9" y="398.6" width="9.8" height="8.1" fill="#e2def0"/>
<rect x="261.1" y="412.7" width="7" height="31.2" fill="url(#gh)"/>
<text x="269.80" y="416.00" font-size="5.0" text-anchor="start" fill="#222">15</text>
<text x="269.80" y="427.10" font-size="5.0" text-anchor="start" fill="#222">10</text>
<text x="269.80" y="438.30" font-size="5.0" text-anchor="start" fill="#222">5</text>
<text x="269.80" y="449.00" font-size="5.0" text-anchor="start" fill="#222">0</text>
<text x="235.40" y="425.90" font-size="5.0" text-anchor="start" fill="#222">Number of</text>
<text x="235.40" y="432.30" font-size="5.0" text-anchor="start" fill="#222">confirming</text>
<text x="235.40" y="438.00" font-size="5.0" text-anchor="start" fill="#222">studies</text>
<line x1="191.6" y1="136.8" x2="191.6" y2="261.5" stroke="#777" stroke-width="0.8"/>
<line x1="197.6" y1="134.7" x2="197.6" y2="261.5" stroke="#777" stroke-width="0.8"/>
<circle cx="191.6" cy="137.5" r="1" fill="#d9633f"/>
<circle cx="191.6" cy="140" r="1" fill="#d9633f"/>
<circle cx="191.6" cy="142.5" r="1" fill="#d9633f"/>
<circle cx="191.6" cy="145.7" r="0.9" fill="#8a6a60"/>
<circle cx="191.6" cy="188.4" r="0.9" fill="#8a6a60"/>
<circle cx="191.6" cy="261" r="0.9" fill="#8a6a60"/>
<circle cx="191.6" cy="192.2" r="1" fill="#e0583f"/>
<circle cx="191.6" cy="194.7" r="1" fill="#e0583f"/>
<circle cx="191.6" cy="196.8" r="1" fill="#e0583f"/>
<circle cx="197.6" cy="135.5" r="1" fill="#323f7e"/>
<circle cx="197.6" cy="137.8" r="1" fill="#323f7e"/>
<circle cx="197.6" cy="140.3" r="1" fill="#323f7e"/>
<circle cx="197.6" cy="143" r="1" fill="#323f7e"/>
<circle cx="197.6" cy="178.2" r="1" fill="#323f7e"/>
<circle cx="197.6" cy="183.7" r="1" fill="#323f7e"/>
<circle cx="197.6" cy="188.4" r="1" fill="#323f7e"/>
<circle cx="197.6" cy="223.4" r="1" fill="#323f7e"/>
<circle cx="197.6" cy="232.5" r="1" fill="#323f7e"/>
<circle cx="197.6" cy="261" r="1" fill="#323f7e"/>
<line x1="108" y1="154.3" x2="188" y2="154.3" stroke="#aaa" stroke-width="0.5" stroke-dasharray="1.2,1.6"/>
<line x1="194.6" y1="264.6" x2="149.5" y2="315" stroke="#bbb" stroke-width="0.5" stroke-dasharray="1.2,1.6"/>
<rect x="0.5" y="0.5" width="519" height="470" fill="none" stroke="#555" stroke-width="1"/>
</svg></body></html>
